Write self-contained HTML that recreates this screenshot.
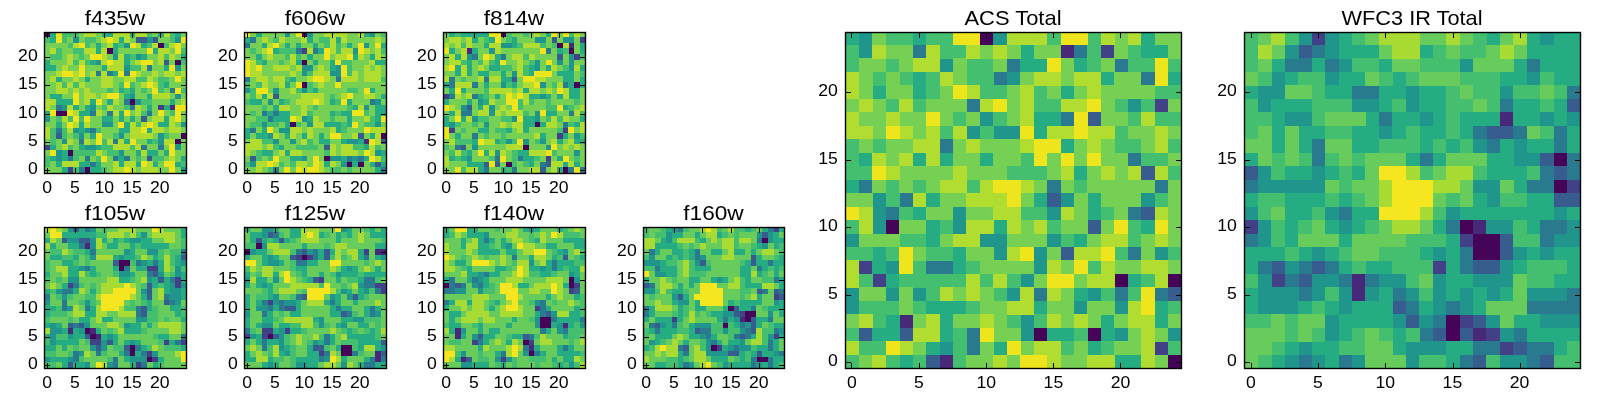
<!DOCTYPE html><html><head><meta charset="utf-8"><title>plot</title><style>html,body{margin:0;padding:0;background:#fff;overflow:hidden}svg{display:block;will-change:transform;opacity:0.9999}text{font-family:"Liberation Sans",sans-serif;fill:#000}</style></head><body>
<svg width="1600" height="400" viewBox="0 0 1600 400">
<rect width="1600" height="400" fill="#fff"/>
<clipPath id="c3"><rect x="44.5" y="32.5" width="142.0" height="141.0"/></clipPath>
<g shape-rendering="crispEdges" clip-path="url(#c3)">
<path fill="#450457" d="M44.50 31.20H50.48V37.16H44.50ZM158.10 42.52H164.08V48.48H158.10ZM106.98 48.18H112.96V54.14H106.98ZM175.14 59.50H181.12V65.46H175.14ZM129.70 99.12H135.68V105.08H129.70ZM55.86 110.44H67.52V116.40H55.86ZM180.82 133.08H186.80V139.04H180.82ZM175.14 138.74H181.12V144.70H175.14ZM67.22 150.06H73.20V156.02H67.22ZM84.26 167.04H90.24V173.00H84.26Z"/>
<path fill="#482878" d="M169.46 104.78H175.44V110.74H169.46Z"/>
<path fill="#424086" d="M158.10 104.78H164.08V110.74H158.10ZM44.50 144.40H50.48V150.36H44.50ZM67.22 167.04H73.20V173.00H67.22Z"/>
<path fill="#365d8d" d="M135.38 36.86H147.04V42.82H135.38ZM152.42 36.86H158.40V42.82H152.42ZM163.78 59.50H169.76V65.46H163.78ZM141.06 116.10H147.04V122.06H141.06ZM55.86 133.08H61.84V139.04H55.86ZM146.74 155.72H152.72V161.68H146.74Z"/>
<path fill="#297a8e" d="M146.74 65.16H152.72V71.12H146.74ZM95.62 70.82H101.60V76.78H95.62ZM106.98 70.82H112.96V76.78H106.98ZM124.02 70.82H130.00V76.78H124.02ZM169.46 87.80H175.44V93.76H169.46ZM124.02 99.12H130.00V105.08H124.02ZM55.86 104.78H61.84V110.74H55.86ZM129.70 104.78H135.68V110.74H129.70ZM89.94 110.44H95.92V116.40H89.94ZM106.98 110.44H112.96V116.40H106.98ZM146.74 110.44H152.72V116.40H146.74ZM55.86 127.42H61.84V133.38H55.86ZM89.94 127.42H95.92V133.38H89.94ZM78.58 138.74H84.56V144.70H78.58ZM112.66 138.74H118.64V144.70H112.66ZM141.06 144.40H147.04V150.36H141.06ZM158.10 144.40H164.08V150.36H158.10ZM67.22 155.72H73.20V161.68H67.22ZM84.26 155.72H90.24V161.68H84.26ZM112.66 155.72H118.64V161.68H112.66ZM124.02 155.72H130.00V161.68H124.02ZM89.94 161.38H95.92V167.34H89.94ZM78.58 167.04H84.56V173.00H78.58Z"/>
<path fill="#1f958b" d="M72.90 36.86H78.88V42.82H72.90ZM146.74 36.86H152.72V42.82H146.74ZM175.14 36.86H181.12V42.82H175.14ZM124.02 42.52H130.00V48.48H124.02ZM112.66 53.84H118.64V59.80H112.66ZM135.38 53.84H141.36V59.80H135.38ZM95.62 59.50H101.60V65.46H95.62ZM124.02 65.16H130.00V71.12H124.02ZM175.14 65.16H181.12V71.12H175.14ZM129.70 93.46H135.68V99.42H129.70ZM175.14 93.46H181.12V99.42H175.14ZM135.38 99.12H141.36V105.08H135.38ZM61.54 104.78H67.52V110.74H61.54ZM89.94 104.78H95.92V110.74H89.94ZM44.50 116.10H50.48V122.06H44.50ZM101.30 121.76H112.96V127.72H101.30ZM180.82 121.76H186.80V127.72H180.82ZM72.90 127.42H78.88V133.38H72.90ZM84.26 127.42H90.24V133.38H84.26ZM78.58 133.08H84.56V139.04H78.58ZM118.34 133.08H124.32V139.04H118.34ZM158.10 133.08H164.08V139.04H158.10ZM61.54 138.74H67.52V144.70H61.54ZM158.10 138.74H164.08V144.70H158.10ZM84.26 144.40H95.92V150.36H84.26ZM175.14 144.40H181.12V150.36H175.14ZM55.86 150.06H61.84V156.02H55.86ZM118.34 150.06H124.32V156.02H118.34ZM55.86 155.72H61.84V161.68H55.86ZM180.82 167.04H186.80V173.00H180.82Z"/>
<path fill="#25ac82" d="M50.18 31.20H56.16V37.16H50.18ZM101.30 31.20H112.96V37.16H101.30ZM129.70 31.20H135.68V37.16H129.70ZM158.10 31.20H164.08V37.16H158.10ZM175.14 31.20H181.12V37.16H175.14ZM50.18 36.86H56.16V42.82H50.18ZM118.34 36.86H124.32V42.82H118.34ZM95.62 42.52H101.60V48.48H95.62ZM112.66 42.52H118.64V48.48H112.66ZM141.06 42.52H147.04V48.48H141.06ZM95.62 48.18H101.60V54.14H95.62ZM112.66 48.18H118.64V54.14H112.66ZM152.42 48.18H158.40V54.14H152.42ZM124.02 53.84H130.00V59.80H124.02ZM141.06 53.84H147.04V59.80H141.06ZM180.82 53.84H186.80V59.80H180.82ZM44.50 59.50H50.48V65.46H44.50ZM89.94 59.50H95.92V65.46H89.94ZM124.02 59.50H130.00V65.46H124.02ZM44.50 65.16H56.16V71.12H44.50ZM101.30 65.16H107.28V71.12H101.30ZM163.78 65.16H169.76V71.12H163.78ZM112.66 70.82H118.64V76.78H112.66ZM55.86 76.48H61.84V82.44H55.86ZM84.26 76.48H90.24V82.44H84.26ZM163.78 82.14H169.76V88.10H163.78ZM118.34 87.80H124.32V93.76H118.34ZM129.70 87.80H135.68V93.76H129.70ZM50.18 93.46H61.84V99.42H50.18ZM124.02 93.46H130.00V99.42H124.02ZM146.74 93.46H152.72V99.42H146.74ZM55.86 99.12H73.20V105.08H55.86ZM89.94 99.12H95.92V105.08H89.94ZM106.98 99.12H112.96V105.08H106.98ZM169.46 99.12H175.44V105.08H169.46ZM72.90 104.78H78.88V110.74H72.90ZM84.26 104.78H90.24V110.74H84.26ZM146.74 104.78H152.72V110.74H146.74ZM163.78 104.78H169.76V110.74H163.78ZM44.50 110.44H50.48V116.40H44.50ZM78.58 110.44H90.24V116.40H78.58ZM118.34 110.44H124.32V116.40H118.34ZM101.30 116.10H112.96V122.06H101.30ZM118.34 116.10H124.32V122.06H118.34ZM129.70 116.10H135.68V122.06H129.70ZM163.78 116.10H169.76V122.06H163.78ZM55.86 121.76H61.84V127.72H55.86ZM78.58 121.76H84.56V127.72H78.58ZM124.02 121.76H130.00V127.72H124.02ZM158.10 121.76H169.76V127.72H158.10ZM78.58 127.42H84.56V133.38H78.58ZM118.34 127.42H130.00V133.38H118.34ZM146.74 127.42H152.72V133.38H146.74ZM89.94 133.08H95.92V139.04H89.94ZM124.02 138.74H130.00V144.70H124.02ZM146.74 138.74H152.72V144.70H146.74ZM50.18 144.40H56.16V150.36H50.18ZM78.58 144.40H84.56V150.36H78.58ZM95.62 144.40H101.60V150.36H95.62ZM61.54 150.06H67.52V156.02H61.54ZM135.38 150.06H141.36V156.02H135.38ZM146.74 150.06H158.40V156.02H146.74ZM163.78 150.06H169.76V156.02H163.78ZM50.18 155.72H56.16V161.68H50.18ZM61.54 155.72H67.52V161.68H61.54ZM118.34 155.72H124.32V161.68H118.34ZM180.82 155.72H186.80V161.68H180.82ZM55.86 161.38H61.84V167.34H55.86ZM78.58 161.38H90.24V167.34H78.58ZM95.62 161.38H101.60V167.34H95.62ZM118.34 161.38H124.32V167.34H118.34ZM135.38 161.38H141.36V167.34H135.38ZM152.42 161.38H158.40V167.34H152.42ZM175.14 161.38H181.12V167.34H175.14ZM61.54 167.04H67.52V173.00H61.54ZM89.94 167.04H101.60V173.00H89.94Z"/>
<path fill="#44bf70" d="M61.54 31.20H78.88V37.16H61.54ZM146.74 31.20H152.72V37.16H146.74ZM169.46 31.20H175.44V37.16H169.46ZM44.50 36.86H50.48V42.82H44.50ZM61.54 36.86H67.52V42.82H61.54ZM84.26 36.86H95.92V42.82H84.26ZM169.46 36.86H175.44V42.82H169.46ZM67.22 42.52H73.20V48.48H67.22ZM84.26 42.52H90.24V48.48H84.26ZM118.34 42.52H124.32V48.48H118.34ZM146.74 42.52H152.72V48.48H146.74ZM163.78 42.52H169.76V48.48H163.78ZM55.86 48.18H61.84V54.14H55.86ZM72.90 48.18H84.56V54.14H72.90ZM180.82 48.18H186.80V54.14H180.82ZM50.18 53.84H61.84V59.80H50.18ZM78.58 53.84H84.56V59.80H78.58ZM129.70 53.84H135.68V59.80H129.70ZM163.78 53.84H169.76V59.80H163.78ZM72.90 59.50H78.88V65.46H72.90ZM84.26 59.50H90.24V65.46H84.26ZM180.82 59.50H186.80V65.46H180.82ZM129.70 65.16H141.36V71.12H129.70ZM135.38 76.48H147.04V82.44H135.38ZM158.10 76.48H169.76V82.44H158.10ZM61.54 82.14H67.52V88.10H61.54ZM72.90 82.14H78.88V88.10H72.90ZM118.34 82.14H124.32V88.10H118.34ZM129.70 82.14H135.68V88.10H129.70ZM158.10 82.14H164.08V88.10H158.10ZM106.98 87.80H112.96V93.76H106.98ZM124.02 87.80H130.00V93.76H124.02ZM141.06 87.80H147.04V93.76H141.06ZM158.10 87.80H164.08V93.76H158.10ZM180.82 87.80H186.80V93.76H180.82ZM141.06 99.12H152.72V105.08H141.06ZM101.30 104.78H107.28V110.74H101.30ZM124.02 104.78H130.00V110.74H124.02ZM141.06 110.44H147.04V116.40H141.06ZM169.46 110.44H175.44V116.40H169.46ZM55.86 116.10H61.84V122.06H55.86ZM67.22 116.10H73.20V122.06H67.22ZM78.58 116.10H84.56V122.06H78.58ZM135.38 121.76H141.36V127.72H135.38ZM50.18 127.42H56.16V133.38H50.18ZM61.54 127.42H67.52V133.38H61.54ZM95.62 127.42H101.60V133.38H95.62ZM50.18 133.08H56.16V139.04H50.18ZM61.54 133.08H67.52V139.04H61.54ZM72.90 133.08H78.88V139.04H72.90ZM112.66 133.08H118.64V139.04H112.66ZM163.78 133.08H169.76V139.04H163.78ZM50.18 138.74H56.16V144.70H50.18ZM101.30 138.74H107.28V144.70H101.30ZM152.42 138.74H158.40V144.70H152.42ZM67.22 144.40H73.20V150.36H67.22ZM101.30 144.40H112.96V150.36H101.30ZM129.70 144.40H135.68V150.36H129.70ZM72.90 150.06H95.92V156.02H72.90ZM106.98 150.06H118.64V156.02H106.98ZM44.50 155.72H50.48V161.68H44.50ZM72.90 155.72H78.88V161.68H72.90ZM95.62 155.72H101.60V161.68H95.62ZM135.38 155.72H141.36V161.68H135.38ZM152.42 155.72H164.08V161.68H152.42ZM44.50 161.38H50.48V167.34H44.50ZM180.82 161.38H186.80V167.34H180.82ZM72.90 167.04H78.88V173.00H72.90ZM101.30 167.04H107.28V173.00H101.30Z"/>
<path fill="#75d054" d="M78.58 31.20H84.56V37.16H78.58ZM95.62 31.20H101.60V37.16H95.62ZM152.42 31.20H158.40V37.16H152.42ZM180.82 31.20H186.80V37.16H180.82ZM67.22 36.86H73.20V42.82H67.22ZM78.58 36.86H84.56V42.82H78.58ZM95.62 36.86H101.60V42.82H95.62ZM129.70 36.86H135.68V42.82H129.70ZM158.10 36.86H169.76V42.82H158.10ZM44.50 42.52H67.52V48.48H44.50ZM89.94 42.52H95.92V48.48H89.94ZM101.30 42.52H107.28V48.48H101.30ZM180.82 42.52H186.80V48.48H180.82ZM44.50 48.18H50.48V54.14H44.50ZM61.54 48.18H73.20V54.14H61.54ZM118.34 48.18H147.04V54.14H118.34ZM169.46 48.18H175.44V54.14H169.46ZM44.50 53.84H50.48V59.80H44.50ZM61.54 53.84H67.52V59.80H61.54ZM72.90 53.84H78.88V59.80H72.90ZM84.26 53.84H90.24V59.80H84.26ZM106.98 53.84H112.96V59.80H106.98ZM146.74 53.84H158.40V59.80H146.74ZM175.14 53.84H181.12V59.80H175.14ZM50.18 59.50H67.52V65.46H50.18ZM129.70 59.50H135.68V65.46H129.70ZM152.42 59.50H158.40V65.46H152.42ZM169.46 59.50H175.44V65.46H169.46ZM55.86 65.16H61.84V71.12H55.86ZM67.22 65.16H78.88V71.12H67.22ZM84.26 65.16H101.60V71.12H84.26ZM152.42 65.16H164.08V71.12H152.42ZM180.82 65.16H186.80V71.12H180.82ZM44.50 70.82H56.16V76.78H44.50ZM84.26 70.82H90.24V76.78H84.26ZM141.06 70.82H152.72V76.78H141.06ZM158.10 70.82H164.08V76.78H158.10ZM175.14 70.82H181.12V76.78H175.14ZM44.50 76.48H50.48V82.44H44.50ZM61.54 76.48H73.20V82.44H61.54ZM78.58 76.48H84.56V82.44H78.58ZM89.94 76.48H101.60V82.44H89.94ZM112.66 76.48H124.32V82.44H112.66ZM152.42 76.48H158.40V82.44H152.42ZM169.46 76.48H175.44V82.44H169.46ZM180.82 76.48H186.80V82.44H180.82ZM44.50 82.14H56.16V88.10H44.50ZM84.26 82.14H101.60V88.10H84.26ZM112.66 82.14H118.64V88.10H112.66ZM135.38 82.14H141.36V88.10H135.38ZM169.46 82.14H186.80V88.10H169.46ZM44.50 87.80H56.16V93.76H44.50ZM67.22 87.80H73.20V93.76H67.22ZM78.58 87.80H84.56V93.76H78.58ZM89.94 87.80H107.28V93.76H89.94ZM112.66 87.80H118.64V93.76H112.66ZM135.38 87.80H141.36V93.76H135.38ZM146.74 87.80H152.72V93.76H146.74ZM163.78 87.80H169.76V93.76H163.78ZM44.50 93.46H50.48V99.42H44.50ZM61.54 93.46H73.20V99.42H61.54ZM78.58 93.46H84.56V99.42H78.58ZM95.62 93.46H101.60V99.42H95.62ZM118.34 93.46H124.32V99.42H118.34ZM135.38 93.46H147.04V99.42H135.38ZM169.46 93.46H175.44V99.42H169.46ZM180.82 93.46H186.80V99.42H180.82ZM78.58 99.12H84.56V105.08H78.58ZM101.30 99.12H107.28V105.08H101.30ZM118.34 99.12H124.32V105.08H118.34ZM152.42 99.12H169.76V105.08H152.42ZM175.14 99.12H181.12V105.08H175.14ZM50.18 104.78H56.16V110.74H50.18ZM78.58 104.78H84.56V110.74H78.58ZM95.62 104.78H101.60V110.74H95.62ZM112.66 104.78H124.32V110.74H112.66ZM141.06 104.78H147.04V110.74H141.06ZM152.42 104.78H158.40V110.74H152.42ZM101.30 110.44H107.28V116.40H101.30ZM129.70 110.44H135.68V116.40H129.70ZM152.42 110.44H158.40V116.40H152.42ZM163.78 110.44H169.76V116.40H163.78ZM180.82 110.44H186.80V116.40H180.82ZM50.18 116.10H56.16V122.06H50.18ZM89.94 116.10H101.60V122.06H89.94ZM112.66 116.10H118.64V122.06H112.66ZM124.02 116.10H130.00V122.06H124.02ZM135.38 116.10H141.36V122.06H135.38ZM146.74 116.10H152.72V122.06H146.74ZM180.82 116.10H186.80V122.06H180.82ZM44.50 121.76H56.16V127.72H44.50ZM61.54 121.76H67.52V127.72H61.54ZM89.94 121.76H101.60V127.72H89.94ZM112.66 121.76H118.64V127.72H112.66ZM175.14 121.76H181.12V127.72H175.14ZM101.30 127.42H118.64V133.38H101.30ZM163.78 127.42H169.76V133.38H163.78ZM180.82 127.42H186.80V133.38H180.82ZM67.22 133.08H73.20V139.04H67.22ZM84.26 133.08H90.24V139.04H84.26ZM101.30 133.08H112.96V139.04H101.30ZM124.02 133.08H130.00V139.04H124.02ZM152.42 133.08H158.40V139.04H152.42ZM169.46 133.08H181.12V139.04H169.46ZM44.50 138.74H50.48V144.70H44.50ZM55.86 138.74H61.84V144.70H55.86ZM72.90 138.74H78.88V144.70H72.90ZM89.94 138.74H95.92V144.70H89.94ZM135.38 138.74H147.04V144.70H135.38ZM180.82 138.74H186.80V144.70H180.82ZM55.86 144.40H61.84V150.36H55.86ZM72.90 144.40H78.88V150.36H72.90ZM146.74 144.40H158.40V150.36H146.74ZM163.78 144.40H169.76V150.36H163.78ZM180.82 144.40H186.80V150.36H180.82ZM44.50 150.06H50.48V156.02H44.50ZM101.30 150.06H107.28V156.02H101.30ZM124.02 150.06H135.68V156.02H124.02ZM158.10 150.06H164.08V156.02H158.10ZM175.14 150.06H186.80V156.02H175.14ZM78.58 155.72H84.56V161.68H78.58ZM89.94 155.72H95.92V161.68H89.94ZM106.98 155.72H112.96V161.68H106.98ZM129.70 155.72H135.68V161.68H129.70ZM141.06 155.72H147.04V161.68H141.06ZM163.78 155.72H169.76V161.68H163.78ZM175.14 155.72H181.12V161.68H175.14ZM50.18 161.38H56.16V167.34H50.18ZM101.30 161.38H112.96V167.34H101.30ZM158.10 161.38H164.08V167.34H158.10ZM44.50 167.04H61.84V173.00H44.50ZM106.98 167.04H112.96V173.00H106.98ZM135.38 167.04H141.36V173.00H135.38ZM158.10 167.04H169.76V173.00H158.10ZM175.14 167.04H181.12V173.00H175.14Z"/>
<path fill="#b0dd2f" d="M84.26 31.20H95.92V37.16H84.26ZM112.66 31.20H130.00V37.16H112.66ZM135.38 31.20H147.04V37.16H135.38ZM163.78 31.20H169.76V37.16H163.78ZM101.30 36.86H107.28V42.82H101.30ZM112.66 36.86H118.64V42.82H112.66ZM124.02 36.86H130.00V42.82H124.02ZM72.90 42.52H78.88V48.48H72.90ZM106.98 42.52H112.96V48.48H106.98ZM135.38 42.52H141.36V48.48H135.38ZM152.42 42.52H158.40V48.48H152.42ZM169.46 42.52H175.44V48.48H169.46ZM50.18 48.18H56.16V54.14H50.18ZM84.26 48.18H95.92V54.14H84.26ZM101.30 48.18H107.28V54.14H101.30ZM158.10 48.18H169.76V54.14H158.10ZM67.22 53.84H73.20V59.80H67.22ZM101.30 53.84H107.28V59.80H101.30ZM118.34 53.84H124.32V59.80H118.34ZM158.10 53.84H164.08V59.80H158.10ZM169.46 53.84H175.44V59.80H169.46ZM67.22 59.50H73.20V65.46H67.22ZM78.58 59.50H84.56V65.46H78.58ZM101.30 59.50H107.28V65.46H101.30ZM112.66 59.50H124.32V65.46H112.66ZM135.38 59.50H141.36V65.46H135.38ZM158.10 59.50H164.08V65.46H158.10ZM61.54 65.16H67.52V71.12H61.54ZM106.98 65.16H124.32V71.12H106.98ZM141.06 65.16H147.04V71.12H141.06ZM55.86 70.82H61.84V76.78H55.86ZM72.90 70.82H78.88V76.78H72.90ZM89.94 70.82H95.92V76.78H89.94ZM101.30 70.82H107.28V76.78H101.30ZM135.38 70.82H141.36V76.78H135.38ZM152.42 70.82H158.40V76.78H152.42ZM163.78 70.82H175.44V76.78H163.78ZM180.82 70.82H186.80V76.78H180.82ZM50.18 76.48H56.16V82.44H50.18ZM72.90 76.48H78.88V82.44H72.90ZM101.30 76.48H112.96V82.44H101.30ZM124.02 76.48H135.68V82.44H124.02ZM146.74 76.48H152.72V82.44H146.74ZM55.86 82.14H61.84V88.10H55.86ZM67.22 82.14H73.20V88.10H67.22ZM78.58 82.14H84.56V88.10H78.58ZM101.30 82.14H112.96V88.10H101.30ZM141.06 82.14H147.04V88.10H141.06ZM152.42 82.14H158.40V88.10H152.42ZM55.86 87.80H67.52V93.76H55.86ZM72.90 87.80H78.88V93.76H72.90ZM84.26 87.80H90.24V93.76H84.26ZM84.26 93.46H95.92V99.42H84.26ZM101.30 93.46H107.28V99.42H101.30ZM152.42 93.46H169.76V99.42H152.42ZM44.50 99.12H56.16V105.08H44.50ZM84.26 99.12H90.24V105.08H84.26ZM112.66 99.12H118.64V105.08H112.66ZM180.82 99.12H186.80V105.08H180.82ZM44.50 104.78H50.48V110.74H44.50ZM67.22 104.78H73.20V110.74H67.22ZM106.98 104.78H112.96V110.74H106.98ZM135.38 104.78H141.36V110.74H135.38ZM72.90 110.44H78.88V116.40H72.90ZM95.62 110.44H101.60V116.40H95.62ZM112.66 110.44H118.64V116.40H112.66ZM135.38 110.44H141.36V116.40H135.38ZM61.54 116.10H67.52V122.06H61.54ZM152.42 116.10H164.08V122.06H152.42ZM169.46 116.10H175.44V122.06H169.46ZM72.90 121.76H78.88V127.72H72.90ZM84.26 121.76H90.24V127.72H84.26ZM129.70 121.76H135.68V127.72H129.70ZM141.06 121.76H147.04V127.72H141.06ZM152.42 121.76H158.40V127.72H152.42ZM169.46 121.76H175.44V127.72H169.46ZM44.50 127.42H50.48V133.38H44.50ZM67.22 127.42H73.20V133.38H67.22ZM129.70 127.42H141.36V133.38H129.70ZM152.42 127.42H164.08V133.38H152.42ZM169.46 127.42H181.12V133.38H169.46ZM44.50 133.08H50.48V139.04H44.50ZM129.70 133.08H152.72V139.04H129.70ZM67.22 138.74H73.20V144.70H67.22ZM84.26 138.74H90.24V144.70H84.26ZM106.98 138.74H112.96V144.70H106.98ZM118.34 138.74H124.32V144.70H118.34ZM163.78 138.74H175.44V144.70H163.78ZM61.54 144.40H67.52V150.36H61.54ZM112.66 144.40H130.00V150.36H112.66ZM135.38 144.40H141.36V150.36H135.38ZM95.62 150.06H101.60V156.02H95.62ZM141.06 150.06H147.04V156.02H141.06ZM169.46 155.72H175.44V161.68H169.46ZM61.54 161.38H78.88V167.34H61.54ZM112.66 161.38H118.64V167.34H112.66ZM124.02 161.38H135.68V167.34H124.02ZM146.74 161.38H152.72V167.34H146.74ZM112.66 167.04H124.32V173.00H112.66ZM129.70 167.04H135.68V173.00H129.70ZM141.06 167.04H158.40V173.00H141.06Z"/>
<path fill="#efe51c" d="M55.86 31.20H61.84V37.16H55.86ZM55.86 36.86H61.84V42.82H55.86ZM106.98 36.86H112.96V42.82H106.98ZM180.82 36.86H186.80V42.82H180.82ZM78.58 42.52H84.56V48.48H78.58ZM129.70 42.52H135.68V48.48H129.70ZM175.14 42.52H181.12V48.48H175.14ZM146.74 48.18H152.72V54.14H146.74ZM175.14 48.18H181.12V54.14H175.14ZM89.94 53.84H101.60V59.80H89.94ZM106.98 59.50H112.96V65.46H106.98ZM141.06 59.50H152.72V65.46H141.06ZM78.58 65.16H84.56V71.12H78.58ZM169.46 65.16H175.44V71.12H169.46ZM61.54 70.82H73.20V76.78H61.54ZM78.58 70.82H84.56V76.78H78.58ZM118.34 70.82H124.32V76.78H118.34ZM129.70 70.82H135.68V76.78H129.70ZM175.14 76.48H181.12V82.44H175.14ZM124.02 82.14H130.00V88.10H124.02ZM146.74 82.14H152.72V88.10H146.74ZM152.42 87.80H158.40V93.76H152.42ZM175.14 87.80H181.12V93.76H175.14ZM72.90 93.46H78.88V99.42H72.90ZM106.98 93.46H118.64V99.42H106.98ZM72.90 99.12H78.88V105.08H72.90ZM95.62 99.12H101.60V105.08H95.62ZM175.14 104.78H186.80V110.74H175.14ZM50.18 110.44H56.16V116.40H50.18ZM67.22 110.44H73.20V116.40H67.22ZM124.02 110.44H130.00V116.40H124.02ZM158.10 110.44H164.08V116.40H158.10ZM175.14 110.44H181.12V116.40H175.14ZM72.90 116.10H78.88V122.06H72.90ZM84.26 116.10H90.24V122.06H84.26ZM175.14 116.10H181.12V122.06H175.14ZM67.22 121.76H73.20V127.72H67.22ZM118.34 121.76H124.32V127.72H118.34ZM146.74 121.76H152.72V127.72H146.74ZM141.06 127.42H147.04V133.38H141.06ZM95.62 133.08H101.60V139.04H95.62ZM95.62 138.74H101.60V144.70H95.62ZM129.70 138.74H135.68V144.70H129.70ZM169.46 144.40H175.44V150.36H169.46ZM50.18 150.06H56.16V156.02H50.18ZM169.46 150.06H175.44V156.02H169.46ZM101.30 155.72H107.28V161.68H101.30ZM141.06 161.38H147.04V167.34H141.06ZM163.78 161.38H175.44V167.34H163.78ZM124.02 167.04H130.00V173.00H124.02ZM169.46 167.04H175.44V173.00H169.46Z"/>
</g>
<path d="M47.50 173.50v-5.6M47.50 32.50v5.6M44.50 170.50h5.6M186.50 170.50h-5.6M75.50 173.50v-5.6M75.50 32.50v5.6M44.50 142.50h5.6M186.50 142.50h-5.6M104.50 173.50v-5.6M104.50 32.50v5.6M44.50 114.50h5.6M186.50 114.50h-5.6M132.50 173.50v-5.6M132.50 32.50v5.6M44.50 85.50h5.6M186.50 85.50h-5.6M160.50 173.50v-5.6M160.50 32.50v5.6M44.50 57.50h5.6M186.50 57.50h-5.6" stroke="#000" stroke-width="1" fill="none" shape-rendering="crispEdges"/>
<rect x="44.5" y="32.5" width="142.0" height="141.0" fill="none" stroke="#000" stroke-width="1.39"/>
<text x="47.20" y="192.90" font-size="17.00" text-anchor="middle" textLength="9.8" lengthAdjust="spacingAndGlyphs">0</text>
<text x="37.70" y="173.90" font-size="17.00" text-anchor="end" textLength="9.8" lengthAdjust="spacingAndGlyphs">0</text>
<text x="74.90" y="192.90" font-size="17.00" text-anchor="middle" textLength="9.8" lengthAdjust="spacingAndGlyphs">5</text>
<text x="37.70" y="145.90" font-size="17.00" text-anchor="end" textLength="9.8" lengthAdjust="spacingAndGlyphs">5</text>
<text x="104.30" y="192.90" font-size="17.00" text-anchor="middle" textLength="19.6" lengthAdjust="spacingAndGlyphs">10</text>
<text x="37.70" y="117.90" font-size="17.00" text-anchor="end" textLength="19.6" lengthAdjust="spacingAndGlyphs">10</text>
<text x="132.10" y="192.90" font-size="17.00" text-anchor="middle" textLength="19.6" lengthAdjust="spacingAndGlyphs">15</text>
<text x="37.70" y="88.90" font-size="17.00" text-anchor="end" textLength="19.6" lengthAdjust="spacingAndGlyphs">15</text>
<text x="159.80" y="192.90" font-size="17.00" text-anchor="middle" textLength="19.6" lengthAdjust="spacingAndGlyphs">20</text>
<text x="37.70" y="60.90" font-size="17.00" text-anchor="end" textLength="19.6" lengthAdjust="spacingAndGlyphs">20</text>
<text x="115.00" y="24.60" font-size="20.40" text-anchor="middle" textLength="60.5" lengthAdjust="spacingAndGlyphs">f435w</text>
<clipPath id="c30"><rect x="244.5" y="32.5" width="142.0" height="141.0"/></clipPath>
<g shape-rendering="crispEdges" clip-path="url(#c30)">
<path fill="#450457" d="M301.30 31.20H307.28V37.16H301.30ZM301.30 59.50H307.28V65.46H301.30ZM301.30 82.14H307.28V88.10H301.30ZM289.94 121.76H295.92V127.72H289.94ZM380.82 133.08H386.80V139.04H380.82ZM324.02 155.72H330.00V161.68H324.02ZM346.74 161.38H352.72V167.34H346.74ZM358.10 161.38H364.08V167.34H358.10Z"/>
<path fill="#482878" d="M363.78 138.74H369.76V144.70H363.78Z"/>
<path fill="#424086" d="M301.30 48.18H307.28V54.14H301.30Z"/>
<path fill="#365d8d" d="M272.90 93.46H278.88V99.42H272.90ZM358.10 133.08H364.08V139.04H358.10ZM380.82 138.74H386.80V144.70H380.82ZM324.02 144.40H330.00V150.36H324.02ZM250.18 155.72H256.16V161.68H250.18ZM375.14 161.38H381.12V167.34H375.14Z"/>
<path fill="#297a8e" d="M250.18 36.86H256.16V42.82H250.18ZM244.50 42.52H250.48V48.48H244.50ZM295.62 48.18H301.60V54.14H295.62ZM312.66 48.18H318.64V54.14H312.66ZM244.50 76.48H250.48V82.44H244.50ZM335.38 76.48H341.36V82.44H335.38ZM369.46 99.12H375.44V105.08H369.46ZM261.54 110.44H267.52V116.40H261.54ZM272.90 110.44H278.88V116.40H272.90ZM267.22 116.10H273.20V122.06H267.22ZM250.18 127.42H256.16V133.38H250.18ZM346.74 155.72H352.72V161.68H346.74ZM358.10 155.72H364.08V161.68H358.10ZM272.90 167.04H278.88V173.00H272.90ZM380.82 167.04H386.80V173.00H380.82Z"/>
<path fill="#1f958b" d="M284.26 31.20H290.24V37.16H284.26ZM306.98 31.20H312.96V37.16H306.98ZM369.46 31.20H375.44V37.16H369.46ZM363.78 42.52H369.76V48.48H363.78ZM352.42 48.18H358.40V54.14H352.42ZM301.30 65.16H312.96V71.12H301.30ZM335.38 65.16H341.36V71.12H335.38ZM301.30 70.82H307.28V76.78H301.30ZM329.70 70.82H341.36V76.78H329.70ZM244.50 87.80H250.48V93.76H244.50ZM272.90 87.80H278.88V93.76H272.90ZM301.30 87.80H307.28V93.76H301.30ZM267.22 99.12H273.20V105.08H267.22ZM375.14 99.12H381.12V105.08H375.14ZM363.78 104.78H369.76V110.74H363.78ZM301.30 116.10H307.28V122.06H301.30ZM261.54 121.76H267.52V127.72H261.54ZM306.98 121.76H312.96V127.72H306.98ZM375.14 121.76H381.12V127.72H375.14ZM278.58 127.42H290.24V133.38H278.58ZM267.22 133.08H273.20V139.04H267.22ZM272.90 138.74H278.88V144.70H272.90ZM289.94 138.74H295.92V144.70H289.94ZM346.74 138.74H358.40V144.70H346.74ZM375.14 150.06H381.12V156.02H375.14ZM301.30 155.72H307.28V161.68H301.30ZM329.70 155.72H341.36V161.68H329.70ZM352.42 155.72H358.40V161.68H352.42ZM250.18 161.38H256.16V167.34H250.18ZM341.06 161.38H347.04V167.34H341.06Z"/>
<path fill="#25ac82" d="M255.86 31.20H261.84V37.16H255.86ZM363.78 31.20H369.76V37.16H363.78ZM244.50 36.86H250.48V42.82H244.50ZM306.98 36.86H312.96V42.82H306.98ZM335.38 36.86H341.36V42.82H335.38ZM261.54 42.52H267.52V48.48H261.54ZM284.26 42.52H290.24V48.48H284.26ZM295.62 42.52H301.60V48.48H295.62ZM312.66 42.52H318.64V48.48H312.66ZM346.74 42.52H352.72V48.48H346.74ZM380.82 42.52H386.80V48.48H380.82ZM272.90 48.18H278.88V54.14H272.90ZM318.34 48.18H324.32V54.14H318.34ZM255.86 53.84H261.84V59.80H255.86ZM306.98 53.84H312.96V59.80H306.98ZM352.42 53.84H358.40V59.80H352.42ZM369.46 53.84H375.44V59.80H369.46ZM261.54 59.50H267.52V65.46H261.54ZM295.62 59.50H301.60V65.46H295.62ZM312.66 59.50H318.64V65.46H312.66ZM329.70 59.50H335.68V65.46H329.70ZM375.14 59.50H386.80V65.46H375.14ZM329.70 65.16H335.68V71.12H329.70ZM289.94 76.48H295.92V82.44H289.94ZM284.26 82.14H290.24V88.10H284.26ZM312.66 87.80H318.64V93.76H312.66ZM369.46 87.80H375.44V93.76H369.46ZM261.54 93.46H267.52V99.42H261.54ZM380.82 93.46H386.80V99.42H380.82ZM250.18 99.12H261.84V105.08H250.18ZM278.58 99.12H284.56V105.08H278.58ZM329.70 99.12H335.68V105.08H329.70ZM346.74 99.12H352.72V105.08H346.74ZM272.90 104.78H278.88V110.74H272.90ZM352.42 104.78H358.40V110.74H352.42ZM375.14 104.78H386.80V110.74H375.14ZM267.22 110.44H273.20V116.40H267.22ZM278.58 110.44H290.24V116.40H278.58ZM329.70 110.44H335.68V116.40H329.70ZM341.06 110.44H352.72V116.40H341.06ZM375.14 110.44H386.80V116.40H375.14ZM272.90 116.10H290.24V122.06H272.90ZM306.98 116.10H312.96V122.06H306.98ZM346.74 116.10H352.72V122.06H346.74ZM375.14 116.10H381.12V122.06H375.14ZM284.26 121.76H290.24V127.72H284.26ZM324.02 121.76H341.36V127.72H324.02ZM346.74 121.76H352.72V127.72H346.74ZM244.50 127.42H250.48V133.38H244.50ZM261.54 127.42H267.52V133.38H261.54ZM335.38 127.42H341.36V133.38H335.38ZM244.50 133.08H250.48V139.04H244.50ZM255.86 133.08H267.52V139.04H255.86ZM284.26 133.08H290.24V139.04H284.26ZM301.30 133.08H307.28V139.04H301.30ZM318.34 133.08H324.32V139.04H318.34ZM369.46 133.08H375.44V139.04H369.46ZM318.34 138.74H330.00V144.70H318.34ZM341.06 138.74H347.04V144.70H341.06ZM358.10 138.74H364.08V144.70H358.10ZM278.58 144.40H284.56V150.36H278.58ZM363.78 144.40H369.76V150.36H363.78ZM261.54 150.06H273.20V156.02H261.54ZM284.26 150.06H290.24V156.02H284.26ZM380.82 150.06H386.80V156.02H380.82ZM289.94 155.72H301.60V161.68H289.94ZM341.06 155.72H347.04V161.68H341.06ZM363.78 155.72H369.76V161.68H363.78ZM324.02 161.38H330.00V167.34H324.02ZM352.42 161.38H358.40V167.34H352.42ZM369.46 161.38H375.44V167.34H369.46ZM380.82 161.38H386.80V167.34H380.82ZM375.14 167.04H381.12V173.00H375.14Z"/>
<path fill="#44bf70" d="M380.82 31.20H386.80V37.16H380.82ZM272.90 36.86H278.88V42.82H272.90ZM318.34 36.86H330.00V42.82H318.34ZM324.02 42.52H330.00V48.48H324.02ZM335.38 42.52H341.36V48.48H335.38ZM250.18 48.18H256.16V54.14H250.18ZM278.58 48.18H295.92V54.14H278.58ZM335.38 48.18H341.36V54.14H335.38ZM380.82 48.18H386.80V54.14H380.82ZM284.26 53.84H290.24V59.80H284.26ZM295.62 53.84H301.60V59.80H295.62ZM255.86 59.50H261.84V65.46H255.86ZM278.58 59.50H284.56V65.46H278.58ZM341.06 59.50H352.72V65.46H341.06ZM346.74 65.16H352.72V71.12H346.74ZM306.98 70.82H312.96V76.78H306.98ZM346.74 70.82H352.72V76.78H346.74ZM284.26 76.48H290.24V82.44H284.26ZM380.82 76.48H386.80V82.44H380.82ZM244.50 82.14H250.48V88.10H244.50ZM255.86 82.14H261.84V88.10H255.86ZM306.98 82.14H312.96V88.10H306.98ZM250.18 87.80H256.16V93.76H250.18ZM295.62 87.80H301.60V93.76H295.62ZM306.98 87.80H312.96V93.76H306.98ZM346.74 87.80H358.40V93.76H346.74ZM250.18 93.46H256.16V99.42H250.18ZM329.70 93.46H335.68V99.42H329.70ZM244.50 99.12H250.48V105.08H244.50ZM284.26 99.12H290.24V105.08H284.26ZM335.38 99.12H341.36V105.08H335.38ZM261.54 104.78H267.52V110.74H261.54ZM312.66 104.78H318.64V110.74H312.66ZM346.74 104.78H352.72V110.74H346.74ZM250.18 110.44H256.16V116.40H250.18ZM306.98 110.44H312.96V116.40H306.98ZM335.38 110.44H341.36V116.40H335.38ZM363.78 110.44H369.76V116.40H363.78ZM255.86 116.10H267.52V122.06H255.86ZM329.70 116.10H335.68V122.06H329.70ZM369.46 116.10H375.44V122.06H369.46ZM250.18 121.76H261.84V127.72H250.18ZM267.22 121.76H278.88V127.72H267.22ZM295.62 121.76H301.60V127.72H295.62ZM341.06 121.76H347.04V127.72H341.06ZM363.78 121.76H375.44V127.72H363.78ZM341.06 127.42H347.04V133.38H341.06ZM261.54 138.74H273.20V144.70H261.54ZM306.98 138.74H312.96V144.70H306.98ZM272.90 144.40H278.88V150.36H272.90ZM295.62 144.40H318.64V150.36H295.62ZM352.42 144.40H364.08V150.36H352.42ZM375.14 144.40H381.12V150.36H375.14ZM255.86 150.06H261.84V156.02H255.86ZM324.02 150.06H330.00V156.02H324.02ZM255.86 155.72H261.84V161.68H255.86ZM267.22 155.72H273.20V161.68H267.22ZM380.82 155.72H386.80V161.68H380.82ZM244.50 161.38H250.48V167.34H244.50ZM278.58 161.38H284.56V167.34H278.58ZM289.94 161.38H295.92V167.34H289.94ZM267.22 167.04H273.20V173.00H267.22ZM329.70 167.04H341.36V173.00H329.70ZM346.74 167.04H352.72V173.00H346.74Z"/>
<path fill="#75d054" d="M250.18 31.20H256.16V37.16H250.18ZM261.54 31.20H284.56V37.16H261.54ZM289.94 31.20H295.92V37.16H289.94ZM312.66 31.20H324.32V37.16H312.66ZM346.74 31.20H358.40V37.16H346.74ZM375.14 31.20H381.12V37.16H375.14ZM255.86 36.86H261.84V42.82H255.86ZM267.22 36.86H273.20V42.82H267.22ZM284.26 36.86H301.60V42.82H284.26ZM312.66 36.86H318.64V42.82H312.66ZM346.74 36.86H375.44V42.82H346.74ZM380.82 36.86H386.80V42.82H380.82ZM250.18 42.52H261.84V48.48H250.18ZM278.58 42.52H284.56V48.48H278.58ZM289.94 42.52H295.92V48.48H289.94ZM301.30 42.52H312.96V48.48H301.30ZM318.34 42.52H324.32V48.48H318.34ZM341.06 42.52H347.04V48.48H341.06ZM352.42 42.52H358.40V48.48H352.42ZM369.46 42.52H375.44V48.48H369.46ZM244.50 48.18H250.48V54.14H244.50ZM255.86 48.18H261.84V54.14H255.86ZM369.46 48.18H375.44V54.14H369.46ZM244.50 53.84H256.16V59.80H244.50ZM261.54 53.84H267.52V59.80H261.54ZM272.90 53.84H284.56V59.80H272.90ZM301.30 53.84H307.28V59.80H301.30ZM312.66 53.84H324.32V59.80H312.66ZM329.70 53.84H335.68V59.80H329.70ZM363.78 53.84H369.76V59.80H363.78ZM380.82 53.84H386.80V59.80H380.82ZM267.22 59.50H278.88V65.46H267.22ZM284.26 59.50H290.24V65.46H284.26ZM306.98 59.50H312.96V65.46H306.98ZM318.34 59.50H330.00V65.46H318.34ZM352.42 59.50H369.76V65.46H352.42ZM261.54 65.16H273.20V71.12H261.54ZM289.94 65.16H295.92V71.12H289.94ZM312.66 65.16H318.64V71.12H312.66ZM324.02 65.16H330.00V71.12H324.02ZM352.42 65.16H364.08V71.12H352.42ZM369.46 65.16H375.44V71.12H369.46ZM380.82 65.16H386.80V71.12H380.82ZM261.54 70.82H290.24V76.78H261.54ZM295.62 70.82H301.60V76.78H295.62ZM358.10 70.82H364.08V76.78H358.10ZM380.82 70.82H386.80V76.78H380.82ZM250.18 76.48H256.16V82.44H250.18ZM267.22 76.48H273.20V82.44H267.22ZM295.62 76.48H307.28V82.44H295.62ZM329.70 76.48H335.68V82.44H329.70ZM358.10 76.48H364.08V82.44H358.10ZM250.18 82.14H256.16V88.10H250.18ZM267.22 82.14H278.88V88.10H267.22ZM289.94 82.14H295.92V88.10H289.94ZM312.66 82.14H318.64V88.10H312.66ZM324.02 82.14H335.68V88.10H324.02ZM341.06 82.14H386.80V88.10H341.06ZM267.22 87.80H273.20V93.76H267.22ZM278.58 87.80H290.24V93.76H278.58ZM318.34 87.80H347.04V93.76H318.34ZM358.10 87.80H364.08V93.76H358.10ZM375.14 87.80H386.80V93.76H375.14ZM244.50 93.46H250.48V99.42H244.50ZM278.58 93.46H301.60V99.42H278.58ZM324.02 93.46H330.00V99.42H324.02ZM335.38 93.46H341.36V99.42H335.38ZM352.42 93.46H364.08V99.42H352.42ZM375.14 93.46H381.12V99.42H375.14ZM261.54 99.12H267.52V105.08H261.54ZM272.90 99.12H278.88V105.08H272.90ZM289.94 99.12H295.92V105.08H289.94ZM324.02 99.12H330.00V105.08H324.02ZM352.42 99.12H369.76V105.08H352.42ZM380.82 99.12H386.80V105.08H380.82ZM244.50 104.78H261.84V110.74H244.50ZM267.22 104.78H273.20V110.74H267.22ZM289.94 104.78H301.60V110.74H289.94ZM306.98 104.78H312.96V110.74H306.98ZM318.34 104.78H347.04V110.74H318.34ZM369.46 104.78H375.44V110.74H369.46ZM244.50 110.44H250.48V116.40H244.50ZM255.86 110.44H261.84V116.40H255.86ZM289.94 110.44H301.60V116.40H289.94ZM312.66 110.44H330.00V116.40H312.66ZM369.46 110.44H375.44V116.40H369.46ZM244.50 116.10H256.16V122.06H244.50ZM318.34 116.10H330.00V122.06H318.34ZM335.38 116.10H347.04V122.06H335.38ZM352.42 116.10H364.08V122.06H352.42ZM244.50 121.76H250.48V127.72H244.50ZM278.58 121.76H284.56V127.72H278.58ZM301.30 121.76H307.28V127.72H301.30ZM358.10 121.76H364.08V127.72H358.10ZM380.82 121.76H386.80V127.72H380.82ZM255.86 127.42H261.84V133.38H255.86ZM272.90 127.42H278.88V133.38H272.90ZM301.30 127.42H307.28V133.38H301.30ZM312.66 127.42H330.00V133.38H312.66ZM346.74 127.42H364.08V133.38H346.74ZM250.18 133.08H256.16V139.04H250.18ZM278.58 133.08H284.56V139.04H278.58ZM295.62 133.08H301.60V139.04H295.62ZM312.66 133.08H318.64V139.04H312.66ZM324.02 133.08H330.00V139.04H324.02ZM341.06 133.08H352.72V139.04H341.06ZM363.78 133.08H369.76V139.04H363.78ZM244.50 138.74H250.48V144.70H244.50ZM278.58 138.74H290.24V144.70H278.58ZM295.62 138.74H301.60V144.70H295.62ZM312.66 138.74H318.64V144.70H312.66ZM329.70 138.74H341.36V144.70H329.70ZM261.54 144.40H267.52V150.36H261.54ZM284.26 144.40H295.92V150.36H284.26ZM318.34 144.40H324.32V150.36H318.34ZM335.38 144.40H341.36V150.36H335.38ZM380.82 144.40H386.80V150.36H380.82ZM250.18 150.06H256.16V156.02H250.18ZM272.90 150.06H278.88V156.02H272.90ZM301.30 150.06H324.32V156.02H301.30ZM335.38 150.06H341.36V156.02H335.38ZM358.10 150.06H364.08V156.02H358.10ZM244.50 155.72H250.48V161.68H244.50ZM261.54 155.72H267.52V161.68H261.54ZM278.58 155.72H290.24V161.68H278.58ZM306.98 155.72H312.96V161.68H306.98ZM318.34 155.72H324.32V161.68H318.34ZM284.26 161.38H290.24V167.34H284.26ZM306.98 161.38H312.96V167.34H306.98ZM335.38 161.38H341.36V167.34H335.38ZM363.78 161.38H369.76V167.34H363.78ZM244.50 167.04H256.16V173.00H244.50ZM261.54 167.04H267.52V173.00H261.54ZM278.58 167.04H284.56V173.00H278.58ZM289.94 167.04H295.92V173.00H289.94ZM324.02 167.04H330.00V173.00H324.02ZM341.06 167.04H347.04V173.00H341.06ZM352.42 167.04H375.44V173.00H352.42Z"/>
<path fill="#b0dd2f" d="M324.02 31.20H347.04V37.16H324.02ZM358.10 31.20H364.08V37.16H358.10ZM261.54 36.86H267.52V42.82H261.54ZM278.58 36.86H284.56V42.82H278.58ZM301.30 36.86H307.28V42.82H301.30ZM329.70 36.86H335.68V42.82H329.70ZM341.06 36.86H347.04V42.82H341.06ZM375.14 36.86H381.12V42.82H375.14ZM267.22 42.52H273.20V48.48H267.22ZM329.70 42.52H335.68V48.48H329.70ZM261.54 48.18H267.52V54.14H261.54ZM306.98 48.18H312.96V54.14H306.98ZM329.70 48.18H335.68V54.14H329.70ZM341.06 48.18H352.72V54.14H341.06ZM363.78 48.18H369.76V54.14H363.78ZM375.14 48.18H381.12V54.14H375.14ZM267.22 53.84H273.20V59.80H267.22ZM289.94 53.84H295.92V59.80H289.94ZM335.38 53.84H347.04V59.80H335.38ZM358.10 53.84H364.08V59.80H358.10ZM375.14 53.84H381.12V59.80H375.14ZM250.18 59.50H256.16V65.46H250.18ZM289.94 59.50H295.92V65.46H289.94ZM369.46 59.50H375.44V65.46H369.46ZM250.18 65.16H256.16V71.12H250.18ZM272.90 65.16H290.24V71.12H272.90ZM295.62 65.16H301.60V71.12H295.62ZM318.34 65.16H324.32V71.12H318.34ZM363.78 65.16H369.76V71.12H363.78ZM375.14 65.16H381.12V71.12H375.14ZM250.18 70.82H261.84V76.78H250.18ZM289.94 70.82H295.92V76.78H289.94ZM312.66 70.82H330.00V76.78H312.66ZM352.42 70.82H358.40V76.78H352.42ZM363.78 70.82H381.12V76.78H363.78ZM255.86 76.48H267.52V82.44H255.86ZM272.90 76.48H284.56V82.44H272.90ZM306.98 76.48H312.96V82.44H306.98ZM324.02 76.48H330.00V82.44H324.02ZM341.06 76.48H358.40V82.44H341.06ZM363.78 76.48H381.12V82.44H363.78ZM261.54 82.14H267.52V88.10H261.54ZM278.58 82.14H284.56V88.10H278.58ZM318.34 82.14H324.32V88.10H318.34ZM289.94 87.80H295.92V93.76H289.94ZM255.86 93.46H261.84V99.42H255.86ZM267.22 93.46H273.20V99.42H267.22ZM301.30 93.46H324.32V99.42H301.30ZM341.06 93.46H347.04V99.42H341.06ZM363.78 93.46H375.44V99.42H363.78ZM295.62 99.12H312.96V105.08H295.62ZM318.34 99.12H324.32V105.08H318.34ZM278.58 104.78H290.24V110.74H278.58ZM301.30 104.78H307.28V110.74H301.30ZM358.10 104.78H364.08V110.74H358.10ZM301.30 110.44H307.28V116.40H301.30ZM295.62 116.10H301.60V122.06H295.62ZM312.66 116.10H318.64V122.06H312.66ZM363.78 116.10H369.76V122.06H363.78ZM312.66 121.76H324.32V127.72H312.66ZM289.94 127.42H301.60V133.38H289.94ZM306.98 127.42H312.96V133.38H306.98ZM329.70 127.42H335.68V133.38H329.70ZM369.46 127.42H386.80V133.38H369.46ZM272.90 133.08H278.88V139.04H272.90ZM289.94 133.08H295.92V139.04H289.94ZM306.98 133.08H312.96V139.04H306.98ZM352.42 133.08H358.40V139.04H352.42ZM375.14 133.08H381.12V139.04H375.14ZM250.18 138.74H261.84V144.70H250.18ZM301.30 138.74H307.28V144.70H301.30ZM375.14 138.74H381.12V144.70H375.14ZM244.50 144.40H261.84V150.36H244.50ZM267.22 144.40H273.20V150.36H267.22ZM329.70 144.40H335.68V150.36H329.70ZM341.06 144.40H352.72V150.36H341.06ZM369.46 144.40H375.44V150.36H369.46ZM244.50 150.06H250.48V156.02H244.50ZM278.58 150.06H284.56V156.02H278.58ZM289.94 150.06H301.60V156.02H289.94ZM329.70 150.06H335.68V156.02H329.70ZM341.06 150.06H358.40V156.02H341.06ZM369.46 150.06H375.44V156.02H369.46ZM375.14 155.72H381.12V161.68H375.14ZM255.86 161.38H267.52V167.34H255.86ZM272.90 161.38H278.88V167.34H272.90ZM295.62 161.38H307.28V167.34H295.62ZM318.34 161.38H324.32V167.34H318.34ZM329.70 161.38H335.68V167.34H329.70ZM255.86 167.04H261.84V173.00H255.86ZM301.30 167.04H307.28V173.00H301.30ZM318.34 167.04H324.32V173.00H318.34Z"/>
<path fill="#efe51c" d="M244.50 31.20H250.48V37.16H244.50ZM295.62 31.20H301.60V37.16H295.62ZM272.90 42.52H278.88V48.48H272.90ZM358.10 42.52H364.08V48.48H358.10ZM375.14 42.52H381.12V48.48H375.14ZM267.22 48.18H273.20V54.14H267.22ZM324.02 48.18H330.00V54.14H324.02ZM358.10 48.18H364.08V54.14H358.10ZM324.02 53.84H330.00V59.80H324.02ZM346.74 53.84H352.72V59.80H346.74ZM244.50 59.50H250.48V65.46H244.50ZM335.38 59.50H341.36V65.46H335.38ZM244.50 65.16H250.48V71.12H244.50ZM255.86 65.16H261.84V71.12H255.86ZM341.06 65.16H347.04V71.12H341.06ZM244.50 70.82H250.48V76.78H244.50ZM341.06 70.82H347.04V76.78H341.06ZM312.66 76.48H324.32V82.44H312.66ZM295.62 82.14H301.60V88.10H295.62ZM335.38 82.14H341.36V88.10H335.38ZM255.86 87.80H267.52V93.76H255.86ZM363.78 87.80H369.76V93.76H363.78ZM346.74 93.46H352.72V99.42H346.74ZM312.66 99.12H318.64V105.08H312.66ZM341.06 99.12H347.04V105.08H341.06ZM352.42 110.44H364.08V116.40H352.42ZM289.94 116.10H295.92V122.06H289.94ZM380.82 116.10H386.80V122.06H380.82ZM352.42 121.76H358.40V127.72H352.42ZM267.22 127.42H273.20V133.38H267.22ZM363.78 127.42H369.76V133.38H363.78ZM329.70 133.08H341.36V139.04H329.70ZM369.46 138.74H375.44V144.70H369.46ZM363.78 150.06H369.76V156.02H363.78ZM272.90 155.72H278.88V161.68H272.90ZM312.66 155.72H318.64V161.68H312.66ZM369.46 155.72H375.44V161.68H369.46ZM267.22 161.38H273.20V167.34H267.22ZM312.66 161.38H318.64V167.34H312.66ZM284.26 167.04H290.24V173.00H284.26ZM295.62 167.04H301.60V173.00H295.62ZM306.98 167.04H318.64V173.00H306.98Z"/>
</g>
<path d="M247.50 173.50v-5.6M247.50 32.50v5.6M244.50 170.50h5.6M386.50 170.50h-5.6M275.50 173.50v-5.6M275.50 32.50v5.6M244.50 142.50h5.6M386.50 142.50h-5.6M304.50 173.50v-5.6M304.50 32.50v5.6M244.50 114.50h5.6M386.50 114.50h-5.6M332.50 173.50v-5.6M332.50 32.50v5.6M244.50 85.50h5.6M386.50 85.50h-5.6M360.50 173.50v-5.6M360.50 32.50v5.6M244.50 57.50h5.6M386.50 57.50h-5.6" stroke="#000" stroke-width="1" fill="none" shape-rendering="crispEdges"/>
<rect x="244.5" y="32.5" width="142.0" height="141.0" fill="none" stroke="#000" stroke-width="1.39"/>
<text x="247.20" y="192.90" font-size="17.00" text-anchor="middle" textLength="9.8" lengthAdjust="spacingAndGlyphs">0</text>
<text x="237.70" y="173.90" font-size="17.00" text-anchor="end" textLength="9.8" lengthAdjust="spacingAndGlyphs">0</text>
<text x="274.90" y="192.90" font-size="17.00" text-anchor="middle" textLength="9.8" lengthAdjust="spacingAndGlyphs">5</text>
<text x="237.70" y="145.90" font-size="17.00" text-anchor="end" textLength="9.8" lengthAdjust="spacingAndGlyphs">5</text>
<text x="304.30" y="192.90" font-size="17.00" text-anchor="middle" textLength="19.6" lengthAdjust="spacingAndGlyphs">10</text>
<text x="237.70" y="117.90" font-size="17.00" text-anchor="end" textLength="19.6" lengthAdjust="spacingAndGlyphs">10</text>
<text x="332.10" y="192.90" font-size="17.00" text-anchor="middle" textLength="19.6" lengthAdjust="spacingAndGlyphs">15</text>
<text x="237.70" y="88.90" font-size="17.00" text-anchor="end" textLength="19.6" lengthAdjust="spacingAndGlyphs">15</text>
<text x="359.80" y="192.90" font-size="17.00" text-anchor="middle" textLength="19.6" lengthAdjust="spacingAndGlyphs">20</text>
<text x="237.70" y="60.90" font-size="17.00" text-anchor="end" textLength="19.6" lengthAdjust="spacingAndGlyphs">20</text>
<text x="315.00" y="24.60" font-size="20.40" text-anchor="middle" textLength="60.5" lengthAdjust="spacingAndGlyphs">f606w</text>
<clipPath id="c57"><rect x="443.5" y="32.5" width="142.0" height="141.0"/></clipPath>
<g shape-rendering="crispEdges" clip-path="url(#c57)">
<path fill="#450457" d="M500.30 31.20H506.28V37.16H500.30ZM557.10 42.52H563.08V48.48H557.10ZM568.46 48.18H574.44V54.14H568.46ZM574.14 82.14H580.12V88.10H574.14ZM534.38 121.76H540.36V127.72H534.38ZM523.02 144.40H529.00V150.36H523.02ZM505.98 161.38H511.96V167.34H505.98ZM562.78 167.04H568.76V173.00H562.78Z"/>
<path fill="#482878" d="M568.46 42.52H574.44V48.48H568.46ZM466.22 48.18H472.20V54.14H466.22Z"/>
<path fill="#424086" d="M579.82 36.86H585.80V42.82H579.82ZM574.14 53.84H580.12V59.80H574.14ZM443.50 93.46H449.48V99.42H443.50ZM449.18 127.42H455.16V133.38H449.18ZM562.78 127.42H568.76V133.38H562.78ZM557.10 133.08H563.08V139.04H557.10ZM545.74 155.72H551.72V161.68H545.74Z"/>
<path fill="#365d8d" d="M551.42 36.86H557.40V42.82H551.42ZM557.10 53.84H563.08V59.80H557.10ZM511.66 76.48H517.64V82.44H511.66ZM466.22 104.78H472.20V110.74H466.22ZM460.54 144.40H466.52V150.36H460.54ZM483.26 161.38H489.24V167.34H483.26ZM494.62 161.38H500.60V167.34H494.62ZM545.74 161.38H551.72V167.34H545.74ZM540.06 167.04H546.04V173.00H540.06Z"/>
<path fill="#297a8e" d="M545.74 48.18H551.72V54.14H545.74ZM471.90 53.84H477.88V59.80H471.90ZM500.30 53.84H506.28V59.80H500.30ZM449.18 76.48H455.16V82.44H449.18ZM483.26 76.48H489.24V82.44H483.26ZM449.18 82.14H455.16V88.10H449.18ZM471.90 82.14H477.88V88.10H471.90ZM562.78 82.14H568.76V88.10H562.78ZM449.18 93.46H455.16V99.42H449.18ZM471.90 93.46H477.88V99.42H471.90ZM460.54 110.44H472.20V116.40H460.54ZM568.46 110.44H574.44V116.40H568.46ZM562.78 121.76H568.76V127.72H562.78ZM471.90 133.08H477.88V139.04H471.90ZM454.86 144.40H460.84V150.36H454.86ZM494.62 155.72H500.60V161.68H494.62ZM517.34 155.72H523.32V161.68H517.34ZM540.06 161.38H546.04V167.34H540.06ZM483.26 167.04H489.24V173.00H483.26ZM511.66 167.04H517.64V173.00H511.66ZM568.46 167.04H574.44V173.00H568.46ZM579.82 167.04H585.80V173.00H579.82Z"/>
<path fill="#1f958b" d="M534.38 36.86H546.04V42.82H534.38ZM562.78 36.86H574.44V42.82H562.78ZM500.30 42.52H511.96V48.48H500.30ZM488.94 48.18H494.92V54.14H488.94ZM466.22 53.84H472.20V59.80H466.22ZM568.46 53.84H574.44V59.80H568.46ZM534.38 59.50H540.36V65.46H534.38ZM557.10 59.50H563.08V65.46H557.10ZM568.46 59.50H574.44V65.46H568.46ZM534.38 65.16H540.36V71.12H534.38ZM568.46 65.16H574.44V71.12H568.46ZM511.66 70.82H517.64V76.78H511.66ZM500.30 82.14H506.28V88.10H500.30ZM540.06 82.14H546.04V88.10H540.06ZM540.06 93.46H546.04V99.42H540.06ZM477.58 99.12H483.56V105.08H477.58ZM460.54 104.78H466.52V110.74H460.54ZM488.94 104.78H494.92V110.74H488.94ZM488.94 110.44H494.92V116.40H488.94ZM534.38 110.44H540.36V116.40H534.38ZM471.90 116.10H477.88V122.06H471.90ZM511.66 116.10H517.64V122.06H511.66ZM534.38 116.10H540.36V122.06H534.38ZM449.18 121.76H455.16V127.72H449.18ZM483.26 121.76H489.24V127.72H483.26ZM574.14 133.08H580.12V139.04H574.14ZM505.98 138.74H511.96V144.70H505.98ZM523.02 138.74H529.00V144.70H523.02ZM540.06 138.74H546.04V144.70H540.06ZM471.90 144.40H477.88V150.36H471.90ZM545.74 144.40H551.72V150.36H545.74ZM494.62 150.06H500.60V156.02H494.62ZM574.14 150.06H580.12V156.02H574.14ZM466.22 155.72H472.20V161.68H466.22Z"/>
<path fill="#25ac82" d="M449.18 31.20H455.16V37.16H449.18ZM460.54 31.20H489.24V37.16H460.54ZM545.74 31.20H551.72V37.16H545.74ZM471.90 36.86H477.88V42.82H471.90ZM488.94 36.86H494.92V42.82H488.94ZM511.66 36.86H517.64V42.82H511.66ZM483.26 42.52H489.24V48.48H483.26ZM511.66 42.52H517.64V48.48H511.66ZM579.82 42.52H585.80V48.48H579.82ZM449.18 48.18H455.16V54.14H449.18ZM471.90 48.18H477.88V54.14H471.90ZM557.10 48.18H563.08V54.14H557.10ZM579.82 48.18H585.80V54.14H579.82ZM454.86 53.84H460.84V59.80H454.86ZM494.62 53.84H500.60V59.80H494.62ZM466.22 59.50H472.20V65.46H466.22ZM494.62 59.50H500.60V65.46H494.62ZM454.86 65.16H460.84V71.12H454.86ZM466.22 65.16H472.20V71.12H466.22ZM488.94 65.16H500.60V71.12H488.94ZM528.70 65.16H534.68V71.12H528.70ZM545.74 65.16H551.72V71.12H545.74ZM579.82 65.16H585.80V71.12H579.82ZM454.86 70.82H460.84V76.78H454.86ZM466.22 70.82H472.20V76.78H466.22ZM477.58 70.82H489.24V76.78H477.58ZM500.30 70.82H506.28V76.78H500.30ZM528.70 70.82H534.68V76.78H528.70ZM557.10 70.82H574.44V76.78H557.10ZM500.30 76.48H511.96V82.44H500.30ZM562.78 76.48H574.44V82.44H562.78ZM579.82 76.48H585.80V82.44H579.82ZM443.50 82.14H449.48V88.10H443.50ZM483.26 82.14H489.24V88.10H483.26ZM511.66 82.14H517.64V88.10H511.66ZM568.46 82.14H574.44V88.10H568.46ZM579.82 82.14H585.80V88.10H579.82ZM449.18 87.80H455.16V93.76H449.18ZM460.54 87.80H466.52V93.76H460.54ZM523.02 87.80H529.00V93.76H523.02ZM568.46 87.80H580.12V93.76H568.46ZM477.58 93.46H483.56V99.42H477.58ZM494.62 93.46H500.60V99.42H494.62ZM528.70 93.46H540.36V99.42H528.70ZM545.74 93.46H551.72V99.42H545.74ZM557.10 93.46H563.08V99.42H557.10ZM568.46 93.46H580.12V99.42H568.46ZM443.50 99.12H449.48V105.08H443.50ZM466.22 99.12H472.20V105.08H466.22ZM483.26 99.12H489.24V105.08H483.26ZM477.58 104.78H483.56V110.74H477.58ZM562.78 104.78H568.76V110.74H562.78ZM449.18 110.44H455.16V116.40H449.18ZM545.74 110.44H557.40V116.40H545.74ZM443.50 116.10H449.48V122.06H443.50ZM460.54 116.10H466.52V122.06H460.54ZM523.02 116.10H534.68V122.06H523.02ZM579.82 116.10H585.80V122.06H579.82ZM443.50 121.76H449.48V127.72H443.50ZM523.02 121.76H534.68V127.72H523.02ZM540.06 121.76H546.04V127.72H540.06ZM574.14 121.76H580.12V127.72H574.14ZM477.58 127.42H489.24V133.38H477.58ZM505.98 127.42H511.96V133.38H505.98ZM523.02 127.42H529.00V133.38H523.02ZM454.86 133.08H460.84V139.04H454.86ZM540.06 133.08H546.04V139.04H540.06ZM562.78 133.08H568.76V139.04H562.78ZM471.90 138.74H477.88V144.70H471.90ZM494.62 138.74H500.60V144.70H494.62ZM557.10 138.74H563.08V144.70H557.10ZM574.14 138.74H585.80V144.70H574.14ZM466.22 150.06H472.20V156.02H466.22ZM483.26 150.06H489.24V156.02H483.26ZM517.34 150.06H529.00V156.02H517.34ZM449.18 155.72H455.16V161.68H449.18ZM460.54 155.72H466.52V161.68H460.54ZM523.02 155.72H534.68V161.68H523.02ZM557.10 155.72H563.08V161.68H557.10ZM466.22 161.38H483.56V167.34H466.22ZM528.70 161.38H534.68V167.34H528.70ZM562.78 161.38H568.76V167.34H562.78ZM574.14 161.38H580.12V167.34H574.14ZM477.58 167.04H483.56V173.00H477.58ZM500.30 167.04H506.28V173.00H500.30ZM557.10 167.04H563.08V173.00H557.10Z"/>
<path fill="#44bf70" d="M454.86 31.20H460.84V37.16H454.86ZM505.98 31.20H511.96V37.16H505.98ZM523.02 31.20H529.00V37.16H523.02ZM568.46 31.20H574.44V37.16H568.46ZM483.26 36.86H489.24V42.82H483.26ZM505.98 36.86H511.96V42.82H505.98ZM460.54 42.52H466.52V48.48H460.54ZM517.34 42.52H523.32V48.48H517.34ZM540.06 42.52H546.04V48.48H540.06ZM551.42 42.52H557.40V48.48H551.42ZM562.78 48.18H568.76V54.14H562.78ZM523.02 53.84H529.00V59.80H523.02ZM579.82 53.84H585.80V59.80H579.82ZM460.54 59.50H466.52V65.46H460.54ZM477.58 59.50H483.56V65.46H477.58ZM488.94 59.50H494.92V65.46H488.94ZM528.70 59.50H534.68V65.46H528.70ZM500.30 65.16H511.96V71.12H500.30ZM523.02 65.16H529.00V71.12H523.02ZM562.78 65.16H568.76V71.12H562.78ZM523.02 70.82H529.00V76.78H523.02ZM579.82 70.82H585.80V76.78H579.82ZM460.54 76.48H466.52V82.44H460.54ZM505.98 82.14H511.96V88.10H505.98ZM551.42 82.14H557.40V88.10H551.42ZM483.26 87.80H489.24V93.76H483.26ZM483.26 93.46H489.24V99.42H483.26ZM517.34 99.12H523.32V105.08H517.34ZM528.70 99.12H534.68V105.08H528.70ZM545.74 99.12H551.72V105.08H545.74ZM574.14 99.12H580.12V105.08H574.14ZM517.34 104.78H523.32V110.74H517.34ZM545.74 104.78H557.40V110.74H545.74ZM568.46 104.78H574.44V110.74H568.46ZM523.02 110.44H529.00V116.40H523.02ZM579.82 110.44H585.80V116.40H579.82ZM477.58 116.10H489.24V122.06H477.58ZM500.30 116.10H511.96V122.06H500.30ZM545.74 116.10H551.72V122.06H545.74ZM557.10 116.10H563.08V122.06H557.10ZM454.86 121.76H460.84V127.72H454.86ZM471.90 121.76H477.88V127.72H471.90ZM568.46 121.76H574.44V127.72H568.46ZM460.54 127.42H466.52V133.38H460.54ZM494.62 127.42H506.28V133.38H494.62ZM557.10 127.42H563.08V133.38H557.10ZM483.26 133.08H489.24V139.04H483.26ZM500.30 133.08H506.28V139.04H500.30ZM579.82 133.08H585.80V139.04H579.82ZM454.86 138.74H472.20V144.70H454.86ZM500.30 138.74H506.28V144.70H500.30ZM511.66 138.74H517.64V144.70H511.66ZM534.38 138.74H540.36V144.70H534.38ZM443.50 144.40H449.48V150.36H443.50ZM449.18 150.06H455.16V156.02H449.18ZM460.54 150.06H466.52V156.02H460.54ZM511.66 150.06H517.64V156.02H511.66ZM551.42 150.06H557.40V156.02H551.42ZM454.86 155.72H460.84V161.68H454.86ZM488.94 155.72H494.92V161.68H488.94ZM511.66 155.72H517.64V161.68H511.66ZM534.38 155.72H540.36V161.68H534.38ZM574.14 155.72H580.12V161.68H574.14ZM511.66 161.38H517.64V167.34H511.66ZM523.02 161.38H529.00V167.34H523.02ZM460.54 167.04H466.52V173.00H460.54ZM505.98 167.04H511.96V173.00H505.98Z"/>
<path fill="#75d054" d="M443.50 31.20H449.48V37.16H443.50ZM511.66 31.20H523.32V37.16H511.66ZM528.70 31.20H534.68V37.16H528.70ZM540.06 31.20H546.04V37.16H540.06ZM557.10 31.20H563.08V37.16H557.10ZM579.82 31.20H585.80V37.16H579.82ZM443.50 36.86H449.48V42.82H443.50ZM460.54 36.86H466.52V42.82H460.54ZM477.58 36.86H483.56V42.82H477.58ZM500.30 36.86H506.28V42.82H500.30ZM517.34 36.86H534.68V42.82H517.34ZM545.74 36.86H551.72V42.82H545.74ZM557.10 36.86H563.08V42.82H557.10ZM574.14 36.86H580.12V42.82H574.14ZM449.18 42.52H455.16V48.48H449.18ZM471.90 42.52H483.56V48.48H471.90ZM545.74 42.52H551.72V48.48H545.74ZM574.14 42.52H580.12V48.48H574.14ZM454.86 48.18H460.84V54.14H454.86ZM477.58 48.18H489.24V54.14H477.58ZM500.30 48.18H540.36V54.14H500.30ZM551.42 48.18H557.40V54.14H551.42ZM574.14 48.18H580.12V54.14H574.14ZM443.50 53.84H449.48V59.80H443.50ZM477.58 53.84H483.56V59.80H477.58ZM505.98 53.84H511.96V59.80H505.98ZM534.38 53.84H557.40V59.80H534.38ZM562.78 53.84H568.76V59.80H562.78ZM443.50 59.50H449.48V65.46H443.50ZM471.90 59.50H477.88V65.46H471.90ZM505.98 59.50H517.64V65.46H505.98ZM523.02 59.50H529.00V65.46H523.02ZM540.06 59.50H546.04V65.46H540.06ZM551.42 59.50H557.40V65.46H551.42ZM562.78 59.50H568.76V65.46H562.78ZM574.14 59.50H585.80V65.46H574.14ZM471.90 65.16H477.88V71.12H471.90ZM483.26 65.16H489.24V71.12H483.26ZM511.66 65.16H517.64V71.12H511.66ZM540.06 65.16H546.04V71.12H540.06ZM557.10 65.16H563.08V71.12H557.10ZM443.50 70.82H455.16V76.78H443.50ZM471.90 70.82H477.88V76.78H471.90ZM488.94 70.82H500.60V76.78H488.94ZM505.98 70.82H511.96V76.78H505.98ZM551.42 70.82H557.40V76.78H551.42ZM574.14 70.82H580.12V76.78H574.14ZM454.86 76.48H460.84V82.44H454.86ZM466.22 76.48H477.88V82.44H466.22ZM517.34 76.48H523.32V82.44H517.34ZM545.74 76.48H563.08V82.44H545.74ZM574.14 76.48H580.12V82.44H574.14ZM477.58 82.14H483.56V88.10H477.58ZM488.94 82.14H500.60V88.10H488.94ZM517.34 82.14H523.32V88.10H517.34ZM545.74 82.14H551.72V88.10H545.74ZM443.50 87.80H449.48V93.76H443.50ZM466.22 87.80H483.56V93.76H466.22ZM511.66 87.80H517.64V93.76H511.66ZM540.06 87.80H546.04V93.76H540.06ZM551.42 87.80H557.40V93.76H551.42ZM579.82 87.80H585.80V93.76H579.82ZM460.54 93.46H466.52V99.42H460.54ZM488.94 93.46H494.92V99.42H488.94ZM500.30 93.46H506.28V99.42H500.30ZM551.42 93.46H557.40V99.42H551.42ZM579.82 93.46H585.80V99.42H579.82ZM449.18 99.12H466.52V105.08H449.18ZM471.90 99.12H477.88V105.08H471.90ZM494.62 99.12H506.28V105.08H494.62ZM534.38 99.12H546.04V105.08H534.38ZM551.42 99.12H574.44V105.08H551.42ZM579.82 99.12H585.80V105.08H579.82ZM454.86 104.78H460.84V110.74H454.86ZM471.90 104.78H477.88V110.74H471.90ZM494.62 104.78H500.60V110.74H494.62ZM505.98 104.78H511.96V110.74H505.98ZM523.02 104.78H546.04V110.74H523.02ZM574.14 104.78H580.12V110.74H574.14ZM443.50 110.44H449.48V116.40H443.50ZM471.90 110.44H477.88V116.40H471.90ZM500.30 110.44H506.28V116.40H500.30ZM528.70 110.44H534.68V116.40H528.70ZM557.10 110.44H568.76V116.40H557.10ZM449.18 116.10H455.16V122.06H449.18ZM488.94 116.10H500.60V122.06H488.94ZM540.06 116.10H546.04V122.06H540.06ZM568.46 116.10H580.12V122.06H568.46ZM460.54 121.76H472.20V127.72H460.54ZM477.58 121.76H483.56V127.72H477.58ZM488.94 121.76H500.60V127.72H488.94ZM505.98 121.76H511.96V127.72H505.98ZM557.10 121.76H563.08V127.72H557.10ZM454.86 127.42H460.84V133.38H454.86ZM466.22 127.42H477.88V133.38H466.22ZM488.94 127.42H494.92V133.38H488.94ZM511.66 127.42H517.64V133.38H511.66ZM528.70 127.42H557.40V133.38H528.70ZM574.14 127.42H580.12V133.38H574.14ZM449.18 133.08H455.16V139.04H449.18ZM460.54 133.08H472.20V139.04H460.54ZM477.58 133.08H483.56V139.04H477.58ZM488.94 133.08H500.60V139.04H488.94ZM505.98 133.08H534.68V139.04H505.98ZM545.74 133.08H557.40V139.04H545.74ZM568.46 133.08H574.44V139.04H568.46ZM443.50 138.74H449.48V144.70H443.50ZM528.70 138.74H534.68V144.70H528.70ZM545.74 138.74H551.72V144.70H545.74ZM562.78 138.74H568.76V144.70H562.78ZM449.18 144.40H455.16V150.36H449.18ZM466.22 144.40H472.20V150.36H466.22ZM477.58 144.40H506.28V150.36H477.58ZM528.70 144.40H546.04V150.36H528.70ZM557.10 144.40H563.08V150.36H557.10ZM568.46 144.40H574.44V150.36H568.46ZM579.82 144.40H585.80V150.36H579.82ZM443.50 150.06H449.48V156.02H443.50ZM471.90 150.06H477.88V156.02H471.90ZM505.98 150.06H511.96V156.02H505.98ZM557.10 150.06H574.44V156.02H557.10ZM579.82 150.06H585.80V156.02H579.82ZM471.90 155.72H489.24V161.68H471.90ZM505.98 155.72H511.96V161.68H505.98ZM540.06 155.72H546.04V161.68H540.06ZM551.42 155.72H557.40V161.68H551.42ZM568.46 155.72H574.44V161.68H568.46ZM579.82 155.72H585.80V161.68H579.82ZM449.18 161.38H466.52V167.34H449.18ZM500.30 161.38H506.28V167.34H500.30ZM517.34 161.38H523.32V167.34H517.34ZM534.38 161.38H540.36V167.34H534.38ZM579.82 161.38H585.80V167.34H579.82ZM443.50 167.04H455.16V173.00H443.50ZM488.94 167.04H500.60V173.00H488.94ZM517.34 167.04H529.00V173.00H517.34ZM545.74 167.04H551.72V173.00H545.74Z"/>
<path fill="#b0dd2f" d="M534.38 31.20H540.36V37.16H534.38ZM574.14 31.20H580.12V37.16H574.14ZM449.18 36.86H460.84V42.82H449.18ZM466.22 36.86H472.20V42.82H466.22ZM443.50 42.52H449.48V48.48H443.50ZM454.86 42.52H460.84V48.48H454.86ZM466.22 42.52H472.20V48.48H466.22ZM488.94 42.52H500.60V48.48H488.94ZM523.02 42.52H540.36V48.48H523.02ZM562.78 42.52H568.76V48.48H562.78ZM460.54 48.18H466.52V54.14H460.54ZM494.62 48.18H500.60V54.14H494.62ZM449.18 53.84H455.16V59.80H449.18ZM460.54 53.84H466.52V59.80H460.54ZM488.94 53.84H494.92V59.80H488.94ZM511.66 53.84H523.32V59.80H511.66ZM528.70 53.84H534.68V59.80H528.70ZM449.18 59.50H460.84V65.46H449.18ZM483.26 59.50H489.24V65.46H483.26ZM517.34 59.50H523.32V65.46H517.34ZM443.50 65.16H449.48V71.12H443.50ZM460.54 65.16H466.52V71.12H460.54ZM477.58 65.16H483.56V71.12H477.58ZM517.34 65.16H523.32V71.12H517.34ZM551.42 65.16H557.40V71.12H551.42ZM574.14 65.16H580.12V71.12H574.14ZM460.54 70.82H466.52V76.78H460.54ZM517.34 70.82H523.32V76.78H517.34ZM443.50 76.48H449.48V82.44H443.50ZM477.58 76.48H483.56V82.44H477.58ZM488.94 76.48H500.60V82.44H488.94ZM534.38 76.48H546.04V82.44H534.38ZM454.86 82.14H472.20V88.10H454.86ZM523.02 82.14H534.68V88.10H523.02ZM557.10 82.14H563.08V88.10H557.10ZM488.94 87.80H511.96V93.76H488.94ZM517.34 87.80H523.32V93.76H517.34ZM528.70 87.80H540.36V93.76H528.70ZM545.74 87.80H551.72V93.76H545.74ZM562.78 87.80H568.76V93.76H562.78ZM454.86 93.46H460.84V99.42H454.86ZM466.22 93.46H472.20V99.42H466.22ZM511.66 93.46H517.64V99.42H511.66ZM523.02 93.46H529.00V99.42H523.02ZM562.78 93.46H568.76V99.42H562.78ZM488.94 99.12H494.92V105.08H488.94ZM523.02 99.12H529.00V105.08H523.02ZM449.18 104.78H455.16V110.74H449.18ZM483.26 104.78H489.24V110.74H483.26ZM500.30 104.78H506.28V110.74H500.30ZM579.82 104.78H585.80V110.74H579.82ZM454.86 110.44H460.84V116.40H454.86ZM477.58 110.44H489.24V116.40H477.58ZM494.62 110.44H500.60V116.40H494.62ZM505.98 110.44H523.32V116.40H505.98ZM574.14 110.44H580.12V116.40H574.14ZM466.22 116.10H472.20V122.06H466.22ZM551.42 116.10H557.40V122.06H551.42ZM562.78 116.10H568.76V122.06H562.78ZM500.30 121.76H506.28V127.72H500.30ZM511.66 121.76H523.32V127.72H511.66ZM545.74 121.76H557.40V127.72H545.74ZM579.82 121.76H585.80V127.72H579.82ZM517.34 127.42H523.32V133.38H517.34ZM579.82 127.42H585.80V133.38H579.82ZM534.38 133.08H540.36V139.04H534.38ZM449.18 138.74H455.16V144.70H449.18ZM483.26 138.74H494.92V144.70H483.26ZM551.42 138.74H557.40V144.70H551.42ZM568.46 138.74H574.44V144.70H568.46ZM505.98 144.40H523.32V150.36H505.98ZM562.78 144.40H568.76V150.36H562.78ZM574.14 144.40H580.12V150.36H574.14ZM454.86 150.06H460.84V156.02H454.86ZM488.94 150.06H494.92V156.02H488.94ZM500.30 150.06H506.28V156.02H500.30ZM528.70 150.06H546.04V156.02H528.70ZM443.50 155.72H449.48V161.68H443.50ZM443.50 161.38H449.48V167.34H443.50ZM551.42 161.38H563.08V167.34H551.42ZM568.46 161.38H574.44V167.34H568.46ZM466.22 167.04H477.88V173.00H466.22ZM528.70 167.04H540.36V173.00H528.70ZM551.42 167.04H557.40V173.00H551.42Z"/>
<path fill="#efe51c" d="M488.94 31.20H500.60V37.16H488.94ZM551.42 31.20H557.40V37.16H551.42ZM562.78 31.20H568.76V37.16H562.78ZM494.62 36.86H500.60V42.82H494.62ZM443.50 48.18H449.48V54.14H443.50ZM540.06 48.18H546.04V54.14H540.06ZM483.26 53.84H489.24V59.80H483.26ZM500.30 59.50H506.28V65.46H500.30ZM545.74 59.50H551.72V65.46H545.74ZM449.18 65.16H455.16V71.12H449.18ZM534.38 70.82H551.72V76.78H534.38ZM523.02 76.48H534.68V82.44H523.02ZM534.38 82.14H540.36V88.10H534.38ZM454.86 87.80H460.84V93.76H454.86ZM557.10 87.80H563.08V93.76H557.10ZM505.98 93.46H511.96V99.42H505.98ZM517.34 93.46H523.32V99.42H517.34ZM505.98 99.12H517.64V105.08H505.98ZM443.50 104.78H449.48V110.74H443.50ZM511.66 104.78H517.64V110.74H511.66ZM557.10 104.78H563.08V110.74H557.10ZM540.06 110.44H546.04V116.40H540.06ZM454.86 116.10H460.84V122.06H454.86ZM517.34 116.10H523.32V122.06H517.34ZM443.50 127.42H449.48V133.38H443.50ZM568.46 127.42H574.44V133.38H568.46ZM443.50 133.08H449.48V139.04H443.50ZM477.58 138.74H483.56V144.70H477.58ZM517.34 138.74H523.32V144.70H517.34ZM551.42 144.40H557.40V150.36H551.42ZM477.58 150.06H483.56V156.02H477.58ZM545.74 150.06H551.72V156.02H545.74ZM500.30 155.72H506.28V161.68H500.30ZM562.78 155.72H568.76V161.68H562.78ZM488.94 161.38H494.92V167.34H488.94ZM454.86 167.04H460.84V173.00H454.86ZM574.14 167.04H580.12V173.00H574.14Z"/>
</g>
<path d="M446.50 173.50v-5.6M446.50 32.50v5.6M443.50 170.50h5.6M585.50 170.50h-5.6M474.50 173.50v-5.6M474.50 32.50v5.6M443.50 142.50h5.6M585.50 142.50h-5.6M503.50 173.50v-5.6M503.50 32.50v5.6M443.50 114.50h5.6M585.50 114.50h-5.6M531.50 173.50v-5.6M531.50 32.50v5.6M443.50 85.50h5.6M585.50 85.50h-5.6M559.50 173.50v-5.6M559.50 32.50v5.6M443.50 57.50h5.6M585.50 57.50h-5.6" stroke="#000" stroke-width="1" fill="none" shape-rendering="crispEdges"/>
<rect x="443.5" y="32.5" width="142.0" height="141.0" fill="none" stroke="#000" stroke-width="1.39"/>
<text x="446.20" y="192.90" font-size="17.00" text-anchor="middle" textLength="9.8" lengthAdjust="spacingAndGlyphs">0</text>
<text x="436.70" y="173.90" font-size="17.00" text-anchor="end" textLength="9.8" lengthAdjust="spacingAndGlyphs">0</text>
<text x="473.90" y="192.90" font-size="17.00" text-anchor="middle" textLength="9.8" lengthAdjust="spacingAndGlyphs">5</text>
<text x="436.70" y="145.90" font-size="17.00" text-anchor="end" textLength="9.8" lengthAdjust="spacingAndGlyphs">5</text>
<text x="503.30" y="192.90" font-size="17.00" text-anchor="middle" textLength="19.6" lengthAdjust="spacingAndGlyphs">10</text>
<text x="436.70" y="117.90" font-size="17.00" text-anchor="end" textLength="19.6" lengthAdjust="spacingAndGlyphs">10</text>
<text x="531.10" y="192.90" font-size="17.00" text-anchor="middle" textLength="19.6" lengthAdjust="spacingAndGlyphs">15</text>
<text x="436.70" y="88.90" font-size="17.00" text-anchor="end" textLength="19.6" lengthAdjust="spacingAndGlyphs">15</text>
<text x="558.80" y="192.90" font-size="17.00" text-anchor="middle" textLength="19.6" lengthAdjust="spacingAndGlyphs">20</text>
<text x="436.70" y="60.90" font-size="17.00" text-anchor="end" textLength="19.6" lengthAdjust="spacingAndGlyphs">20</text>
<text x="514.00" y="24.60" font-size="20.40" text-anchor="middle" textLength="60.5" lengthAdjust="spacingAndGlyphs">f814w</text>
<clipPath id="c84"><rect x="44.5" y="227.5" width="142.0" height="141.0"/></clipPath>
<g shape-rendering="crispEdges" clip-path="url(#c84)">
<path fill="#450457" d="M118.34 260.16H130.00V266.12H118.34ZM118.34 265.82H124.32V271.78H118.34ZM84.26 328.08H90.24V334.04H84.26ZM89.94 333.74H95.92V339.70H89.94ZM129.70 345.06H135.68V351.02H129.70ZM129.70 350.72H135.68V356.68H129.70ZM146.74 356.38H152.72V362.34H146.74Z"/>
<path fill="#482878" d="M84.26 243.18H90.24V249.14H84.26ZM67.22 328.08H73.20V334.04H67.22ZM89.94 328.08H95.92V334.04H89.94ZM95.62 333.74H101.60V339.70H95.62Z"/>
<path fill="#424086" d="M146.74 265.82H158.40V271.78H146.74ZM175.14 277.14H181.12V283.10H175.14ZM67.22 282.80H73.20V288.76H67.22ZM175.14 282.80H181.12V288.76H175.14ZM89.94 339.40H101.60V345.36H89.94ZM163.78 339.40H169.76V345.36H163.78ZM180.82 339.40H186.80V345.36H180.82ZM146.74 350.72H152.72V356.68H146.74ZM152.42 356.38H158.40V362.34H152.42ZM135.38 362.04H141.36V368.00H135.38Z"/>
<path fill="#365d8d" d="M72.90 226.20H78.88V232.16H72.90ZM61.54 237.52H67.52V243.48H61.54ZM78.58 237.52H90.24V243.48H78.58ZM180.82 254.50H186.80V260.46H180.82ZM112.66 260.16H118.64V266.12H112.66ZM152.42 271.48H158.40V277.44H152.42ZM158.10 277.14H164.08V283.10H158.10ZM146.74 282.80H152.72V288.76H146.74ZM146.74 288.46H152.72V294.42H146.74ZM146.74 294.12H152.72V300.08H146.74ZM163.78 299.78H169.76V305.74H163.78ZM141.06 305.44H147.04V311.40H141.06ZM141.06 311.10H147.04V317.06H141.06ZM67.22 322.42H73.20V328.38H67.22ZM78.58 322.42H84.56V328.38H78.58ZM84.26 333.74H90.24V339.70H84.26ZM106.98 339.40H112.96V345.36H106.98ZM95.62 345.06H101.60V351.02H95.62ZM124.02 345.06H130.00V351.02H124.02ZM67.22 362.04H73.20V368.00H67.22Z"/>
<path fill="#297a8e" d="M84.26 226.20H90.24V232.16H84.26ZM78.58 243.18H84.56V249.14H78.58ZM89.94 248.84H95.92V254.80H89.94ZM180.82 248.84H186.80V254.80H180.82ZM135.38 260.16H141.36V266.12H135.38ZM152.42 260.16H158.40V266.12H152.42ZM84.26 265.82H90.24V271.78H84.26ZM124.02 265.82H130.00V271.78H124.02ZM146.74 271.48H152.72V277.44H146.74ZM169.46 277.14H175.44V283.10H169.46ZM72.90 282.80H78.88V288.76H72.90ZM61.54 288.46H73.20V294.42H61.54ZM44.50 294.12H50.48V300.08H44.50ZM163.78 294.12H169.76V300.08H163.78ZM61.54 299.78H67.52V305.74H61.54ZM169.46 299.78H175.44V305.74H169.46ZM61.54 305.44H67.52V311.40H61.54ZM84.26 305.44H90.24V311.40H84.26ZM135.38 305.44H141.36V311.40H135.38ZM135.38 311.10H141.36V317.06H135.38ZM72.90 322.42H78.88V328.38H72.90ZM180.82 333.74H186.80V339.70H180.82ZM175.14 339.40H181.12V345.36H175.14ZM135.38 345.06H141.36V351.02H135.38ZM72.90 350.72H78.88V356.68H72.90ZM95.62 350.72H101.60V356.68H95.62ZM124.02 350.72H130.00V356.68H124.02ZM141.06 350.72H147.04V356.68H141.06ZM72.90 356.38H78.88V362.34H72.90ZM112.66 356.38H118.64V362.34H112.66ZM112.66 362.04H118.64V368.00H112.66ZM141.06 362.04H147.04V368.00H141.06Z"/>
<path fill="#1f958b" d="M67.22 226.20H73.20V232.16H67.22ZM89.94 226.20H95.92V232.16H89.94ZM141.06 231.86H147.04V237.82H141.06ZM67.22 237.52H78.88V243.48H67.22ZM89.94 237.52H95.92V243.48H89.94ZM129.70 237.52H141.36V243.48H129.70ZM89.94 243.18H95.92V249.14H89.94ZM124.02 248.84H130.00V254.80H124.02ZM146.74 248.84H158.40V254.80H146.74ZM89.94 254.50H95.92V260.46H89.94ZM118.34 254.50H124.32V260.46H118.34ZM141.06 260.16H147.04V266.12H141.06ZM180.82 260.16H186.80V266.12H180.82ZM78.58 265.82H84.56V271.78H78.58ZM175.14 265.82H181.12V271.78H175.14ZM118.34 271.48H130.00V277.44H118.34ZM158.10 271.48H164.08V277.44H158.10ZM175.14 271.48H181.12V277.44H175.14ZM67.22 277.14H78.88V283.10H67.22ZM146.74 277.14H152.72V283.10H146.74ZM169.46 282.80H175.44V288.76H169.46ZM180.82 282.80H186.80V288.76H180.82ZM55.86 288.46H61.84V294.42H55.86ZM141.06 288.46H147.04V294.42H141.06ZM169.46 288.46H181.12V294.42H169.46ZM61.54 294.12H67.52V300.08H61.54ZM169.46 294.12H181.12V300.08H169.46ZM44.50 299.78H50.48V305.74H44.50ZM84.26 299.78H90.24V305.74H84.26ZM175.14 299.78H181.12V305.74H175.14ZM67.22 305.44H73.20V311.40H67.22ZM135.38 316.76H147.04V322.72H135.38ZM50.18 322.42H56.16V328.38H50.18ZM84.26 322.42H90.24V328.38H84.26ZM124.02 322.42H130.00V328.38H124.02ZM50.18 328.08H61.84V334.04H50.18ZM78.58 328.08H84.56V334.04H78.58ZM50.18 333.74H56.16V339.70H50.18ZM67.22 333.74H73.20V339.70H67.22ZM106.98 333.74H112.96V339.70H106.98ZM50.18 339.40H56.16V345.36H50.18ZM101.30 339.40H107.28V345.36H101.30ZM129.70 339.40H135.68V345.36H129.70ZM89.94 345.06H95.92V351.02H89.94ZM101.30 345.06H107.28V351.02H101.30ZM78.58 350.72H84.56V356.68H78.58ZM152.42 350.72H158.40V356.68H152.42ZM44.50 356.38H50.48V362.34H44.50ZM67.22 356.38H73.20V362.34H67.22ZM129.70 356.38H147.04V362.34H129.70ZM84.26 362.04H90.24V368.00H84.26ZM106.98 362.04H112.96V368.00H106.98Z"/>
<path fill="#25ac82" d="M78.58 226.20H84.56V232.16H78.58ZM180.82 226.20H186.80V232.16H180.82ZM61.54 231.86H95.92V237.82H61.54ZM180.82 231.86H186.80V237.82H180.82ZM44.50 237.52H50.48V243.48H44.50ZM101.30 237.52H107.28V243.48H101.30ZM112.66 237.52H118.64V243.48H112.66ZM124.02 237.52H130.00V243.48H124.02ZM141.06 237.52H152.72V243.48H141.06ZM50.18 243.18H56.16V249.14H50.18ZM67.22 243.18H78.88V249.14H67.22ZM106.98 243.18H118.64V249.14H106.98ZM129.70 243.18H135.68V249.14H129.70ZM141.06 243.18H169.76V249.14H141.06ZM84.26 248.84H90.24V254.80H84.26ZM129.70 248.84H135.68V254.80H129.70ZM50.18 254.50H61.84V260.46H50.18ZM72.90 254.50H78.88V260.46H72.90ZM112.66 254.50H118.64V260.46H112.66ZM124.02 254.50H135.68V260.46H124.02ZM152.42 254.50H158.40V260.46H152.42ZM175.14 254.50H181.12V260.46H175.14ZM61.54 260.16H73.20V266.12H61.54ZM146.74 260.16H152.72V266.12H146.74ZM158.10 260.16H164.08V266.12H158.10ZM175.14 260.16H181.12V266.12H175.14ZM67.22 265.82H78.88V271.78H67.22ZM89.94 265.82H95.92V271.78H89.94ZM112.66 265.82H118.64V271.78H112.66ZM135.38 265.82H147.04V271.78H135.38ZM158.10 265.82H164.08V271.78H158.10ZM44.50 271.48H50.48V277.44H44.50ZM67.22 271.48H78.88V277.44H67.22ZM89.94 271.48H95.92V277.44H89.94ZM129.70 271.48H135.68V277.44H129.70ZM180.82 271.48H186.80V277.44H180.82ZM118.34 277.14H130.00V283.10H118.34ZM152.42 277.14H158.40V283.10H152.42ZM163.78 277.14H169.76V283.10H163.78ZM180.82 277.14H186.80V283.10H180.82ZM61.54 282.80H67.52V288.76H61.54ZM152.42 282.80H158.40V288.76H152.42ZM163.78 282.80H169.76V288.76H163.78ZM44.50 288.46H50.48V294.42H44.50ZM72.90 288.46H78.88V294.42H72.90ZM89.94 288.46H95.92V294.42H89.94ZM163.78 288.46H169.76V294.42H163.78ZM180.82 288.46H186.80V294.42H180.82ZM141.06 294.12H147.04V300.08H141.06ZM180.82 294.12H186.80V300.08H180.82ZM146.74 299.78H152.72V305.74H146.74ZM44.50 305.44H56.16V311.40H44.50ZM89.94 305.44H95.92V311.40H89.94ZM146.74 305.44H152.72V311.40H146.74ZM169.46 305.44H181.12V311.40H169.46ZM44.50 311.10H50.48V317.06H44.50ZM84.26 311.10H95.92V317.06H84.26ZM175.14 311.10H181.12V317.06H175.14ZM78.58 316.76H90.24V322.72H78.58ZM101.30 316.76H112.96V322.72H101.30ZM180.82 316.76H186.80V322.72H180.82ZM44.50 322.42H50.48V328.38H44.50ZM55.86 322.42H61.84V328.38H55.86ZM129.70 322.42H141.36V328.38H129.70ZM146.74 322.42H152.72V328.38H146.74ZM61.54 328.08H67.52V334.04H61.54ZM72.90 328.08H78.88V334.04H72.90ZM95.62 328.08H101.60V334.04H95.62ZM124.02 328.08H141.36V334.04H124.02ZM44.50 333.74H50.48V339.70H44.50ZM72.90 333.74H84.56V339.70H72.90ZM101.30 333.74H107.28V339.70H101.30ZM112.66 333.74H118.64V339.70H112.66ZM158.10 333.74H169.76V339.70H158.10ZM55.86 339.40H78.88V345.36H55.86ZM112.66 339.40H118.64V345.36H112.66ZM124.02 339.40H130.00V345.36H124.02ZM135.38 339.40H141.36V345.36H135.38ZM169.46 339.40H175.44V345.36H169.46ZM44.50 345.06H56.16V351.02H44.50ZM61.54 345.06H67.52V351.02H61.54ZM141.06 345.06H147.04V351.02H141.06ZM180.82 345.06H186.80V351.02H180.82ZM118.34 350.72H124.32V356.68H118.34ZM135.38 350.72H141.36V356.68H135.38ZM50.18 356.38H67.52V362.34H50.18ZM124.02 356.38H130.00V362.34H124.02ZM158.10 356.38H164.08V362.34H158.10ZM61.54 362.04H67.52V368.00H61.54ZM72.90 362.04H84.56V368.00H72.90ZM129.70 362.04H135.68V368.00H129.70ZM152.42 362.04H158.40V368.00H152.42Z"/>
<path fill="#44bf70" d="M101.30 226.20H107.28V232.16H101.30ZM95.62 231.86H107.28V237.82H95.62ZM135.38 231.86H141.36V237.82H135.38ZM118.34 237.52H124.32V243.48H118.34ZM180.82 237.52H186.80V243.48H180.82ZM135.38 243.18H141.36V249.14H135.38ZM180.82 243.18H186.80V249.14H180.82ZM50.18 248.84H61.84V254.80H50.18ZM72.90 248.84H84.56V254.80H72.90ZM158.10 248.84H164.08V254.80H158.10ZM169.46 248.84H181.12V254.80H169.46ZM61.54 254.50H73.20V260.46H61.54ZM84.26 254.50H90.24V260.46H84.26ZM135.38 254.50H141.36V260.46H135.38ZM158.10 254.50H164.08V260.46H158.10ZM169.46 254.50H175.44V260.46H169.46ZM44.50 260.16H50.48V266.12H44.50ZM72.90 260.16H78.88V266.12H72.90ZM84.26 260.16H90.24V266.12H84.26ZM129.70 260.16H135.68V266.12H129.70ZM169.46 260.16H175.44V266.12H169.46ZM44.50 265.82H50.48V271.78H44.50ZM180.82 265.82H186.80V271.78H180.82ZM84.26 271.48H90.24V277.44H84.26ZM95.62 271.48H101.60V277.44H95.62ZM112.66 271.48H118.64V277.44H112.66ZM169.46 271.48H175.44V277.44H169.46ZM44.50 277.14H50.48V283.10H44.50ZM55.86 277.14H61.84V283.10H55.86ZM129.70 277.14H135.68V283.10H129.70ZM78.58 282.80H84.56V288.76H78.58ZM89.94 282.80H95.92V288.76H89.94ZM141.06 282.80H147.04V288.76H141.06ZM158.10 282.80H164.08V288.76H158.10ZM50.18 288.46H56.16V294.42H50.18ZM55.86 294.12H61.84V300.08H55.86ZM67.22 294.12H73.20V300.08H67.22ZM84.26 294.12H95.92V300.08H84.26ZM78.58 299.78H84.56V305.74H78.58ZM89.94 299.78H95.92V305.74H89.94ZM129.70 299.78H135.68V305.74H129.70ZM141.06 299.78H147.04V305.74H141.06ZM55.86 305.44H61.84V311.40H55.86ZM124.02 305.44H135.68V311.40H124.02ZM152.42 305.44H158.40V311.40H152.42ZM180.82 305.44H186.80V311.40H180.82ZM50.18 311.10H67.52V317.06H50.18ZM146.74 311.10H158.40V317.06H146.74ZM180.82 311.10H186.80V317.06H180.82ZM44.50 316.76H50.48V322.72H44.50ZM67.22 316.76H73.20V322.72H67.22ZM146.74 316.76H158.40V322.72H146.74ZM163.78 316.76H169.76V322.72H163.78ZM106.98 328.08H112.96V334.04H106.98ZM141.06 328.08H147.04V334.04H141.06ZM55.86 333.74H67.52V339.70H55.86ZM152.42 333.74H158.40V339.70H152.42ZM44.50 339.40H50.48V345.36H44.50ZM84.26 339.40H90.24V345.36H84.26ZM158.10 339.40H164.08V345.36H158.10ZM72.90 345.06H78.88V351.02H72.90ZM112.66 345.06H124.32V351.02H112.66ZM146.74 345.06H152.72V351.02H146.74ZM163.78 345.06H181.12V351.02H163.78ZM44.50 350.72H56.16V356.68H44.50ZM67.22 350.72H73.20V356.68H67.22ZM101.30 350.72H107.28V356.68H101.30ZM78.58 356.38H84.56V362.34H78.58ZM106.98 356.38H112.96V362.34H106.98ZM44.50 362.04H56.16V368.00H44.50ZM158.10 362.04H164.08V368.00H158.10Z"/>
<path fill="#67cc5c" d="M61.54 226.20H67.52V232.16H61.54ZM95.62 226.20H101.60V232.16H95.62ZM106.98 226.20H118.64V232.16H106.98ZM135.38 226.20H152.72V232.16H135.38ZM163.78 226.20H181.12V232.16H163.78ZM44.50 231.86H50.48V237.82H44.50ZM124.02 231.86H130.00V237.82H124.02ZM146.74 231.86H152.72V237.82H146.74ZM175.14 231.86H181.12V237.82H175.14ZM55.86 237.52H61.84V243.48H55.86ZM106.98 237.52H112.96V243.48H106.98ZM152.42 237.52H164.08V243.48H152.42ZM175.14 237.52H181.12V243.48H175.14ZM55.86 243.18H67.52V249.14H55.86ZM101.30 243.18H107.28V249.14H101.30ZM118.34 243.18H130.00V249.14H118.34ZM169.46 243.18H181.12V249.14H169.46ZM44.50 248.84H50.48V254.80H44.50ZM67.22 248.84H73.20V254.80H67.22ZM95.62 248.84H124.32V254.80H95.62ZM135.38 248.84H147.04V254.80H135.38ZM163.78 248.84H169.76V254.80H163.78ZM44.50 254.50H50.48V260.46H44.50ZM78.58 254.50H84.56V260.46H78.58ZM146.74 254.50H152.72V260.46H146.74ZM50.18 260.16H61.84V266.12H50.18ZM78.58 260.16H84.56V266.12H78.58ZM89.94 260.16H112.96V266.12H89.94ZM50.18 265.82H56.16V271.78H50.18ZM95.62 265.82H112.96V271.78H95.62ZM129.70 265.82H135.68V271.78H129.70ZM169.46 265.82H175.44V271.78H169.46ZM50.18 271.48H61.84V277.44H50.18ZM101.30 271.48H112.96V277.44H101.30ZM135.38 271.48H147.04V277.44H135.38ZM163.78 271.48H169.76V277.44H163.78ZM50.18 277.14H56.16V283.10H50.18ZM61.54 277.14H67.52V283.10H61.54ZM78.58 277.14H107.28V283.10H78.58ZM135.38 277.14H141.36V283.10H135.38ZM44.50 282.80H50.48V288.76H44.50ZM55.86 282.80H61.84V288.76H55.86ZM84.26 282.80H90.24V288.76H84.26ZM95.62 282.80H101.60V288.76H95.62ZM135.38 282.80H141.36V288.76H135.38ZM84.26 288.46H90.24V294.42H84.26ZM95.62 288.46H101.60V294.42H95.62ZM135.38 288.46H141.36V294.42H135.38ZM152.42 288.46H158.40V294.42H152.42ZM50.18 294.12H56.16V300.08H50.18ZM72.90 294.12H84.56V300.08H72.90ZM135.38 294.12H141.36V300.08H135.38ZM152.42 294.12H158.40V300.08H152.42ZM50.18 299.78H61.84V305.74H50.18ZM67.22 299.78H78.88V305.74H67.22ZM95.62 299.78H101.60V305.74H95.62ZM124.02 299.78H130.00V305.74H124.02ZM135.38 299.78H141.36V305.74H135.38ZM152.42 299.78H164.08V305.74H152.42ZM180.82 299.78H186.80V305.74H180.82ZM78.58 305.44H84.56V311.40H78.58ZM158.10 305.44H169.76V311.40H158.10ZM67.22 311.10H73.20V317.06H67.22ZM106.98 311.10H118.64V317.06H106.98ZM158.10 311.10H175.44V317.06H158.10ZM50.18 316.76H67.52V322.72H50.18ZM72.90 316.76H78.88V322.72H72.90ZM89.94 316.76H95.92V322.72H89.94ZM112.66 316.76H135.68V322.72H112.66ZM158.10 316.76H164.08V322.72H158.10ZM169.46 316.76H181.12V322.72H169.46ZM61.54 322.42H67.52V328.38H61.54ZM89.94 322.42H107.28V328.38H89.94ZM118.34 322.42H124.32V328.38H118.34ZM141.06 322.42H147.04V328.38H141.06ZM152.42 322.42H158.40V328.38H152.42ZM180.82 322.42H186.80V328.38H180.82ZM101.30 328.08H107.28V334.04H101.30ZM112.66 328.08H118.64V334.04H112.66ZM146.74 328.08H169.76V334.04H146.74ZM180.82 328.08H186.80V334.04H180.82ZM118.34 333.74H152.72V339.70H118.34ZM169.46 333.74H181.12V339.70H169.46ZM78.58 339.40H84.56V345.36H78.58ZM118.34 339.40H124.32V345.36H118.34ZM141.06 339.40H158.40V345.36H141.06ZM55.86 345.06H61.84V351.02H55.86ZM67.22 345.06H73.20V351.02H67.22ZM78.58 345.06H90.24V351.02H78.58ZM106.98 345.06H112.96V351.02H106.98ZM158.10 345.06H164.08V351.02H158.10ZM55.86 350.72H67.52V356.68H55.86ZM89.94 350.72H95.92V356.68H89.94ZM106.98 350.72H118.64V356.68H106.98ZM158.10 350.72H175.44V356.68H158.10ZM84.26 356.38H107.28V362.34H84.26ZM118.34 356.38H124.32V362.34H118.34ZM163.78 356.38H181.12V362.34H163.78ZM55.86 362.04H61.84V368.00H55.86ZM89.94 362.04H95.92V368.00H89.94ZM118.34 362.04H130.00V368.00H118.34ZM146.74 362.04H152.72V368.00H146.74ZM163.78 362.04H186.80V368.00H163.78Z"/>
<path fill="#a8db34" d="M44.50 226.20H50.48V232.16H44.50ZM55.86 226.20H61.84V232.16H55.86ZM118.34 226.20H135.68V232.16H118.34ZM158.10 226.20H164.08V232.16H158.10ZM106.98 231.86H124.32V237.82H106.98ZM129.70 231.86H135.68V237.82H129.70ZM152.42 231.86H175.44V237.82H152.42ZM50.18 237.52H56.16V243.48H50.18ZM95.62 237.52H101.60V243.48H95.62ZM163.78 237.52H175.44V243.48H163.78ZM44.50 243.18H50.48V249.14H44.50ZM95.62 243.18H101.60V249.14H95.62ZM61.54 248.84H67.52V254.80H61.54ZM95.62 254.50H112.96V260.46H95.62ZM141.06 254.50H147.04V260.46H141.06ZM163.78 254.50H169.76V260.46H163.78ZM163.78 260.16H169.76V266.12H163.78ZM55.86 265.82H67.52V271.78H55.86ZM163.78 265.82H169.76V271.78H163.78ZM61.54 271.48H67.52V277.44H61.54ZM78.58 271.48H84.56V277.44H78.58ZM106.98 277.14H118.64V283.10H106.98ZM141.06 277.14H147.04V283.10H141.06ZM50.18 282.80H56.16V288.76H50.18ZM101.30 282.80H124.32V288.76H101.30ZM129.70 282.80H135.68V288.76H129.70ZM78.58 288.46H84.56V294.42H78.58ZM101.30 288.46H112.96V294.42H101.30ZM158.10 288.46H164.08V294.42H158.10ZM95.62 294.12H101.60V300.08H95.62ZM129.70 294.12H135.68V300.08H129.70ZM158.10 294.12H164.08V300.08H158.10ZM72.90 305.44H78.88V311.40H72.90ZM95.62 305.44H101.60V311.40H95.62ZM118.34 305.44H124.32V311.40H118.34ZM72.90 311.10H84.56V317.06H72.90ZM95.62 311.10H107.28V317.06H95.62ZM118.34 311.10H135.68V317.06H118.34ZM95.62 316.76H101.60V322.72H95.62ZM106.98 322.42H118.64V328.38H106.98ZM158.10 322.42H181.12V328.38H158.10ZM44.50 328.08H50.48V334.04H44.50ZM118.34 328.08H124.32V334.04H118.34ZM169.46 328.08H181.12V334.04H169.46ZM152.42 345.06H158.40V351.02H152.42ZM84.26 350.72H90.24V356.68H84.26ZM175.14 350.72H181.12V356.68H175.14ZM101.30 362.04H107.28V368.00H101.30Z"/>
<path fill="#f6e620" d="M50.18 226.20H56.16V232.16H50.18ZM152.42 226.20H158.40V232.16H152.42ZM50.18 231.86H61.84V237.82H50.18ZM124.02 282.80H130.00V288.76H124.02ZM112.66 288.46H135.68V294.42H112.66ZM101.30 294.12H130.00V300.08H101.30ZM101.30 299.78H124.32V305.74H101.30ZM101.30 305.44H118.64V311.40H101.30ZM180.82 350.72H186.80V356.68H180.82ZM180.82 356.38H186.80V362.34H180.82ZM95.62 362.04H101.60V368.00H95.62Z"/>
</g>
<path d="M47.50 368.50v-5.6M47.50 227.50v5.6M44.50 365.50h5.6M186.50 365.50h-5.6M75.50 368.50v-5.6M75.50 227.50v5.6M44.50 337.50h5.6M186.50 337.50h-5.6M104.50 368.50v-5.6M104.50 227.50v5.6M44.50 309.50h5.6M186.50 309.50h-5.6M132.50 368.50v-5.6M132.50 227.50v5.6M44.50 280.50h5.6M186.50 280.50h-5.6M160.50 368.50v-5.6M160.50 227.50v5.6M44.50 252.50h5.6M186.50 252.50h-5.6" stroke="#000" stroke-width="1" fill="none" shape-rendering="crispEdges"/>
<rect x="44.5" y="227.5" width="142.0" height="141.0" fill="none" stroke="#000" stroke-width="1.39"/>
<text x="47.20" y="387.90" font-size="17.00" text-anchor="middle" textLength="9.8" lengthAdjust="spacingAndGlyphs">0</text>
<text x="37.70" y="368.90" font-size="17.00" text-anchor="end" textLength="9.8" lengthAdjust="spacingAndGlyphs">0</text>
<text x="74.90" y="387.90" font-size="17.00" text-anchor="middle" textLength="9.8" lengthAdjust="spacingAndGlyphs">5</text>
<text x="37.70" y="340.90" font-size="17.00" text-anchor="end" textLength="9.8" lengthAdjust="spacingAndGlyphs">5</text>
<text x="104.30" y="387.90" font-size="17.00" text-anchor="middle" textLength="19.6" lengthAdjust="spacingAndGlyphs">10</text>
<text x="37.70" y="312.90" font-size="17.00" text-anchor="end" textLength="19.6" lengthAdjust="spacingAndGlyphs">10</text>
<text x="132.10" y="387.90" font-size="17.00" text-anchor="middle" textLength="19.6" lengthAdjust="spacingAndGlyphs">15</text>
<text x="37.70" y="283.90" font-size="17.00" text-anchor="end" textLength="19.6" lengthAdjust="spacingAndGlyphs">15</text>
<text x="159.80" y="387.90" font-size="17.00" text-anchor="middle" textLength="19.6" lengthAdjust="spacingAndGlyphs">20</text>
<text x="37.70" y="255.90" font-size="17.00" text-anchor="end" textLength="19.6" lengthAdjust="spacingAndGlyphs">20</text>
<text x="115.00" y="219.60" font-size="20.40" text-anchor="middle" textLength="60.5" lengthAdjust="spacingAndGlyphs">f105w</text>
<clipPath id="c111"><rect x="244.5" y="227.5" width="142.0" height="141.0"/></clipPath>
<g shape-rendering="crispEdges" clip-path="url(#c111)">
<path fill="#450457" d="M255.86 243.18H261.84V249.14H255.86ZM244.50 248.84H250.48V254.80H244.50ZM301.30 254.50H307.28V260.46H301.30ZM267.22 333.74H273.20V339.70H267.22ZM341.06 345.06H352.72V351.02H341.06ZM341.06 350.72H352.72V356.68H341.06Z"/>
<path fill="#482878" d="M375.14 248.84H386.80V254.80H375.14ZM375.14 350.72H381.12V356.68H375.14ZM375.14 356.38H381.12V362.34H375.14Z"/>
<path fill="#424086" d="M363.78 248.84H369.76V254.80H363.78ZM295.62 254.50H301.60V260.46H295.62ZM306.98 254.50H312.96V260.46H306.98ZM318.34 277.14H324.32V283.10H318.34ZM375.14 282.80H386.80V288.76H375.14ZM380.82 288.46H386.80V294.42H380.82ZM267.22 299.78H273.20V305.74H267.22ZM261.54 328.08H273.20V334.04H261.54ZM284.26 328.08H290.24V334.04H284.26ZM244.50 333.74H250.48V339.70H244.50ZM261.54 333.74H267.52V339.70H261.54ZM318.34 350.72H324.32V356.68H318.34Z"/>
<path fill="#365d8d" d="M267.22 231.86H273.20V237.82H267.22ZM255.86 237.52H261.84V243.48H255.86ZM278.58 237.52H284.56V243.48H278.58ZM301.30 248.84H307.28V254.80H301.30ZM324.02 248.84H330.00V254.80H324.02ZM289.94 254.50H295.92V260.46H289.94ZM324.02 254.50H330.00V260.46H324.02ZM312.66 277.14H318.64V283.10H312.66ZM301.30 294.12H307.28V300.08H301.30ZM352.42 294.12H358.40V300.08H352.42ZM284.26 305.44H295.92V311.40H284.26ZM341.06 311.10H347.04V317.06H341.06ZM272.90 333.74H278.88V339.70H272.90ZM380.82 339.40H386.80V345.36H380.82ZM312.66 345.06H324.32V351.02H312.66ZM380.82 350.72H386.80V356.68H380.82Z"/>
<path fill="#297a8e" d="M272.90 231.86H278.88V237.82H272.90ZM295.62 248.84H301.60V254.80H295.62ZM312.66 248.84H318.64V254.80H312.66ZM312.66 254.50H318.64V260.46H312.66ZM363.78 254.50H369.76V260.46H363.78ZM295.62 260.16H307.28V266.12H295.62ZM363.78 277.14H375.44V283.10H363.78ZM363.78 282.80H375.44V288.76H363.78ZM375.14 288.46H381.12V294.42H375.14ZM295.62 294.12H301.60V300.08H295.62ZM261.54 299.78H267.52V305.74H261.54ZM278.58 299.78H284.56V305.74H278.58ZM329.70 299.78H335.68V305.74H329.70ZM267.22 305.44H273.20V311.40H267.22ZM278.58 305.44H284.56V311.40H278.58ZM335.38 305.44H341.36V311.40H335.38ZM369.46 305.44H375.44V311.40H369.46ZM261.54 311.10H267.52V317.06H261.54ZM346.74 311.10H352.72V317.06H346.74ZM369.46 311.10H375.44V317.06H369.46ZM244.50 328.08H250.48V334.04H244.50ZM324.02 333.74H330.00V339.70H324.02ZM261.54 339.40H267.52V345.36H261.54ZM324.02 339.40H330.00V345.36H324.02ZM261.54 345.06H267.52V351.02H261.54ZM324.02 350.72H330.00V356.68H324.02ZM352.42 350.72H358.40V356.68H352.42ZM318.34 356.38H324.32V362.34H318.34ZM369.46 356.38H375.44V362.34H369.46ZM380.82 356.38H386.80V362.34H380.82ZM363.78 362.04H375.44V368.00H363.78Z"/>
<path fill="#1f958b" d="M261.54 226.20H273.20V232.16H261.54ZM341.06 226.20H347.04V232.16H341.06ZM261.54 231.86H267.52V237.82H261.54ZM261.54 243.18H267.52V249.14H261.54ZM250.18 248.84H256.16V254.80H250.18ZM306.98 248.84H312.96V254.80H306.98ZM267.22 254.50H273.20V260.46H267.22ZM380.82 254.50H386.80V260.46H380.82ZM267.22 260.16H278.88V266.12H267.22ZM346.74 265.82H352.72V271.78H346.74ZM335.38 271.48H341.36V277.44H335.38ZM244.50 277.14H250.48V283.10H244.50ZM272.90 277.14H278.88V283.10H272.90ZM261.54 282.80H267.52V288.76H261.54ZM358.10 282.80H364.08V288.76H358.10ZM341.06 288.46H347.04V294.42H341.06ZM363.78 288.46H369.76V294.42H363.78ZM272.90 294.12H278.88V300.08H272.90ZM329.70 294.12H335.68V300.08H329.70ZM346.74 294.12H352.72V300.08H346.74ZM272.90 299.78H278.88V305.74H272.90ZM284.26 299.78H295.92V305.74H284.26ZM255.86 305.44H267.52V311.40H255.86ZM244.50 311.10H250.48V317.06H244.50ZM375.14 311.10H381.12V317.06H375.14ZM318.34 316.76H324.32V322.72H318.34ZM352.42 316.76H364.08V322.72H352.42ZM261.54 322.42H273.20V328.38H261.54ZM318.34 322.42H324.32V328.38H318.34ZM341.06 322.42H347.04V328.38H341.06ZM278.58 328.08H284.56V334.04H278.58ZM250.18 333.74H256.16V339.70H250.18ZM278.58 333.74H284.56V339.70H278.58ZM278.58 339.40H284.56V345.36H278.58ZM312.66 339.40H318.64V345.36H312.66ZM278.58 345.06H284.56V351.02H278.58ZM380.82 345.06H386.80V351.02H380.82ZM284.26 350.72H290.24V356.68H284.26ZM324.02 356.38H330.00V362.34H324.02ZM267.22 362.04H273.20V368.00H267.22ZM295.62 362.04H307.28V368.00H295.62ZM341.06 362.04H347.04V368.00H341.06Z"/>
<path fill="#25ac82" d="M244.50 226.20H250.48V232.16H244.50ZM272.90 226.20H278.88V232.16H272.90ZM289.94 226.20H301.60V232.16H289.94ZM346.74 226.20H352.72V232.16H346.74ZM369.46 226.20H375.44V232.16H369.46ZM380.82 226.20H386.80V232.16H380.82ZM250.18 231.86H261.84V237.82H250.18ZM289.94 231.86H301.60V237.82H289.94ZM318.34 231.86H324.32V237.82H318.34ZM335.38 231.86H341.36V237.82H335.38ZM346.74 231.86H352.72V237.82H346.74ZM369.46 231.86H386.80V237.82H369.46ZM250.18 237.52H256.16V243.48H250.18ZM261.54 237.52H267.52V243.48H261.54ZM272.90 237.52H278.88V243.48H272.90ZM284.26 237.52H290.24V243.48H284.26ZM335.38 237.52H341.36V243.48H335.38ZM301.30 243.18H307.28V249.14H301.30ZM375.14 243.18H386.80V249.14H375.14ZM255.86 248.84H267.52V254.80H255.86ZM318.34 248.84H324.32V254.80H318.34ZM329.70 248.84H335.68V254.80H329.70ZM358.10 248.84H364.08V254.80H358.10ZM244.50 254.50H250.48V260.46H244.50ZM261.54 254.50H267.52V260.46H261.54ZM272.90 254.50H278.88V260.46H272.90ZM318.34 254.50H324.32V260.46H318.34ZM358.10 254.50H364.08V260.46H358.10ZM375.14 254.50H381.12V260.46H375.14ZM261.54 260.16H267.52V266.12H261.54ZM278.58 260.16H284.56V266.12H278.58ZM306.98 260.16H318.64V266.12H306.98ZM295.62 265.82H307.28V271.78H295.62ZM341.06 265.82H347.04V271.78H341.06ZM352.42 265.82H358.40V271.78H352.42ZM375.14 265.82H381.12V271.78H375.14ZM244.50 271.48H250.48V277.44H244.50ZM272.90 271.48H278.88V277.44H272.90ZM301.30 271.48H307.28V277.44H301.30ZM318.34 271.48H324.32V277.44H318.34ZM341.06 271.48H358.40V277.44H341.06ZM363.78 271.48H386.80V277.44H363.78ZM255.86 277.14H267.52V283.10H255.86ZM306.98 277.14H312.96V283.10H306.98ZM335.38 277.14H341.36V283.10H335.38ZM358.10 277.14H364.08V283.10H358.10ZM244.50 282.80H250.48V288.76H244.50ZM255.86 282.80H261.84V288.76H255.86ZM267.22 282.80H273.20V288.76H267.22ZM267.22 288.46H273.20V294.42H267.22ZM346.74 288.46H352.72V294.42H346.74ZM358.10 288.46H364.08V294.42H358.10ZM244.50 294.12H250.48V300.08H244.50ZM267.22 294.12H273.20V300.08H267.22ZM335.38 294.12H341.36V300.08H335.38ZM358.10 294.12H364.08V300.08H358.10ZM244.50 299.78H250.48V305.74H244.50ZM255.86 299.78H261.84V305.74H255.86ZM295.62 299.78H301.60V305.74H295.62ZM324.02 299.78H330.00V305.74H324.02ZM335.38 299.78H341.36V305.74H335.38ZM352.42 299.78H358.40V305.74H352.42ZM244.50 305.44H250.48V311.40H244.50ZM272.90 305.44H278.88V311.40H272.90ZM295.62 305.44H301.60V311.40H295.62ZM329.70 305.44H335.68V311.40H329.70ZM341.06 305.44H352.72V311.40H341.06ZM363.78 305.44H369.76V311.40H363.78ZM375.14 305.44H381.12V311.40H375.14ZM267.22 311.10H273.20V317.06H267.22ZM289.94 311.10H301.60V317.06H289.94ZM329.70 311.10H341.36V317.06H329.70ZM363.78 311.10H369.76V317.06H363.78ZM244.50 316.76H250.48V322.72H244.50ZM261.54 316.76H273.20V322.72H261.54ZM312.66 316.76H318.64V322.72H312.66ZM341.06 316.76H352.72V322.72H341.06ZM244.50 322.42H250.48V328.38H244.50ZM255.86 322.42H261.84V328.38H255.86ZM278.58 322.42H290.24V328.38H278.58ZM335.38 322.42H341.36V328.38H335.38ZM358.10 322.42H369.76V328.38H358.10ZM272.90 328.08H278.88V334.04H272.90ZM289.94 328.08H301.60V334.04H289.94ZM346.74 328.08H352.72V334.04H346.74ZM369.46 328.08H375.44V334.04H369.46ZM255.86 333.74H261.84V339.70H255.86ZM329.70 333.74H335.68V339.70H329.70ZM346.74 333.74H375.44V339.70H346.74ZM244.50 339.40H250.48V345.36H244.50ZM255.86 339.40H261.84V345.36H255.86ZM267.22 339.40H278.88V345.36H267.22ZM318.34 339.40H324.32V345.36H318.34ZM329.70 339.40H335.68V345.36H329.70ZM358.10 339.40H381.12V345.36H358.10ZM284.26 345.06H290.24V351.02H284.26ZM306.98 345.06H312.96V351.02H306.98ZM335.38 345.06H341.36V351.02H335.38ZM358.10 345.06H364.08V351.02H358.10ZM375.14 345.06H381.12V351.02H375.14ZM244.50 350.72H250.48V356.68H244.50ZM278.58 350.72H284.56V356.68H278.58ZM306.98 350.72H318.64V356.68H306.98ZM244.50 356.38H256.16V362.34H244.50ZM267.22 356.38H273.20V362.34H267.22ZM295.62 356.38H318.64V362.34H295.62ZM341.06 356.38H347.04V362.34H341.06ZM363.78 356.38H369.76V362.34H363.78ZM261.54 362.04H267.52V368.00H261.54ZM272.90 362.04H278.88V368.00H272.90ZM306.98 362.04H318.64V368.00H306.98ZM358.10 362.04H364.08V368.00H358.10ZM375.14 362.04H386.80V368.00H375.14Z"/>
<path fill="#44bf70" d="M363.78 226.20H369.76V232.16H363.78ZM278.58 231.86H284.56V237.82H278.58ZM324.02 231.86H330.00V237.82H324.02ZM341.06 231.86H347.04V237.82H341.06ZM267.22 237.52H273.20V243.48H267.22ZM289.94 237.52H295.92V243.48H289.94ZM380.82 237.52H386.80V243.48H380.82ZM244.50 243.18H256.16V249.14H244.50ZM324.02 243.18H330.00V249.14H324.02ZM289.94 248.84H295.92V254.80H289.94ZM329.70 254.50H335.68V260.46H329.70ZM341.06 254.50H347.04V260.46H341.06ZM289.94 260.16H295.92V266.12H289.94ZM363.78 260.16H369.76V266.12H363.78ZM244.50 265.82H250.48V271.78H244.50ZM289.94 265.82H295.92V271.78H289.94ZM255.86 271.48H261.84V277.44H255.86ZM295.62 271.48H301.60V277.44H295.62ZM329.70 271.48H335.68V277.44H329.70ZM358.10 271.48H364.08V277.44H358.10ZM301.30 277.14H307.28V283.10H301.30ZM346.74 277.14H358.40V283.10H346.74ZM375.14 277.14H381.12V283.10H375.14ZM318.34 282.80H324.32V288.76H318.34ZM341.06 282.80H347.04V288.76H341.06ZM261.54 288.46H267.52V294.42H261.54ZM301.30 288.46H307.28V294.42H301.30ZM335.38 288.46H341.36V294.42H335.38ZM369.46 288.46H375.44V294.42H369.46ZM255.86 294.12H267.52V300.08H255.86ZM289.94 294.12H295.92V300.08H289.94ZM363.78 294.12H369.76V300.08H363.78ZM278.58 311.10H284.56V317.06H278.58ZM352.42 311.10H358.40V317.06H352.42ZM272.90 316.76H278.88V322.72H272.90ZM363.78 316.76H381.12V322.72H363.78ZM289.94 322.42H301.60V328.38H289.94ZM312.66 322.42H318.64V328.38H312.66ZM324.02 322.42H330.00V328.38H324.02ZM375.14 322.42H381.12V328.38H375.14ZM250.18 328.08H256.16V334.04H250.18ZM301.30 328.08H307.28V334.04H301.30ZM341.06 328.08H347.04V334.04H341.06ZM352.42 328.08H358.40V334.04H352.42ZM363.78 328.08H369.76V334.04H363.78ZM375.14 328.08H381.12V334.04H375.14ZM284.26 333.74H290.24V339.70H284.26ZM318.34 333.74H324.32V339.70H318.34ZM375.14 333.74H381.12V339.70H375.14ZM284.26 339.40H290.24V345.36H284.26ZM306.98 339.40H312.96V345.36H306.98ZM341.06 339.40H358.40V345.36H341.06ZM267.22 345.06H273.20V351.02H267.22ZM289.94 345.06H295.92V351.02H289.94ZM324.02 345.06H330.00V351.02H324.02ZM352.42 345.06H358.40V351.02H352.42ZM267.22 350.72H273.20V356.68H267.22ZM289.94 350.72H295.92V356.68H289.94ZM358.10 350.72H364.08V356.68H358.10ZM272.90 356.38H284.56V362.34H272.90ZM289.94 356.38H295.92V362.34H289.94ZM289.94 362.04H295.92V368.00H289.94Z"/>
<path fill="#67cc5c" d="M250.18 226.20H261.84V232.16H250.18ZM278.58 226.20H290.24V232.16H278.58ZM318.34 226.20H335.68V232.16H318.34ZM352.42 226.20H364.08V232.16H352.42ZM375.14 226.20H381.12V232.16H375.14ZM244.50 231.86H250.48V237.82H244.50ZM284.26 231.86H290.24V237.82H284.26ZM329.70 231.86H335.68V237.82H329.70ZM352.42 231.86H358.40V237.82H352.42ZM363.78 231.86H369.76V237.82H363.78ZM244.50 237.52H250.48V243.48H244.50ZM295.62 237.52H301.60V243.48H295.62ZM318.34 237.52H335.68V243.48H318.34ZM341.06 237.52H358.40V243.48H341.06ZM363.78 237.52H381.12V243.48H363.78ZM278.58 243.18H301.60V249.14H278.58ZM306.98 243.18H324.32V249.14H306.98ZM329.70 243.18H335.68V249.14H329.70ZM346.74 243.18H375.44V249.14H346.74ZM267.22 248.84H273.20V254.80H267.22ZM341.06 248.84H347.04V254.80H341.06ZM369.46 248.84H375.44V254.80H369.46ZM250.18 254.50H261.84V260.46H250.18ZM278.58 254.50H290.24V260.46H278.58ZM346.74 254.50H352.72V260.46H346.74ZM369.46 254.50H375.44V260.46H369.46ZM255.86 260.16H261.84V266.12H255.86ZM284.26 260.16H290.24V266.12H284.26ZM318.34 260.16H330.00V266.12H318.34ZM341.06 260.16H364.08V266.12H341.06ZM369.46 260.16H375.44V266.12H369.46ZM380.82 260.16H386.80V266.12H380.82ZM255.86 265.82H261.84V271.78H255.86ZM272.90 265.82H290.24V271.78H272.90ZM306.98 265.82H330.00V271.78H306.98ZM335.38 265.82H341.36V271.78H335.38ZM358.10 265.82H364.08V271.78H358.10ZM369.46 265.82H375.44V271.78H369.46ZM380.82 265.82H386.80V271.78H380.82ZM250.18 271.48H256.16V277.44H250.18ZM289.94 271.48H295.92V277.44H289.94ZM306.98 271.48H318.64V277.44H306.98ZM324.02 271.48H330.00V277.44H324.02ZM267.22 277.14H273.20V283.10H267.22ZM278.58 277.14H284.56V283.10H278.58ZM295.62 277.14H301.60V283.10H295.62ZM324.02 277.14H335.68V283.10H324.02ZM341.06 277.14H347.04V283.10H341.06ZM380.82 277.14H386.80V283.10H380.82ZM250.18 282.80H256.16V288.76H250.18ZM272.90 282.80H290.24V288.76H272.90ZM329.70 282.80H341.36V288.76H329.70ZM346.74 282.80H352.72V288.76H346.74ZM244.50 288.46H261.84V294.42H244.50ZM272.90 288.46H278.88V294.42H272.90ZM295.62 288.46H301.60V294.42H295.62ZM352.42 288.46H358.40V294.42H352.42ZM250.18 294.12H256.16V300.08H250.18ZM278.58 294.12H290.24V300.08H278.58ZM324.02 294.12H330.00V300.08H324.02ZM341.06 294.12H347.04V300.08H341.06ZM369.46 294.12H386.80V300.08H369.46ZM250.18 299.78H256.16V305.74H250.18ZM301.30 299.78H307.28V305.74H301.30ZM341.06 299.78H352.72V305.74H341.06ZM358.10 299.78H375.44V305.74H358.10ZM380.82 299.78H386.80V305.74H380.82ZM250.18 305.44H256.16V311.40H250.18ZM301.30 305.44H330.00V311.40H301.30ZM352.42 305.44H364.08V311.40H352.42ZM380.82 305.44H386.80V311.40H380.82ZM250.18 311.10H261.84V317.06H250.18ZM272.90 311.10H278.88V317.06H272.90ZM284.26 311.10H290.24V317.06H284.26ZM301.30 311.10H330.00V317.06H301.30ZM358.10 311.10H364.08V317.06H358.10ZM380.82 311.10H386.80V317.06H380.82ZM250.18 316.76H261.84V322.72H250.18ZM278.58 316.76H284.56V322.72H278.58ZM324.02 316.76H341.36V322.72H324.02ZM380.82 316.76H386.80V322.72H380.82ZM250.18 322.42H256.16V328.38H250.18ZM272.90 322.42H278.88V328.38H272.90ZM329.70 322.42H335.68V328.38H329.70ZM346.74 322.42H358.40V328.38H346.74ZM369.46 322.42H375.44V328.38H369.46ZM380.82 322.42H386.80V328.38H380.82ZM255.86 328.08H261.84V334.04H255.86ZM306.98 328.08H330.00V334.04H306.98ZM335.38 328.08H341.36V334.04H335.38ZM358.10 328.08H364.08V334.04H358.10ZM289.94 333.74H295.92V339.70H289.94ZM301.30 333.74H312.96V339.70H301.30ZM335.38 333.74H341.36V339.70H335.38ZM380.82 333.74H386.80V339.70H380.82ZM250.18 339.40H256.16V345.36H250.18ZM289.94 339.40H295.92V345.36H289.94ZM301.30 339.40H307.28V345.36H301.30ZM335.38 339.40H341.36V345.36H335.38ZM244.50 345.06H250.48V351.02H244.50ZM255.86 345.06H261.84V351.02H255.86ZM295.62 345.06H307.28V351.02H295.62ZM329.70 345.06H335.68V351.02H329.70ZM250.18 350.72H256.16V356.68H250.18ZM261.54 350.72H267.52V356.68H261.54ZM295.62 350.72H307.28V356.68H295.62ZM335.38 350.72H341.36V356.68H335.38ZM363.78 350.72H375.44V356.68H363.78ZM284.26 356.38H290.24V362.34H284.26ZM346.74 356.38H364.08V362.34H346.74ZM244.50 362.04H261.84V368.00H244.50ZM278.58 362.04H290.24V368.00H278.58ZM318.34 362.04H324.32V368.00H318.34ZM335.38 362.04H341.36V368.00H335.38ZM352.42 362.04H358.40V368.00H352.42Z"/>
<path fill="#a8db34" d="M301.30 226.20H318.64V232.16H301.30ZM301.30 231.86H307.28V237.82H301.30ZM312.66 231.86H318.64V237.82H312.66ZM358.10 231.86H364.08V237.82H358.10ZM301.30 237.52H318.64V243.48H301.30ZM358.10 237.52H364.08V243.48H358.10ZM267.22 243.18H278.88V249.14H267.22ZM335.38 243.18H347.04V249.14H335.38ZM272.90 248.84H290.24V254.80H272.90ZM335.38 248.84H341.36V254.80H335.38ZM346.74 248.84H358.40V254.80H346.74ZM335.38 254.50H341.36V260.46H335.38ZM352.42 254.50H358.40V260.46H352.42ZM375.14 260.16H381.12V266.12H375.14ZM250.18 265.82H256.16V271.78H250.18ZM261.54 265.82H273.20V271.78H261.54ZM329.70 265.82H335.68V271.78H329.70ZM363.78 265.82H369.76V271.78H363.78ZM261.54 271.48H273.20V277.44H261.54ZM278.58 271.48H284.56V277.44H278.58ZM250.18 277.14H256.16V283.10H250.18ZM289.94 277.14H295.92V283.10H289.94ZM289.94 282.80H318.64V288.76H289.94ZM352.42 282.80H358.40V288.76H352.42ZM278.58 288.46H295.92V294.42H278.58ZM329.70 288.46H335.68V294.42H329.70ZM306.98 299.78H324.32V305.74H306.98ZM375.14 299.78H381.12V305.74H375.14ZM284.26 316.76H312.96V322.72H284.26ZM301.30 322.42H312.96V328.38H301.30ZM329.70 328.08H335.68V334.04H329.70ZM380.82 328.08H386.80V334.04H380.82ZM295.62 333.74H301.60V339.70H295.62ZM312.66 333.74H318.64V339.70H312.66ZM341.06 333.74H347.04V339.70H341.06ZM295.62 339.40H301.60V345.36H295.62ZM250.18 345.06H256.16V351.02H250.18ZM272.90 345.06H278.88V351.02H272.90ZM363.78 345.06H375.44V351.02H363.78ZM255.86 350.72H261.84V356.68H255.86ZM272.90 350.72H278.88V356.68H272.90ZM329.70 350.72H335.68V356.68H329.70ZM255.86 356.38H267.52V362.34H255.86ZM335.38 356.38H341.36V362.34H335.38ZM324.02 362.04H335.68V368.00H324.02ZM346.74 362.04H352.72V368.00H346.74Z"/>
<path fill="#f6e620" d="M335.38 226.20H341.36V232.16H335.38ZM306.98 231.86H312.96V237.82H306.98ZM244.50 260.16H256.16V266.12H244.50ZM329.70 260.16H341.36V266.12H329.70ZM284.26 271.48H290.24V277.44H284.26ZM284.26 277.14H290.24V283.10H284.26ZM324.02 282.80H330.00V288.76H324.02ZM306.98 288.46H330.00V294.42H306.98ZM306.98 294.12H324.32V300.08H306.98ZM329.70 356.38H335.68V362.34H329.70Z"/>
</g>
<path d="M247.50 368.50v-5.6M247.50 227.50v5.6M244.50 365.50h5.6M386.50 365.50h-5.6M275.50 368.50v-5.6M275.50 227.50v5.6M244.50 337.50h5.6M386.50 337.50h-5.6M304.50 368.50v-5.6M304.50 227.50v5.6M244.50 309.50h5.6M386.50 309.50h-5.6M332.50 368.50v-5.6M332.50 227.50v5.6M244.50 280.50h5.6M386.50 280.50h-5.6M360.50 368.50v-5.6M360.50 227.50v5.6M244.50 252.50h5.6M386.50 252.50h-5.6" stroke="#000" stroke-width="1" fill="none" shape-rendering="crispEdges"/>
<rect x="244.5" y="227.5" width="142.0" height="141.0" fill="none" stroke="#000" stroke-width="1.39"/>
<text x="247.20" y="387.90" font-size="17.00" text-anchor="middle" textLength="9.8" lengthAdjust="spacingAndGlyphs">0</text>
<text x="237.70" y="368.90" font-size="17.00" text-anchor="end" textLength="9.8" lengthAdjust="spacingAndGlyphs">0</text>
<text x="274.90" y="387.90" font-size="17.00" text-anchor="middle" textLength="9.8" lengthAdjust="spacingAndGlyphs">5</text>
<text x="237.70" y="340.90" font-size="17.00" text-anchor="end" textLength="9.8" lengthAdjust="spacingAndGlyphs">5</text>
<text x="304.30" y="387.90" font-size="17.00" text-anchor="middle" textLength="19.6" lengthAdjust="spacingAndGlyphs">10</text>
<text x="237.70" y="312.90" font-size="17.00" text-anchor="end" textLength="19.6" lengthAdjust="spacingAndGlyphs">10</text>
<text x="332.10" y="387.90" font-size="17.00" text-anchor="middle" textLength="19.6" lengthAdjust="spacingAndGlyphs">15</text>
<text x="237.70" y="283.90" font-size="17.00" text-anchor="end" textLength="19.6" lengthAdjust="spacingAndGlyphs">15</text>
<text x="359.80" y="387.90" font-size="17.00" text-anchor="middle" textLength="19.6" lengthAdjust="spacingAndGlyphs">20</text>
<text x="237.70" y="255.90" font-size="17.00" text-anchor="end" textLength="19.6" lengthAdjust="spacingAndGlyphs">20</text>
<text x="315.00" y="219.60" font-size="20.40" text-anchor="middle" textLength="60.5" lengthAdjust="spacingAndGlyphs">f125w</text>
<clipPath id="c138"><rect x="443.5" y="227.5" width="142.0" height="141.0"/></clipPath>
<g shape-rendering="crispEdges" clip-path="url(#c138)">
<path fill="#450457" d="M568.46 277.14H574.44V283.10H568.46ZM443.50 282.80H449.48V288.76H443.50ZM568.46 282.80H574.44V288.76H568.46ZM540.06 316.76H551.72V322.72H540.06ZM540.06 322.42H551.72V328.38H540.06ZM523.02 339.40H529.00V345.36H523.02ZM528.70 350.72H534.68V356.68H528.70Z"/>
<path fill="#482878" d="M562.78 322.42H568.76V328.38H562.78ZM454.86 328.08H460.84V334.04H454.86ZM454.86 333.74H460.84V339.70H454.86ZM528.70 345.06H534.68V351.02H528.70ZM460.54 356.38H466.52V362.34H460.54Z"/>
<path fill="#424086" d="M574.14 282.80H580.12V288.76H574.14ZM568.46 288.46H574.44V294.42H568.46ZM534.38 305.44H540.36V311.40H534.38ZM471.90 339.40H477.88V345.36H471.90ZM528.70 339.40H534.68V345.36H528.70ZM500.30 356.38H506.28V362.34H500.30Z"/>
<path fill="#365d8d" d="M562.78 254.50H568.76V260.46H562.78ZM454.86 282.80H460.84V288.76H454.86ZM574.14 288.46H580.12V294.42H574.14ZM545.74 311.10H551.72V317.06H545.74ZM477.58 333.74H483.56V339.70H477.58ZM523.02 333.74H529.00V339.70H523.02ZM466.22 356.38H472.20V362.34H466.22Z"/>
<path fill="#297a8e" d="M483.26 237.52H489.24V243.48H483.26ZM511.66 254.50H517.64V260.46H511.66ZM551.42 260.16H557.40V266.12H551.42ZM551.42 265.82H557.40V271.78H551.42ZM483.26 271.48H489.24V277.44H483.26ZM449.18 277.14H455.16V283.10H449.18ZM471.90 277.14H477.88V283.10H471.90ZM449.18 282.80H455.16V288.76H449.18ZM460.54 282.80H466.52V288.76H460.54ZM477.58 282.80H483.56V288.76H477.58ZM443.50 288.46H455.16V294.42H443.50ZM443.50 299.78H449.48V305.74H443.50ZM540.06 299.78H546.04V305.74H540.06ZM540.06 305.44H546.04V311.40H540.06ZM540.06 311.10H546.04V317.06H540.06ZM551.42 316.76H557.40V322.72H551.42ZM579.82 316.76H585.80V322.72H579.82ZM540.06 328.08H546.04V334.04H540.06ZM562.78 328.08H568.76V334.04H562.78ZM528.70 333.74H534.68V339.70H528.70ZM477.58 339.40H483.56V345.36H477.58ZM523.02 345.06H529.00V351.02H523.02ZM562.78 345.06H568.76V351.02H562.78ZM500.30 350.72H506.28V356.68H500.30ZM534.38 350.72H540.36V356.68H534.38Z"/>
<path fill="#1f958b" d="M528.70 226.20H534.68V232.16H528.70ZM483.26 231.86H489.24V237.82H483.26ZM505.98 243.18H511.96V249.14H505.98ZM562.78 248.84H568.76V254.80H562.78ZM528.70 260.16H534.68V266.12H528.70ZM540.06 265.82H546.04V271.78H540.06ZM477.58 271.48H483.56V277.44H477.58ZM568.46 271.48H574.44V277.44H568.46ZM477.58 277.14H483.56V283.10H477.58ZM574.14 277.14H580.12V283.10H574.14ZM471.90 282.80H477.88V288.76H471.90ZM454.86 288.46H466.52V294.42H454.86ZM477.58 288.46H483.56V294.42H477.58ZM534.38 299.78H540.36V305.74H534.38ZM551.42 311.10H557.40V317.06H551.42ZM534.38 316.76H540.36V322.72H534.38ZM534.38 322.42H540.36V328.38H534.38ZM557.10 322.42H563.08V328.38H557.10ZM579.82 322.42H585.80V328.38H579.82ZM460.54 328.08H466.52V334.04H460.54ZM557.10 328.08H563.08V334.04H557.10ZM471.90 333.74H477.88V339.70H471.90ZM460.54 350.72H466.52V356.68H460.54ZM523.02 350.72H529.00V356.68H523.02ZM494.62 356.38H500.60V362.34H494.62ZM505.98 356.38H511.96V362.34H505.98ZM460.54 362.04H472.20V368.00H460.54ZM568.46 362.04H574.44V368.00H568.46Z"/>
<path fill="#25ac82" d="M443.50 226.20H449.48V232.16H443.50ZM466.22 226.20H477.88V232.16H466.22ZM523.02 226.20H529.00V232.16H523.02ZM534.38 226.20H540.36V232.16H534.38ZM557.10 226.20H563.08V232.16H557.10ZM443.50 231.86H449.48V237.82H443.50ZM466.22 231.86H483.56V237.82H466.22ZM460.54 237.52H466.52V243.48H460.54ZM477.58 237.52H483.56V243.48H477.58ZM488.94 237.52H494.92V243.48H488.94ZM500.30 237.52H506.28V243.48H500.30ZM534.38 237.52H540.36V243.48H534.38ZM562.78 237.52H585.80V243.48H562.78ZM460.54 243.18H466.52V249.14H460.54ZM477.58 243.18H489.24V249.14H477.58ZM500.30 243.18H506.28V249.14H500.30ZM545.74 243.18H557.40V249.14H545.74ZM574.14 243.18H585.80V249.14H574.14ZM477.58 248.84H500.60V254.80H477.58ZM505.98 248.84H517.64V254.80H505.98ZM557.10 248.84H563.08V254.80H557.10ZM528.70 254.50H534.68V260.46H528.70ZM551.42 254.50H557.40V260.46H551.42ZM579.82 254.50H585.80V260.46H579.82ZM454.86 260.16H466.52V266.12H454.86ZM545.74 260.16H551.72V266.12H545.74ZM557.10 260.16H574.44V266.12H557.10ZM466.22 265.82H472.20V271.78H466.22ZM494.62 265.82H506.28V271.78H494.62ZM528.70 265.82H540.36V271.78H528.70ZM545.74 265.82H551.72V271.78H545.74ZM557.10 265.82H563.08V271.78H557.10ZM568.46 265.82H580.12V271.78H568.46ZM466.22 271.48H477.88V277.44H466.22ZM488.94 271.48H500.60V277.44H488.94ZM540.06 271.48H551.72V277.44H540.06ZM574.14 271.48H580.12V277.44H574.14ZM443.50 277.14H449.48V283.10H443.50ZM466.22 277.14H472.20V283.10H466.22ZM483.26 277.14H489.24V283.10H483.26ZM483.26 282.80H489.24V288.76H483.26ZM517.34 282.80H529.00V288.76H517.34ZM562.78 282.80H568.76V288.76H562.78ZM545.74 294.12H551.72V300.08H545.74ZM574.14 294.12H580.12V300.08H574.14ZM449.18 299.78H455.16V305.74H449.18ZM466.22 299.78H472.20V305.74H466.22ZM494.62 299.78H500.60V305.74H494.62ZM443.50 305.44H449.48V311.40H443.50ZM488.94 305.44H494.92V311.40H488.94ZM545.74 305.44H551.72V311.40H545.74ZM574.14 305.44H580.12V311.40H574.14ZM449.18 311.10H460.84V317.06H449.18ZM534.38 311.10H540.36V317.06H534.38ZM568.46 311.10H580.12V317.06H568.46ZM449.18 316.76H455.16V322.72H449.18ZM511.66 316.76H517.64V322.72H511.66ZM557.10 316.76H580.12V322.72H557.10ZM449.18 322.42H460.84V328.38H449.18ZM477.58 322.42H483.56V328.38H477.58ZM505.98 322.42H511.96V328.38H505.98ZM551.42 322.42H557.40V328.38H551.42ZM568.46 322.42H574.44V328.38H568.46ZM449.18 328.08H455.16V334.04H449.18ZM477.58 328.08H483.56V334.04H477.58ZM488.94 328.08H500.60V334.04H488.94ZM545.74 328.08H551.72V334.04H545.74ZM460.54 333.74H466.52V339.70H460.54ZM483.26 333.74H494.92V339.70H483.26ZM511.66 333.74H523.32V339.70H511.66ZM562.78 333.74H568.76V339.70H562.78ZM483.26 339.40H489.24V345.36H483.26ZM505.98 339.40H511.96V345.36H505.98ZM477.58 345.06H483.56V351.02H477.58ZM534.38 345.06H540.36V351.02H534.38ZM557.10 345.06H563.08V351.02H557.10ZM568.46 345.06H574.44V351.02H568.46ZM494.62 350.72H500.60V356.68H494.62ZM540.06 350.72H546.04V356.68H540.06ZM557.10 350.72H580.12V356.68H557.10ZM454.86 356.38H460.84V362.34H454.86ZM551.42 356.38H557.40V362.34H551.42ZM562.78 356.38H574.44V362.34H562.78ZM471.90 362.04H489.24V368.00H471.90ZM500.30 362.04H506.28V368.00H500.30ZM557.10 362.04H563.08V368.00H557.10Z"/>
<path fill="#44bf70" d="M494.62 226.20H500.60V232.16H494.62ZM562.78 226.20H568.76V232.16H562.78ZM449.18 231.86H455.16V237.82H449.18ZM528.70 231.86H534.68V237.82H528.70ZM562.78 231.86H580.12V237.82H562.78ZM528.70 237.52H534.68V243.48H528.70ZM488.94 243.18H494.92V249.14H488.94ZM551.42 248.84H557.40V254.80H551.42ZM579.82 248.84H585.80V254.80H579.82ZM460.54 254.50H466.52V260.46H460.54ZM483.26 254.50H489.24V260.46H483.26ZM557.10 254.50H563.08V260.46H557.10ZM574.14 254.50H580.12V260.46H574.14ZM511.66 260.16H517.64V266.12H511.66ZM574.14 260.16H585.80V266.12H574.14ZM460.54 265.82H466.52V271.78H460.54ZM505.98 265.82H511.96V271.78H505.98ZM562.78 265.82H568.76V271.78H562.78ZM528.70 271.48H540.36V277.44H528.70ZM551.42 271.48H557.40V277.44H551.42ZM488.94 282.80H494.92V288.76H488.94ZM483.26 288.46H494.92V294.42H483.26ZM579.82 294.12H585.80V300.08H579.82ZM488.94 299.78H494.92V305.74H488.94ZM528.70 299.78H534.68V305.74H528.70ZM551.42 299.78H557.40V305.74H551.42ZM579.82 299.78H585.80V305.74H579.82ZM579.82 305.44H585.80V311.40H579.82ZM579.82 311.10H585.80V317.06H579.82ZM528.70 316.76H534.68V322.72H528.70ZM443.50 322.42H449.48V328.38H443.50ZM471.90 322.42H477.88V328.38H471.90ZM574.14 322.42H580.12V328.38H574.14ZM568.46 328.08H585.80V334.04H568.46ZM505.98 333.74H511.96V339.70H505.98ZM534.38 333.74H540.36V339.70H534.38ZM568.46 333.74H580.12V339.70H568.46ZM449.18 339.40H460.84V345.36H449.18ZM568.46 339.40H574.44V345.36H568.46ZM454.86 350.72H460.84V356.68H454.86ZM477.58 350.72H483.56V356.68H477.58ZM579.82 350.72H585.80V356.68H579.82ZM477.58 356.38H489.24V362.34H477.58ZM511.66 356.38H517.64V362.34H511.66ZM528.70 356.38H546.04V362.34H528.70ZM494.62 362.04H500.60V368.00H494.62ZM511.66 362.04H517.64V368.00H511.66ZM534.38 362.04H540.36V368.00H534.38ZM551.42 362.04H557.40V368.00H551.42ZM562.78 362.04H568.76V368.00H562.78ZM574.14 362.04H580.12V368.00H574.14Z"/>
<path fill="#67cc5c" d="M449.18 226.20H455.16V232.16H449.18ZM477.58 226.20H494.92V232.16H477.58ZM500.30 226.20H511.96V232.16H500.30ZM517.34 226.20H523.32V232.16H517.34ZM540.06 226.20H557.40V232.16H540.06ZM568.46 226.20H574.44V232.16H568.46ZM579.82 226.20H585.80V232.16H579.82ZM460.54 231.86H466.52V237.82H460.54ZM488.94 231.86H506.28V237.82H488.94ZM517.34 231.86H529.00V237.82H517.34ZM534.38 231.86H540.36V237.82H534.38ZM545.74 231.86H551.72V237.82H545.74ZM579.82 231.86H585.80V237.82H579.82ZM443.50 237.52H460.84V243.48H443.50ZM466.22 237.52H472.20V243.48H466.22ZM494.62 237.52H500.60V243.48H494.62ZM505.98 237.52H511.96V243.48H505.98ZM523.02 237.52H529.00V243.48H523.02ZM545.74 237.52H563.08V243.48H545.74ZM449.18 243.18H460.84V249.14H449.18ZM494.62 243.18H500.60V249.14H494.62ZM511.66 243.18H517.64V249.14H511.66ZM534.38 243.18H546.04V249.14H534.38ZM557.10 243.18H574.44V249.14H557.10ZM449.18 248.84H466.52V254.80H449.18ZM471.90 248.84H477.88V254.80H471.90ZM500.30 248.84H506.28V254.80H500.30ZM517.34 248.84H523.32V254.80H517.34ZM545.74 248.84H551.72V254.80H545.74ZM568.46 248.84H574.44V254.80H568.46ZM454.86 254.50H460.84V260.46H454.86ZM466.22 254.50H472.20V260.46H466.22ZM477.58 254.50H483.56V260.46H477.58ZM488.94 254.50H500.60V260.46H488.94ZM505.98 254.50H511.96V260.46H505.98ZM517.34 254.50H529.00V260.46H517.34ZM545.74 254.50H551.72V260.46H545.74ZM568.46 254.50H574.44V260.46H568.46ZM449.18 260.16H455.16V266.12H449.18ZM466.22 260.16H472.20V266.12H466.22ZM494.62 260.16H500.60V266.12H494.62ZM505.98 260.16H511.96V266.12H505.98ZM534.38 260.16H540.36V266.12H534.38ZM454.86 265.82H460.84V271.78H454.86ZM471.90 265.82H494.92V271.78H471.90ZM511.66 265.82H517.64V271.78H511.66ZM443.50 271.48H460.84V277.44H443.50ZM500.30 271.48H511.96V277.44H500.30ZM557.10 271.48H568.76V277.44H557.10ZM579.82 271.48H585.80V277.44H579.82ZM454.86 277.14H466.52V283.10H454.86ZM488.94 277.14H506.28V283.10H488.94ZM523.02 277.14H546.04V283.10H523.02ZM562.78 277.14H568.76V283.10H562.78ZM579.82 277.14H585.80V283.10H579.82ZM466.22 282.80H472.20V288.76H466.22ZM494.62 282.80H500.60V288.76H494.62ZM528.70 282.80H534.68V288.76H528.70ZM579.82 282.80H585.80V288.76H579.82ZM466.22 288.46H477.88V294.42H466.22ZM494.62 288.46H500.60V294.42H494.62ZM517.34 288.46H529.00V294.42H517.34ZM540.06 288.46H551.72V294.42H540.06ZM562.78 288.46H568.76V294.42H562.78ZM579.82 288.46H585.80V294.42H579.82ZM443.50 294.12H472.20V300.08H443.50ZM488.94 294.12H506.28V300.08H488.94ZM523.02 294.12H546.04V300.08H523.02ZM551.42 294.12H557.40V300.08H551.42ZM562.78 294.12H574.44V300.08H562.78ZM483.26 299.78H489.24V305.74H483.26ZM500.30 299.78H506.28V305.74H500.30ZM517.34 299.78H529.00V305.74H517.34ZM545.74 299.78H551.72V305.74H545.74ZM557.10 299.78H568.76V305.74H557.10ZM574.14 299.78H580.12V305.74H574.14ZM449.18 305.44H460.84V311.40H449.18ZM466.22 305.44H472.20V311.40H466.22ZM483.26 305.44H489.24V311.40H483.26ZM494.62 305.44H500.60V311.40H494.62ZM523.02 305.44H534.68V311.40H523.02ZM551.42 305.44H574.44V311.40H551.42ZM443.50 311.10H449.48V317.06H443.50ZM460.54 311.10H466.52V317.06H460.54ZM488.94 311.10H500.60V317.06H488.94ZM523.02 311.10H534.68V317.06H523.02ZM443.50 316.76H449.48V322.72H443.50ZM454.86 316.76H460.84V322.72H454.86ZM477.58 316.76H483.56V322.72H477.58ZM494.62 316.76H511.96V322.72H494.62ZM517.34 316.76H529.00V322.72H517.34ZM460.54 322.42H472.20V328.38H460.54ZM483.26 322.42H506.28V328.38H483.26ZM511.66 322.42H534.68V328.38H511.66ZM466.22 328.08H477.88V334.04H466.22ZM483.26 328.08H489.24V334.04H483.26ZM500.30 328.08H540.36V334.04H500.30ZM551.42 328.08H557.40V334.04H551.42ZM443.50 333.74H455.16V339.70H443.50ZM466.22 333.74H472.20V339.70H466.22ZM494.62 333.74H506.28V339.70H494.62ZM545.74 333.74H563.08V339.70H545.74ZM579.82 333.74H585.80V339.70H579.82ZM443.50 339.40H449.48V345.36H443.50ZM460.54 339.40H472.20V345.36H460.54ZM488.94 339.40H494.92V345.36H488.94ZM500.30 339.40H506.28V345.36H500.30ZM517.34 339.40H523.32V345.36H517.34ZM534.38 339.40H540.36V345.36H534.38ZM551.42 339.40H568.76V345.36H551.42ZM574.14 339.40H580.12V345.36H574.14ZM454.86 345.06H477.88V351.02H454.86ZM488.94 345.06H506.28V351.02H488.94ZM540.06 345.06H557.40V351.02H540.06ZM574.14 345.06H585.80V351.02H574.14ZM466.22 350.72H477.88V356.68H466.22ZM483.26 350.72H494.92V356.68H483.26ZM517.34 350.72H523.32V356.68H517.34ZM545.74 350.72H557.40V356.68H545.74ZM471.90 356.38H477.88V362.34H471.90ZM488.94 356.38H494.92V362.34H488.94ZM517.34 356.38H529.00V362.34H517.34ZM545.74 356.38H551.72V362.34H545.74ZM557.10 356.38H563.08V362.34H557.10ZM579.82 356.38H585.80V362.34H579.82ZM443.50 362.04H460.84V368.00H443.50ZM488.94 362.04H494.92V368.00H488.94ZM505.98 362.04H511.96V368.00H505.98ZM517.34 362.04H534.68V368.00H517.34ZM540.06 362.04H551.72V368.00H540.06Z"/>
<path fill="#a8db34" d="M511.66 226.20H517.64V232.16H511.66ZM574.14 226.20H580.12V232.16H574.14ZM454.86 231.86H460.84V237.82H454.86ZM505.98 231.86H517.64V237.82H505.98ZM540.06 231.86H546.04V237.82H540.06ZM557.10 231.86H563.08V237.82H557.10ZM471.90 237.52H477.88V243.48H471.90ZM511.66 237.52H523.32V243.48H511.66ZM540.06 237.52H546.04V243.48H540.06ZM443.50 243.18H449.48V249.14H443.50ZM466.22 243.18H477.88V249.14H466.22ZM523.02 243.18H534.68V249.14H523.02ZM443.50 248.84H449.48V254.80H443.50ZM466.22 248.84H472.20V254.80H466.22ZM523.02 248.84H534.68V254.80H523.02ZM574.14 248.84H580.12V254.80H574.14ZM449.18 254.50H455.16V260.46H449.18ZM471.90 254.50H477.88V260.46H471.90ZM500.30 254.50H506.28V260.46H500.30ZM534.38 254.50H546.04V260.46H534.38ZM443.50 260.16H449.48V266.12H443.50ZM488.94 260.16H494.92V266.12H488.94ZM500.30 260.16H506.28V266.12H500.30ZM517.34 260.16H529.00V266.12H517.34ZM540.06 260.16H546.04V266.12H540.06ZM443.50 265.82H455.16V271.78H443.50ZM523.02 265.82H529.00V271.78H523.02ZM579.82 265.82H585.80V271.78H579.82ZM460.54 271.48H466.52V277.44H460.54ZM511.66 271.48H517.64V277.44H511.66ZM523.02 271.48H529.00V277.44H523.02ZM505.98 277.14H523.32V283.10H505.98ZM545.74 277.14H563.08V283.10H545.74ZM511.66 282.80H517.64V288.76H511.66ZM534.38 282.80H551.72V288.76H534.38ZM557.10 282.80H563.08V288.76H557.10ZM528.70 288.46H540.36V294.42H528.70ZM557.10 288.46H563.08V294.42H557.10ZM471.90 294.12H489.24V300.08H471.90ZM517.34 294.12H523.32V300.08H517.34ZM557.10 294.12H563.08V300.08H557.10ZM454.86 299.78H466.52V305.74H454.86ZM471.90 299.78H483.56V305.74H471.90ZM505.98 299.78H511.96V305.74H505.98ZM568.46 299.78H574.44V305.74H568.46ZM460.54 305.44H466.52V311.40H460.54ZM471.90 305.44H483.56V311.40H471.90ZM500.30 305.44H506.28V311.40H500.30ZM517.34 305.44H523.32V311.40H517.34ZM466.22 311.10H489.24V317.06H466.22ZM500.30 311.10H523.32V317.06H500.30ZM557.10 311.10H568.76V317.06H557.10ZM460.54 316.76H477.88V322.72H460.54ZM483.26 316.76H494.92V322.72H483.26ZM443.50 328.08H449.48V334.04H443.50ZM540.06 333.74H546.04V339.70H540.06ZM494.62 339.40H500.60V345.36H494.62ZM511.66 339.40H517.64V345.36H511.66ZM540.06 339.40H551.72V345.36H540.06ZM579.82 339.40H585.80V345.36H579.82ZM443.50 345.06H455.16V351.02H443.50ZM483.26 345.06H489.24V351.02H483.26ZM505.98 345.06H511.96V351.02H505.98ZM517.34 345.06H523.32V351.02H517.34ZM505.98 350.72H511.96V356.68H505.98ZM449.18 356.38H455.16V362.34H449.18ZM574.14 356.38H580.12V362.34H574.14ZM579.82 362.04H585.80V368.00H579.82Z"/>
<path fill="#f6e620" d="M454.86 226.20H466.52V232.16H454.86ZM551.42 231.86H557.40V237.82H551.42ZM517.34 243.18H523.32V249.14H517.34ZM534.38 248.84H546.04V254.80H534.38ZM443.50 254.50H449.48V260.46H443.50ZM471.90 260.16H489.24V266.12H471.90ZM517.34 265.82H523.32V271.78H517.34ZM517.34 271.48H523.32V277.44H517.34ZM500.30 282.80H511.96V288.76H500.30ZM551.42 282.80H557.40V288.76H551.42ZM500.30 288.46H517.64V294.42H500.30ZM551.42 288.46H557.40V294.42H551.42ZM505.98 294.12H517.64V300.08H505.98ZM511.66 299.78H517.64V305.74H511.66ZM505.98 305.44H517.64V311.40H505.98ZM511.66 345.06H517.64V351.02H511.66ZM443.50 350.72H455.16V356.68H443.50ZM511.66 350.72H517.64V356.68H511.66ZM443.50 356.38H449.48V362.34H443.50Z"/>
</g>
<path d="M446.50 368.50v-5.6M446.50 227.50v5.6M443.50 365.50h5.6M585.50 365.50h-5.6M474.50 368.50v-5.6M474.50 227.50v5.6M443.50 337.50h5.6M585.50 337.50h-5.6M503.50 368.50v-5.6M503.50 227.50v5.6M443.50 309.50h5.6M585.50 309.50h-5.6M531.50 368.50v-5.6M531.50 227.50v5.6M443.50 280.50h5.6M585.50 280.50h-5.6M559.50 368.50v-5.6M559.50 227.50v5.6M443.50 252.50h5.6M585.50 252.50h-5.6" stroke="#000" stroke-width="1" fill="none" shape-rendering="crispEdges"/>
<rect x="443.5" y="227.5" width="142.0" height="141.0" fill="none" stroke="#000" stroke-width="1.39"/>
<text x="446.20" y="387.90" font-size="17.00" text-anchor="middle" textLength="9.8" lengthAdjust="spacingAndGlyphs">0</text>
<text x="436.70" y="368.90" font-size="17.00" text-anchor="end" textLength="9.8" lengthAdjust="spacingAndGlyphs">0</text>
<text x="473.90" y="387.90" font-size="17.00" text-anchor="middle" textLength="9.8" lengthAdjust="spacingAndGlyphs">5</text>
<text x="436.70" y="340.90" font-size="17.00" text-anchor="end" textLength="9.8" lengthAdjust="spacingAndGlyphs">5</text>
<text x="503.30" y="387.90" font-size="17.00" text-anchor="middle" textLength="19.6" lengthAdjust="spacingAndGlyphs">10</text>
<text x="436.70" y="312.90" font-size="17.00" text-anchor="end" textLength="19.6" lengthAdjust="spacingAndGlyphs">10</text>
<text x="531.10" y="387.90" font-size="17.00" text-anchor="middle" textLength="19.6" lengthAdjust="spacingAndGlyphs">15</text>
<text x="436.70" y="283.90" font-size="17.00" text-anchor="end" textLength="19.6" lengthAdjust="spacingAndGlyphs">15</text>
<text x="558.80" y="387.90" font-size="17.00" text-anchor="middle" textLength="19.6" lengthAdjust="spacingAndGlyphs">20</text>
<text x="436.70" y="255.90" font-size="17.00" text-anchor="end" textLength="19.6" lengthAdjust="spacingAndGlyphs">20</text>
<text x="514.00" y="219.60" font-size="20.40" text-anchor="middle" textLength="60.5" lengthAdjust="spacingAndGlyphs">f140w</text>
<clipPath id="c165"><rect x="643.5" y="227.5" width="141.0" height="141.0"/></clipPath>
<g shape-rendering="crispEdges" clip-path="url(#c165)">
<path fill="#450457" d="M761.94 237.52H767.88V243.48H761.94ZM728.10 305.44H734.04V311.40H728.10ZM745.02 311.10H756.60V317.06H745.02ZM745.02 316.76H750.96V322.72H745.02ZM722.46 322.42H728.40V328.38H722.46ZM711.18 345.06H717.12V351.02H711.18ZM756.30 356.38H767.88V362.34H756.30Z"/>
<path fill="#482878" d="M739.38 316.76H745.32V322.72H739.38Z"/>
<path fill="#424086" d="M773.22 226.20H779.16V232.16H773.22ZM773.22 294.12H779.16V300.08H773.22ZM739.38 311.10H745.32V317.06H739.38ZM671.70 316.76H677.64V322.72H671.70ZM773.22 333.74H779.16V339.70H773.22ZM716.82 345.06H722.76V351.02H716.82Z"/>
<path fill="#365d8d" d="M761.94 231.86H767.88V237.82H761.94ZM750.66 254.50H756.60V260.46H750.66ZM699.90 260.16H705.84V266.12H699.90ZM750.66 260.16H756.60V266.12H750.66ZM643.50 282.80H649.44V288.76H643.50ZM756.30 288.46H762.24V294.42H756.30ZM773.22 288.46H779.16V294.42H773.22ZM677.34 294.12H683.28V300.08H677.34ZM778.86 294.12H784.80V300.08H778.86ZM733.74 305.44H739.68V311.40H733.74ZM733.74 311.10H739.68V317.06H733.74ZM750.66 316.76H756.60V322.72H750.66ZM654.78 322.42H660.72V328.38H654.78ZM750.66 322.42H756.60V328.38H750.66ZM694.26 328.08H700.20V334.04H694.26ZM750.66 328.08H756.60V334.04H750.66ZM739.38 333.74H745.32V339.70H739.38ZM682.98 345.06H688.92V351.02H682.98ZM728.10 350.72H739.68V356.68H728.10ZM756.30 350.72H762.24V356.68H756.30Z"/>
<path fill="#297a8e" d="M677.34 226.20H683.28V232.16H677.34ZM767.58 226.20H773.52V232.16H767.58ZM756.30 237.52H762.24V243.48H756.30ZM649.14 248.84H655.08V254.80H649.14ZM694.26 248.84H700.20V254.80H694.26ZM694.26 254.50H700.20V260.46H694.26ZM767.58 260.16H773.52V266.12H767.58ZM654.78 265.82H660.72V271.78H654.78ZM756.30 265.82H762.24V271.78H756.30ZM773.22 277.14H779.16V283.10H773.22ZM649.14 282.80H655.08V288.76H649.14ZM761.94 288.46H767.88V294.42H761.94ZM778.86 288.46H784.80V294.42H778.86ZM643.50 305.44H649.44V311.40H643.50ZM750.66 305.44H756.60V311.40H750.66ZM643.50 311.10H649.44V317.06H643.50ZM722.46 316.76H728.40V322.72H722.46ZM767.58 316.76H773.52V322.72H767.58ZM649.14 322.42H655.08V328.38H649.14ZM671.70 322.42H677.64V328.38H671.70ZM739.38 322.42H745.32V328.38H739.38ZM654.78 328.08H660.72V334.04H654.78ZM699.90 328.08H711.48V334.04H699.90ZM745.02 328.08H750.96V334.04H745.02ZM773.22 328.08H779.16V334.04H773.22ZM705.54 333.74H711.48V339.70H705.54ZM733.74 333.74H739.68V339.70H733.74ZM745.02 333.74H750.96V339.70H745.02ZM711.18 339.40H717.12V345.36H711.18ZM767.58 339.40H773.52V345.36H767.58ZM677.34 345.06H683.28V351.02H677.34ZM733.74 345.06H739.68V351.02H733.74ZM767.58 345.06H773.52V351.02H767.58ZM682.98 350.72H688.92V356.68H682.98ZM778.86 350.72H784.80V356.68H778.86ZM750.66 356.38H756.60V362.34H750.66ZM767.58 356.38H773.52V362.34H767.58ZM682.98 362.04H688.92V368.00H682.98ZM750.66 362.04H756.60V368.00H750.66ZM767.58 362.04H773.52V368.00H767.58Z"/>
<path fill="#1f958b" d="M671.70 226.20H677.64V232.16H671.70ZM666.06 231.86H672.00V237.82H666.06ZM756.30 231.86H762.24V237.82H756.30ZM767.58 231.86H773.52V237.82H767.58ZM666.06 237.52H672.00V243.48H666.06ZM767.58 237.52H773.52V243.48H767.58ZM761.94 243.18H767.88V249.14H761.94ZM649.14 254.50H655.08V260.46H649.14ZM699.90 254.50H705.84V260.46H699.90ZM643.50 260.16H660.72V266.12H643.50ZM694.26 260.16H700.20V266.12H694.26ZM654.78 271.48H666.36V277.44H654.78ZM716.82 277.14H722.76V283.10H716.82ZM643.50 288.46H655.08V294.42H643.50ZM671.70 294.12H677.64V300.08H671.70ZM677.34 299.78H688.92V305.74H677.34ZM773.22 299.78H779.16V305.74H773.22ZM722.46 311.10H734.04V317.06H722.46ZM767.58 311.10H773.52V317.06H767.58ZM733.74 316.76H739.68V322.72H733.74ZM660.42 322.42H666.36V328.38H660.42ZM694.26 322.42H711.48V328.38H694.26ZM745.02 322.42H750.96V328.38H745.02ZM722.46 328.08H728.40V334.04H722.46ZM739.38 328.08H745.32V334.04H739.38ZM778.86 328.08H784.80V334.04H778.86ZM699.90 333.74H705.84V339.70H699.90ZM767.58 333.74H773.52V339.70H767.58ZM649.14 339.40H655.08V345.36H649.14ZM705.54 339.40H711.48V345.36H705.54ZM739.38 339.40H745.32V345.36H739.38ZM705.54 345.06H711.48V351.02H705.54ZM728.10 345.06H734.04V351.02H728.10ZM739.38 345.06H750.96V351.02H739.38ZM705.54 350.72H728.40V356.68H705.54ZM773.22 350.72H779.16V356.68H773.22ZM688.62 362.04H694.56V368.00H688.62ZM722.46 362.04H728.40V368.00H722.46ZM756.30 362.04H762.24V368.00H756.30Z"/>
<path fill="#25ac82" d="M666.06 226.20H672.00V232.16H666.06ZM745.02 226.20H750.96V232.16H745.02ZM761.94 226.20H767.88V232.16H761.94ZM778.86 226.20H784.80V232.16H778.86ZM671.70 231.86H683.28V237.82H671.70ZM694.26 231.86H700.20V237.82H694.26ZM716.82 231.86H722.76V237.82H716.82ZM773.22 231.86H779.16V237.82H773.22ZM660.42 237.52H666.36V243.48H660.42ZM699.90 237.52H705.84V243.48H699.90ZM773.22 237.52H784.80V243.48H773.22ZM654.78 243.18H677.64V249.14H654.78ZM756.30 243.18H762.24V249.14H756.30ZM773.22 243.18H779.16V249.14H773.22ZM654.78 248.84H660.72V254.80H654.78ZM671.70 248.84H683.28V254.80H671.70ZM688.62 248.84H694.56V254.80H688.62ZM711.18 248.84H722.76V254.80H711.18ZM733.74 248.84H745.32V254.80H733.74ZM750.66 248.84H756.60V254.80H750.66ZM666.06 254.50H672.00V260.46H666.06ZM677.34 254.50H683.28V260.46H677.34ZM688.62 254.50H694.56V260.46H688.62ZM756.30 254.50H762.24V260.46H756.30ZM778.86 254.50H784.80V260.46H778.86ZM660.42 260.16H666.36V266.12H660.42ZM745.02 260.16H750.96V266.12H745.02ZM756.30 260.16H767.88V266.12H756.30ZM773.22 260.16H784.80V266.12H773.22ZM660.42 265.82H677.64V271.78H660.42ZM694.26 265.82H711.48V271.78H694.26ZM739.38 265.82H750.96V271.78H739.38ZM761.94 265.82H767.88V271.78H761.94ZM773.22 265.82H779.16V271.78H773.22ZM666.06 271.48H677.64V277.44H666.06ZM739.38 271.48H750.96V277.44H739.38ZM756.30 271.48H762.24V277.44H756.30ZM773.22 271.48H779.16V277.44H773.22ZM643.50 277.14H649.44V283.10H643.50ZM688.62 277.14H700.20V283.10H688.62ZM711.18 277.14H717.12V283.10H711.18ZM722.46 277.14H728.40V283.10H722.46ZM745.02 277.14H750.96V283.10H745.02ZM778.86 277.14H784.80V283.10H778.86ZM677.34 282.80H683.28V288.76H677.34ZM688.62 282.80H694.56V288.76H688.62ZM745.02 282.80H762.24V288.76H745.02ZM778.86 282.80H784.80V288.76H778.86ZM671.70 288.46H683.28V294.42H671.70ZM682.98 294.12H688.92V300.08H682.98ZM756.30 294.12H762.24V300.08H756.30ZM671.70 299.78H677.64V305.74H671.70ZM694.26 299.78H700.20V305.74H694.26ZM728.10 299.78H734.04V305.74H728.10ZM739.38 299.78H762.24V305.74H739.38ZM778.86 299.78H784.80V305.74H778.86ZM649.14 305.44H655.08V311.40H649.14ZM677.34 305.44H683.28V311.40H677.34ZM694.26 305.44H705.84V311.40H694.26ZM722.46 305.44H728.40V311.40H722.46ZM739.38 305.44H750.96V311.40H739.38ZM767.58 305.44H784.80V311.40H767.58ZM649.14 311.10H655.08V317.06H649.14ZM677.34 311.10H683.28V317.06H677.34ZM711.18 311.10H722.76V317.06H711.18ZM778.86 311.10H784.80V317.06H778.86ZM643.50 316.76H649.44V322.72H643.50ZM654.78 316.76H672.00V322.72H654.78ZM677.34 316.76H683.28V322.72H677.34ZM716.82 316.76H722.76V322.72H716.82ZM728.10 316.76H734.04V322.72H728.10ZM756.30 316.76H767.88V322.72H756.30ZM666.06 322.42H672.00V328.38H666.06ZM688.62 322.42H694.56V328.38H688.62ZM733.74 322.42H739.68V328.38H733.74ZM756.30 322.42H762.24V328.38H756.30ZM773.22 322.42H784.80V328.38H773.22ZM649.14 328.08H655.08V334.04H649.14ZM660.42 328.08H677.64V334.04H660.42ZM688.62 328.08H694.56V334.04H688.62ZM654.78 333.74H672.00V339.70H654.78ZM688.62 333.74H700.20V339.70H688.62ZM711.18 333.74H717.12V339.70H711.18ZM750.66 333.74H756.60V339.70H750.66ZM778.86 333.74H784.80V339.70H778.86ZM654.78 339.40H660.72V345.36H654.78ZM682.98 339.40H688.92V345.36H682.98ZM716.82 339.40H722.76V345.36H716.82ZM728.10 339.40H739.68V345.36H728.10ZM773.22 339.40H779.16V345.36H773.22ZM643.50 345.06H649.44V351.02H643.50ZM722.46 345.06H728.40V351.02H722.46ZM756.30 345.06H767.88V351.02H756.30ZM773.22 345.06H779.16V351.02H773.22ZM677.34 350.72H683.28V356.68H677.34ZM739.38 350.72H745.32V356.68H739.38ZM750.66 350.72H756.60V356.68H750.66ZM761.94 350.72H773.52V356.68H761.94ZM677.34 356.38H683.28V362.34H677.34ZM711.18 356.38H728.40V362.34H711.18ZM739.38 356.38H745.32V362.34H739.38ZM773.22 356.38H784.80V362.34H773.22ZM654.78 362.04H666.36V368.00H654.78ZM677.34 362.04H683.28V368.00H677.34ZM728.10 362.04H750.96V368.00H728.10ZM761.94 362.04H767.88V368.00H761.94ZM773.22 362.04H779.16V368.00H773.22Z"/>
<path fill="#44bf70" d="M643.50 226.20H649.44V232.16H643.50ZM660.42 226.20H666.36V232.16H660.42ZM682.98 226.20H688.92V232.16H682.98ZM716.82 226.20H722.76V232.16H716.82ZM733.74 226.20H745.32V232.16H733.74ZM750.66 226.20H756.60V232.16H750.66ZM643.50 231.86H649.44V237.82H643.50ZM654.78 231.86H666.36V237.82H654.78ZM722.46 231.86H728.40V237.82H722.46ZM733.74 231.86H739.68V237.82H733.74ZM671.70 237.52H677.64V243.48H671.70ZM694.26 237.52H700.20V243.48H694.26ZM733.74 237.52H739.68V243.48H733.74ZM677.34 243.18H683.28V249.14H677.34ZM688.62 243.18H694.56V249.14H688.62ZM733.74 243.18H739.68V249.14H733.74ZM750.66 243.18H756.60V249.14H750.66ZM778.86 243.18H784.80V249.14H778.86ZM682.98 248.84H688.92V254.80H682.98ZM778.86 248.84H784.80V254.80H778.86ZM643.50 254.50H649.44V260.46H643.50ZM671.70 254.50H677.64V260.46H671.70ZM682.98 254.50H688.92V260.46H682.98ZM773.22 254.50H779.16V260.46H773.22ZM666.06 260.16H677.64V266.12H666.06ZM688.62 260.16H694.56V266.12H688.62ZM705.54 260.16H711.48V266.12H705.54ZM739.38 260.16H745.32V266.12H739.38ZM643.50 265.82H655.08V271.78H643.50ZM688.62 265.82H694.56V271.78H688.62ZM767.58 265.82H773.52V271.78H767.58ZM778.86 265.82H784.80V271.78H778.86ZM688.62 271.48H705.84V277.44H688.62ZM761.94 271.48H767.88V277.44H761.94ZM671.70 277.14H677.64V283.10H671.70ZM739.38 277.14H745.32V283.10H739.38ZM761.94 277.14H773.52V283.10H761.94ZM739.38 282.80H745.32V288.76H739.38ZM654.78 288.46H660.72V294.42H654.78ZM666.06 288.46H672.00V294.42H666.06ZM682.98 288.46H688.92V294.42H682.98ZM739.38 288.46H750.96V294.42H739.38ZM649.14 294.12H655.08V300.08H649.14ZM739.38 294.12H745.32V300.08H739.38ZM733.74 299.78H739.68V305.74H733.74ZM682.98 305.44H688.92V311.40H682.98ZM761.94 305.44H767.88V311.40H761.94ZM671.70 311.10H677.64V317.06H671.70ZM682.98 311.10H688.92V317.06H682.98ZM694.26 311.10H700.20V317.06H694.26ZM705.54 311.10H711.48V317.06H705.54ZM677.34 322.42H683.28V328.38H677.34ZM711.18 322.42H722.76V328.38H711.18ZM728.10 322.42H734.04V328.38H728.10ZM767.58 322.42H773.52V328.38H767.58ZM643.50 328.08H649.44V334.04H643.50ZM677.34 328.08H688.92V334.04H677.34ZM711.18 328.08H722.76V334.04H711.18ZM728.10 328.08H739.68V334.04H728.10ZM761.94 328.08H773.52V334.04H761.94ZM643.50 333.74H649.44V339.70H643.50ZM728.10 333.74H734.04V339.70H728.10ZM761.94 333.74H767.88V339.70H761.94ZM660.42 339.40H666.36V345.36H660.42ZM699.90 339.40H705.84V345.36H699.90ZM761.94 339.40H767.88V345.36H761.94ZM649.14 345.06H655.08V351.02H649.14ZM699.90 345.06H705.84V351.02H699.90ZM750.66 345.06H756.60V351.02H750.66ZM745.02 350.72H750.96V356.68H745.02ZM666.06 356.38H677.64V362.34H666.06ZM682.98 356.38H688.92V362.34H682.98ZM733.74 356.38H739.68V362.34H733.74ZM745.02 356.38H750.96V362.34H745.02ZM666.06 362.04H677.64V368.00H666.06ZM716.82 362.04H722.76V368.00H716.82ZM778.86 362.04H784.80V368.00H778.86Z"/>
<path fill="#67cc5c" d="M649.14 226.20H660.72V232.16H649.14ZM688.62 226.20H700.20V232.16H688.62ZM722.46 226.20H728.40V232.16H722.46ZM756.30 226.20H762.24V232.16H756.30ZM649.14 231.86H655.08V237.82H649.14ZM682.98 231.86H694.56V237.82H682.98ZM699.90 231.86H705.84V237.82H699.90ZM728.10 231.86H734.04V237.82H728.10ZM739.38 231.86H756.60V237.82H739.38ZM778.86 231.86H784.80V237.82H778.86ZM654.78 237.52H660.72V243.48H654.78ZM705.54 237.52H711.48V243.48H705.54ZM716.82 237.52H722.76V243.48H716.82ZM750.66 237.52H756.60V243.48H750.66ZM682.98 243.18H688.92V249.14H682.98ZM694.26 243.18H700.20V249.14H694.26ZM705.54 243.18H722.76V249.14H705.54ZM739.38 243.18H750.96V249.14H739.38ZM767.58 243.18H773.52V249.14H767.58ZM643.50 248.84H649.44V254.80H643.50ZM660.42 248.84H672.00V254.80H660.42ZM699.90 248.84H711.48V254.80H699.90ZM722.46 248.84H728.40V254.80H722.46ZM745.02 248.84H750.96V254.80H745.02ZM756.30 248.84H762.24V254.80H756.30ZM773.22 248.84H779.16V254.80H773.22ZM654.78 254.50H666.36V260.46H654.78ZM705.54 254.50H722.76V260.46H705.54ZM733.74 254.50H750.96V260.46H733.74ZM761.94 254.50H773.52V260.46H761.94ZM677.34 260.16H683.28V266.12H677.34ZM711.18 260.16H739.68V266.12H711.18ZM677.34 265.82H683.28V271.78H677.34ZM711.18 265.82H739.68V271.78H711.18ZM750.66 265.82H756.60V271.78H750.66ZM649.14 271.48H655.08V277.44H649.14ZM677.34 271.48H683.28V277.44H677.34ZM705.54 271.48H739.68V277.44H705.54ZM767.58 271.48H773.52V277.44H767.58ZM778.86 271.48H784.80V277.44H778.86ZM649.14 277.14H660.72V283.10H649.14ZM666.06 277.14H672.00V283.10H666.06ZM677.34 277.14H688.92V283.10H677.34ZM699.90 277.14H711.48V283.10H699.90ZM728.10 277.14H734.04V283.10H728.10ZM750.66 277.14H762.24V283.10H750.66ZM654.78 282.80H660.72V288.76H654.78ZM671.70 282.80H677.64V288.76H671.70ZM682.98 282.80H688.92V288.76H682.98ZM694.26 282.80H700.20V288.76H694.26ZM716.82 282.80H728.40V288.76H716.82ZM773.22 282.80H779.16V288.76H773.22ZM688.62 288.46H700.20V294.42H688.62ZM722.46 288.46H739.68V294.42H722.46ZM750.66 288.46H756.60V294.42H750.66ZM767.58 288.46H773.52V294.42H767.58ZM643.50 294.12H649.44V300.08H643.50ZM654.78 294.12H672.00V300.08H654.78ZM688.62 294.12H694.56V300.08H688.62ZM722.46 294.12H739.68V300.08H722.46ZM745.02 294.12H750.96V300.08H745.02ZM761.94 294.12H773.52V300.08H761.94ZM643.50 299.78H655.08V305.74H643.50ZM660.42 299.78H672.00V305.74H660.42ZM688.62 299.78H694.56V305.74H688.62ZM722.46 299.78H728.40V305.74H722.46ZM761.94 299.78H773.52V305.74H761.94ZM671.70 305.44H677.64V311.40H671.70ZM688.62 305.44H694.56V311.40H688.62ZM705.54 305.44H722.76V311.40H705.54ZM756.30 305.44H762.24V311.40H756.30ZM654.78 311.10H672.00V317.06H654.78ZM699.90 311.10H705.84V317.06H699.90ZM756.30 311.10H767.88V317.06H756.30ZM773.22 311.10H779.16V317.06H773.22ZM649.14 316.76H655.08V322.72H649.14ZM682.98 316.76H688.92V322.72H682.98ZM694.26 316.76H717.12V322.72H694.26ZM773.22 316.76H784.80V322.72H773.22ZM643.50 322.42H649.44V328.38H643.50ZM682.98 322.42H688.92V328.38H682.98ZM761.94 322.42H767.88V328.38H761.94ZM649.14 333.74H655.08V339.70H649.14ZM671.70 333.74H677.64V339.70H671.70ZM682.98 333.74H688.92V339.70H682.98ZM716.82 333.74H728.40V339.70H716.82ZM643.50 339.40H649.44V345.36H643.50ZM666.06 339.40H672.00V345.36H666.06ZM677.34 339.40H683.28V345.36H677.34ZM688.62 339.40H700.20V345.36H688.62ZM722.46 339.40H728.40V345.36H722.46ZM745.02 339.40H750.96V345.36H745.02ZM778.86 339.40H784.80V345.36H778.86ZM688.62 345.06H694.56V351.02H688.62ZM778.86 345.06H784.80V351.02H778.86ZM643.50 350.72H655.08V356.68H643.50ZM660.42 350.72H666.36V356.68H660.42ZM688.62 350.72H694.56V356.68H688.62ZM649.14 356.38H666.36V362.34H649.14ZM688.62 356.38H694.56V362.34H688.62ZM705.54 356.38H711.48V362.34H705.54ZM728.10 356.38H734.04V362.34H728.10ZM643.50 362.04H655.08V368.00H643.50ZM694.26 362.04H700.20V368.00H694.26ZM711.18 362.04H717.12V368.00H711.18Z"/>
<path fill="#a8db34" d="M699.90 226.20H705.84V232.16H699.90ZM711.18 226.20H717.12V232.16H711.18ZM728.10 226.20H734.04V232.16H728.10ZM705.54 231.86H717.12V237.82H705.54ZM643.50 237.52H655.08V243.48H643.50ZM677.34 237.52H694.56V243.48H677.34ZM711.18 237.52H717.12V243.48H711.18ZM722.46 237.52H734.04V243.48H722.46ZM739.38 237.52H750.96V243.48H739.38ZM643.50 243.18H655.08V249.14H643.50ZM699.90 243.18H705.84V249.14H699.90ZM722.46 243.18H734.04V249.14H722.46ZM728.10 248.84H734.04V254.80H728.10ZM761.94 248.84H773.52V254.80H761.94ZM722.46 254.50H734.04V260.46H722.46ZM682.98 260.16H688.92V266.12H682.98ZM682.98 265.82H688.92V271.78H682.98ZM682.98 271.48H688.92V277.44H682.98ZM750.66 271.48H756.60V277.44H750.66ZM660.42 277.14H666.36V283.10H660.42ZM733.74 277.14H739.68V283.10H733.74ZM660.42 282.80H672.00V288.76H660.42ZM728.10 282.80H739.68V288.76H728.10ZM761.94 282.80H773.52V288.76H761.94ZM660.42 288.46H666.36V294.42H660.42ZM750.66 294.12H756.60V300.08H750.66ZM654.78 299.78H660.72V305.74H654.78ZM654.78 305.44H672.00V311.40H654.78ZM688.62 311.10H694.56V317.06H688.62ZM688.62 316.76H694.56V322.72H688.62ZM756.30 328.08H762.24V334.04H756.30ZM677.34 333.74H683.28V339.70H677.34ZM756.30 333.74H762.24V339.70H756.30ZM671.70 339.40H677.64V345.36H671.70ZM750.66 339.40H762.24V345.36H750.66ZM654.78 345.06H660.72V351.02H654.78ZM666.06 345.06H677.64V351.02H666.06ZM694.26 345.06H700.20V351.02H694.26ZM654.78 350.72H660.72V356.68H654.78ZM666.06 350.72H677.64V356.68H666.06ZM694.26 350.72H705.84V356.68H694.26ZM643.50 356.38H649.44V362.34H643.50ZM694.26 356.38H705.84V362.34H694.26ZM699.90 362.04H705.84V368.00H699.90Z"/>
<path fill="#f6e620" d="M705.54 226.20H711.48V232.16H705.54ZM643.50 271.48H649.44V277.44H643.50ZM699.90 282.80H717.12V288.76H699.90ZM699.90 288.46H722.76V294.42H699.90ZM694.26 294.12H722.76V300.08H694.26ZM699.90 299.78H722.76V305.74H699.90ZM660.42 345.06H666.36V351.02H660.42ZM705.54 362.04H711.48V368.00H705.54Z"/>
</g>
<path d="M646.50 368.50v-5.6M646.50 227.50v5.6M643.50 365.50h5.6M784.50 365.50h-5.6M674.50 368.50v-5.6M674.50 227.50v5.6M643.50 337.50h5.6M784.50 337.50h-5.6M702.50 368.50v-5.6M702.50 227.50v5.6M643.50 309.50h5.6M784.50 309.50h-5.6M731.50 368.50v-5.6M731.50 227.50v5.6M643.50 280.50h5.6M784.50 280.50h-5.6M759.50 368.50v-5.6M759.50 227.50v5.6M643.50 252.50h5.6M784.50 252.50h-5.6" stroke="#000" stroke-width="1" fill="none" shape-rendering="crispEdges"/>
<rect x="643.5" y="227.5" width="141.0" height="141.0" fill="none" stroke="#000" stroke-width="1.39"/>
<text x="646.20" y="387.90" font-size="17.00" text-anchor="middle" textLength="9.8" lengthAdjust="spacingAndGlyphs">0</text>
<text x="636.70" y="368.90" font-size="17.00" text-anchor="end" textLength="9.8" lengthAdjust="spacingAndGlyphs">0</text>
<text x="673.90" y="387.90" font-size="17.00" text-anchor="middle" textLength="9.8" lengthAdjust="spacingAndGlyphs">5</text>
<text x="636.70" y="340.90" font-size="17.00" text-anchor="end" textLength="9.8" lengthAdjust="spacingAndGlyphs">5</text>
<text x="703.30" y="387.90" font-size="17.00" text-anchor="middle" textLength="19.6" lengthAdjust="spacingAndGlyphs">10</text>
<text x="636.70" y="312.90" font-size="17.00" text-anchor="end" textLength="19.6" lengthAdjust="spacingAndGlyphs">10</text>
<text x="731.10" y="387.90" font-size="17.00" text-anchor="middle" textLength="19.6" lengthAdjust="spacingAndGlyphs">15</text>
<text x="636.70" y="283.90" font-size="17.00" text-anchor="end" textLength="19.6" lengthAdjust="spacingAndGlyphs">15</text>
<text x="758.80" y="387.90" font-size="17.00" text-anchor="middle" textLength="19.6" lengthAdjust="spacingAndGlyphs">20</text>
<text x="636.70" y="255.90" font-size="17.00" text-anchor="end" textLength="19.6" lengthAdjust="spacingAndGlyphs">20</text>
<text x="713.50" y="219.60" font-size="20.40" text-anchor="middle" textLength="60.5" lengthAdjust="spacingAndGlyphs">f160w</text>
<clipPath id="c192"><rect x="845.5" y="32.5" width="336.0" height="336.0"/></clipPath>
<g shape-rendering="crispEdges" clip-path="url(#c192)">
<path fill="#450457" d="M979.90 31.30H993.64V45.08H979.90ZM885.82 220.02H899.56V233.80H885.82ZM1114.30 273.94H1128.04V287.72H1114.30ZM1168.06 273.94H1181.80V287.72H1168.06ZM1033.66 327.86H1047.40V341.64H1033.66ZM1087.42 327.86H1101.16V341.64H1087.42ZM1168.06 354.82H1181.80V368.60H1168.06Z"/>
<path fill="#482878" d="M1060.54 44.78H1074.28V58.56H1060.54ZM899.26 314.38H913.00V328.16H899.26ZM939.58 354.82H953.32V368.60H939.58Z"/>
<path fill="#424086" d="M1100.86 44.78H1114.60V58.56H1100.86ZM1154.62 98.70H1168.36V112.48H1154.62ZM858.94 260.46H872.68V274.24H858.94ZM872.38 273.94H886.12V287.72H872.38ZM1154.62 341.34H1168.36V355.12H1154.62Z"/>
<path fill="#365d8d" d="M1087.42 112.18H1101.16V125.96H1087.42ZM1141.18 166.10H1154.92V179.88H1141.18ZM1047.10 193.06H1060.84V206.84H1047.10ZM1141.18 206.54H1154.92V220.32H1141.18ZM1087.42 220.02H1101.16V233.80H1087.42ZM1060.54 246.98H1074.28V260.76H1060.54ZM1168.06 287.42H1181.80V301.20H1168.06ZM858.94 327.86H872.68V341.64H858.94ZM899.26 327.86H913.00V341.64H899.26ZM926.14 354.82H939.88V368.60H926.14Z"/>
<path fill="#297a8e" d="M912.70 44.78H926.44V58.56H912.70ZM1073.98 44.78H1087.72V58.56H1073.98ZM1006.78 58.26H1020.52V72.04H1006.78ZM1114.30 58.26H1128.04V72.04H1114.30ZM993.34 71.74H1007.08V85.52H993.34ZM1141.18 71.74H1154.92V85.52H1141.18ZM966.46 98.70H980.20V112.48H966.46ZM1060.54 112.18H1074.28V125.96H1060.54ZM939.58 139.14H953.32V152.92H939.58ZM1127.74 152.62H1141.48V166.40H1127.74ZM858.94 179.58H872.68V193.36H858.94ZM1047.10 179.58H1060.84V193.36H1047.10ZM1154.62 179.58H1168.36V193.36H1154.62ZM899.26 193.06H913.00V206.84H899.26ZM885.82 206.54H899.56V220.32H885.82ZM1127.74 206.54H1141.48V220.32H1127.74ZM1127.74 246.98H1141.48V260.76H1127.74ZM926.14 260.46H953.32V274.24H926.14ZM1033.66 287.42H1047.40V301.20H1033.66ZM1114.30 287.42H1128.04V301.20H1114.30ZM1154.62 287.42H1168.36V301.20H1154.62ZM966.46 327.86H980.20V341.64H966.46ZM966.46 341.34H980.20V355.12H966.46Z"/>
<path fill="#1f958b" d="M858.94 31.30H872.68V45.08H858.94ZM993.34 31.30H1007.08V45.08H993.34ZM858.94 44.78H872.68V58.56H858.94ZM939.58 58.26H953.32V72.04H939.58ZM1006.78 71.74H1020.52V85.52H1006.78ZM1127.74 98.70H1141.48V112.48H1127.74ZM979.90 112.18H993.64V125.96H979.90ZM966.46 125.66H980.20V139.44H966.46ZM993.34 125.66H1020.52V139.44H993.34ZM872.38 193.06H886.12V206.84H872.38ZM1060.54 193.06H1074.28V206.84H1060.54ZM1141.18 193.06H1154.92V206.84H1141.18ZM872.38 206.54H886.12V220.32H872.38ZM953.02 206.54H966.76V220.32H953.02ZM1047.10 206.54H1060.84V220.32H1047.10ZM872.38 220.02H886.12V233.80H872.38ZM953.02 220.02H966.76V233.80H953.02ZM845.50 233.50H859.24V247.28H845.50ZM979.90 233.50H1007.08V247.28H979.90ZM1047.10 233.50H1060.84V247.28H1047.10ZM993.34 246.98H1007.08V260.76H993.34ZM1033.66 246.98H1047.40V260.76H1033.66ZM1154.62 246.98H1168.36V260.76H1154.62ZM885.82 260.46H899.56V274.24H885.82ZM1033.66 260.46H1047.40V274.24H1033.66ZM1020.22 273.94H1033.96V287.72H1020.22ZM845.50 287.42H859.24V301.20H845.50ZM885.82 287.42H899.56V301.20H885.82ZM912.70 287.42H926.44V301.20H912.70ZM1006.78 287.42H1020.52V301.20H1006.78ZM1087.42 287.42H1101.16V301.20H1087.42ZM845.50 300.90H859.24V314.68H845.50ZM1073.98 300.90H1087.72V314.68H1073.98ZM1114.30 300.90H1128.04V314.68H1114.30ZM1020.22 314.38H1033.96V328.16H1020.22ZM1020.22 327.86H1033.96V341.64H1020.22ZM1114.30 327.86H1128.04V341.64H1114.30ZM1168.06 327.86H1181.80V341.64H1168.06ZM939.58 341.34H953.32V355.12H939.58Z"/>
<path fill="#25ac82" d="M845.50 31.30H859.24V45.08H845.50ZM912.70 31.30H926.44V45.08H912.70ZM1141.18 31.30H1154.92V45.08H1141.18ZM1020.22 44.78H1033.96V58.56H1020.22ZM1141.18 44.78H1168.36V58.56H1141.18ZM1020.22 58.26H1047.40V72.04H1020.22ZM1073.98 58.26H1087.72V72.04H1073.98ZM912.70 71.74H926.44V85.52H912.70ZM1100.86 71.74H1114.60V85.52H1100.86ZM1168.06 71.74H1181.80V85.52H1168.06ZM872.38 85.22H886.12V99.00H872.38ZM912.70 85.22H926.44V99.00H912.70ZM1060.54 85.22H1074.28V99.00H1060.54ZM1033.66 112.18H1060.84V125.96H1033.66ZM1033.66 125.66H1047.40V139.44H1033.66ZM1060.54 139.14H1074.28V152.92H1060.54ZM858.94 152.62H872.68V166.40H858.94ZM912.70 152.62H926.44V166.40H912.70ZM939.58 152.62H953.32V166.40H939.58ZM979.90 152.62H993.64V166.40H979.90ZM1073.98 166.10H1087.72V179.88H1073.98ZM845.50 179.58H859.24V193.36H845.50ZM926.14 193.06H939.88V206.84H926.14ZM1033.66 193.06H1047.40V206.84H1033.66ZM1087.42 193.06H1101.16V206.84H1087.42ZM912.70 206.54H926.44V220.32H912.70ZM1087.42 206.54H1101.16V220.32H1087.42ZM926.14 220.02H939.88V233.80H926.14ZM993.34 220.02H1007.08V233.80H993.34ZM1141.18 220.02H1154.92V233.80H1141.18ZM926.14 233.50H939.88V247.28H926.14ZM1073.98 233.50H1087.72V247.28H1073.98ZM872.38 246.98H886.12V260.76H872.38ZM953.02 246.98H966.76V260.76H953.02ZM872.38 260.46H886.12V274.24H872.38ZM953.02 260.46H966.76V274.24H953.02ZM885.82 273.94H899.56V287.72H885.82ZM1127.74 273.94H1141.48V287.72H1127.74ZM1073.98 287.42H1087.72V301.20H1073.98ZM926.14 300.90H966.76V314.68H926.14ZM1033.66 300.90H1047.40V314.68H1033.66ZM1154.62 300.90H1168.36V314.68H1154.62ZM885.82 314.38H899.56V328.16H885.82ZM939.58 314.38H953.32V328.16H939.58ZM1100.86 314.38H1114.60V328.16H1100.86ZM1154.62 314.38H1168.36V328.16H1154.62ZM872.38 327.86H899.56V341.64H872.38ZM939.58 327.86H953.32V341.64H939.58ZM1047.10 327.86H1074.28V341.64H1047.10ZM1100.86 327.86H1114.60V341.64H1100.86ZM926.14 341.34H939.88V355.12H926.14ZM993.34 341.34H1007.08V355.12H993.34ZM1087.42 341.34H1101.16V355.12H1087.42ZM899.26 354.82H913.00V368.60H899.26ZM1114.30 354.82H1141.48V368.60H1114.30Z"/>
<path fill="#44bf70" d="M885.82 31.30H913.00V45.08H885.82ZM926.14 31.30H953.32V45.08H926.14ZM1047.10 31.30H1060.84V45.08H1047.10ZM1087.42 31.30H1101.16V45.08H1087.42ZM845.50 44.78H859.24V58.56H845.50ZM939.58 44.78H966.76V58.56H939.58ZM1087.42 44.78H1101.16V58.56H1087.42ZM1127.74 44.78H1141.48V58.56H1127.74ZM845.50 58.26H859.24V72.04H845.50ZM885.82 58.26H899.56V72.04H885.82ZM966.46 58.26H993.64V72.04H966.46ZM1087.42 58.26H1101.16V72.04H1087.42ZM1127.74 58.26H1154.92V72.04H1127.74ZM1168.06 58.26H1181.80V72.04H1168.06ZM872.38 71.74H886.12V85.52H872.38ZM899.26 71.74H913.00V85.52H899.26ZM926.14 71.74H939.88V85.52H926.14ZM966.46 71.74H993.64V85.52H966.46ZM926.14 85.22H939.88V99.00H926.14ZM979.90 85.22H1007.08V99.00H979.90ZM1033.66 85.22H1047.40V99.00H1033.66ZM1154.62 85.22H1181.80V99.00H1154.62ZM885.82 98.70H899.56V112.48H885.82ZM912.70 98.70H926.44V112.48H912.70ZM1033.66 98.70H1060.84V112.48H1033.66ZM1114.30 98.70H1128.04V112.48H1114.30ZM1141.18 98.70H1154.92V112.48H1141.18ZM953.02 112.18H966.76V125.96H953.02ZM993.34 112.18H1007.08V125.96H993.34ZM1127.74 112.18H1141.48V125.96H1127.74ZM1154.62 112.18H1181.80V125.96H1154.62ZM939.58 125.66H953.32V139.44H939.58ZM979.90 125.66H993.64V139.44H979.90ZM1114.30 125.66H1128.04V139.44H1114.30ZM845.50 139.14H859.24V152.92H845.50ZM872.38 139.14H886.12V152.92H872.38ZM1114.30 139.14H1141.48V152.92H1114.30ZM1168.06 139.14H1181.80V152.92H1168.06ZM845.50 152.62H859.24V166.40H845.50ZM1020.22 152.62H1033.96V166.40H1020.22ZM1141.18 152.62H1168.36V166.40H1141.18ZM845.50 166.10H872.68V179.88H845.50ZM1006.78 166.10H1047.40V179.88H1006.78ZM1168.06 166.10H1181.80V179.88H1168.06ZM885.82 179.58H899.56V193.36H885.82ZM912.70 179.58H926.44V193.36H912.70ZM966.46 179.58H980.20V193.36H966.46ZM1073.98 179.58H1087.72V193.36H1073.98ZM885.82 193.06H899.56V206.84H885.82ZM1154.62 193.06H1168.36V206.84H1154.62ZM899.26 206.54H913.00V220.32H899.26ZM1020.22 206.54H1047.40V220.32H1020.22ZM1100.86 206.54H1114.60V220.32H1100.86ZM845.50 220.02H859.24V233.80H845.50ZM939.58 220.02H953.32V233.80H939.58ZM1047.10 220.02H1060.84V233.80H1047.10ZM1127.74 220.02H1141.48V233.80H1127.74ZM899.26 233.50H926.44V247.28H899.26ZM1060.54 233.50H1074.28V247.28H1060.54ZM1127.74 233.50H1141.48V247.28H1127.74ZM845.50 246.98H872.68V260.76H845.50ZM885.82 246.98H899.56V260.76H885.82ZM926.14 246.98H953.32V260.76H926.14ZM1114.30 246.98H1128.04V260.76H1114.30ZM1168.06 246.98H1181.80V260.76H1168.06ZM912.70 260.46H926.44V274.24H912.70ZM966.46 260.46H980.20V274.24H966.46ZM1087.42 260.46H1101.16V274.24H1087.42ZM858.94 273.94H872.68V287.72H858.94ZM899.26 273.94H966.76V287.72H899.26ZM979.90 273.94H993.64V287.72H979.90ZM1006.78 273.94H1020.52V287.72H1006.78ZM1141.18 273.94H1154.92V287.72H1141.18ZM926.14 287.42H939.88V301.20H926.14ZM993.34 287.42H1007.08V301.20H993.34ZM1100.86 287.42H1114.60V301.20H1100.86ZM1127.74 287.42H1141.48V301.20H1127.74ZM858.94 300.90H899.56V314.68H858.94ZM912.70 300.90H926.44V314.68H912.70ZM966.46 300.90H980.20V314.68H966.46ZM1168.06 300.90H1181.80V314.68H1168.06ZM872.38 314.38H886.12V328.16H872.38ZM1006.78 314.38H1020.52V328.16H1006.78ZM1033.66 314.38H1047.40V328.16H1033.66ZM845.50 327.86H859.24V341.64H845.50ZM953.02 327.86H966.76V341.64H953.02ZM1073.98 327.86H1087.72V341.64H1073.98ZM858.94 341.34H886.12V355.12H858.94ZM953.02 341.34H966.76V355.12H953.02ZM1060.54 341.34H1074.28V355.12H1060.54ZM1100.86 341.34H1114.60V355.12H1100.86ZM1168.06 341.34H1181.80V355.12H1168.06ZM845.50 354.82H859.24V368.60H845.50ZM885.82 354.82H899.56V368.60H885.82ZM912.70 354.82H926.44V368.60H912.70ZM953.02 354.82H966.76V368.60H953.02Z"/>
<path fill="#75d054" d="M872.38 31.30H886.12V45.08H872.38ZM1114.30 31.30H1128.04V45.08H1114.30ZM1154.62 31.30H1181.80V45.08H1154.62ZM885.82 44.78H913.00V58.56H885.82ZM979.90 44.78H993.64V58.56H979.90ZM1006.78 44.78H1020.52V58.56H1006.78ZM1033.66 44.78H1060.84V58.56H1033.66ZM1114.30 44.78H1128.04V58.56H1114.30ZM1168.06 44.78H1181.80V58.56H1168.06ZM858.94 58.26H886.12V72.04H858.94ZM899.26 58.26H913.00V72.04H899.26ZM953.02 58.26H966.76V72.04H953.02ZM993.34 58.26H1007.08V72.04H993.34ZM1060.54 58.26H1074.28V72.04H1060.54ZM1100.86 58.26H1114.60V72.04H1100.86ZM858.94 71.74H872.68V85.52H858.94ZM885.82 71.74H899.56V85.52H885.82ZM953.02 71.74H966.76V85.52H953.02ZM1020.22 71.74H1033.96V85.52H1020.22ZM1060.54 71.74H1074.28V85.52H1060.54ZM1114.30 71.74H1141.48V85.52H1114.30ZM858.94 85.22H872.68V99.00H858.94ZM885.82 85.22H913.00V99.00H885.82ZM939.58 85.22H953.32V99.00H939.58ZM1006.78 85.22H1020.52V99.00H1006.78ZM1047.10 85.22H1060.84V99.00H1047.10ZM1073.98 85.22H1087.72V99.00H1073.98ZM1100.86 85.22H1154.92V99.00H1100.86ZM845.50 98.70H859.24V112.48H845.50ZM872.38 98.70H886.12V112.48H872.38ZM926.14 98.70H966.76V112.48H926.14ZM1006.78 98.70H1020.52V112.48H1006.78ZM1100.86 98.70H1114.60V112.48H1100.86ZM1168.06 98.70H1181.80V112.48H1168.06ZM858.94 112.18H886.12V125.96H858.94ZM899.26 112.18H926.44V125.96H899.26ZM939.58 112.18H953.32V125.96H939.58ZM966.46 112.18H980.20V125.96H966.46ZM1006.78 112.18H1020.52V125.96H1006.78ZM1100.86 112.18H1128.04V125.96H1100.86ZM872.38 125.66H886.12V139.44H872.38ZM912.70 125.66H926.44V139.44H912.70ZM1127.74 125.66H1154.92V139.44H1127.74ZM1168.06 125.66H1181.80V139.44H1168.06ZM858.94 139.14H872.68V152.92H858.94ZM885.82 139.14H913.00V152.92H885.82ZM953.02 139.14H966.76V152.92H953.02ZM979.90 139.14H1020.52V152.92H979.90ZM1073.98 139.14H1087.72V152.92H1073.98ZM1100.86 139.14H1114.60V152.92H1100.86ZM1141.18 139.14H1154.92V152.92H1141.18ZM885.82 152.62H899.56V166.40H885.82ZM953.02 152.62H980.20V166.40H953.02ZM993.34 152.62H1020.52V166.40H993.34ZM1047.10 152.62H1060.84V166.40H1047.10ZM1073.98 152.62H1087.72V166.40H1073.98ZM1100.86 152.62H1128.04V166.40H1100.86ZM1168.06 152.62H1181.80V166.40H1168.06ZM899.26 166.10H953.32V179.88H899.26ZM966.46 166.10H1007.08V179.88H966.46ZM1047.10 166.10H1060.84V179.88H1047.10ZM1087.42 166.10H1101.16V179.88H1087.42ZM1114.30 166.10H1128.04V179.88H1114.30ZM872.38 179.58H886.12V193.36H872.38ZM899.26 179.58H913.00V193.36H899.26ZM926.14 179.58H939.88V193.36H926.14ZM1033.66 179.58H1047.40V193.36H1033.66ZM1060.54 179.58H1074.28V193.36H1060.54ZM1087.42 179.58H1154.92V193.36H1087.42ZM1168.06 179.58H1181.80V193.36H1168.06ZM845.50 193.06H872.68V206.84H845.50ZM939.58 193.06H966.76V206.84H939.58ZM1020.22 193.06H1033.96V206.84H1020.22ZM1073.98 193.06H1087.72V206.84H1073.98ZM1100.86 193.06H1141.48V206.84H1100.86ZM1168.06 193.06H1181.80V206.84H1168.06ZM926.14 206.54H953.32V220.32H926.14ZM966.46 206.54H993.64V220.32H966.46ZM1073.98 206.54H1087.72V220.32H1073.98ZM1114.30 206.54H1128.04V220.32H1114.30ZM1168.06 206.54H1181.80V220.32H1168.06ZM899.26 220.02H926.44V233.80H899.26ZM1020.22 220.02H1033.96V233.80H1020.22ZM1060.54 220.02H1087.72V233.80H1060.54ZM1100.86 220.02H1114.60V233.80H1100.86ZM1168.06 220.02H1181.80V233.80H1168.06ZM858.94 233.50H899.56V247.28H858.94ZM939.58 233.50H953.32V247.28H939.58ZM1006.78 233.50H1047.40V247.28H1006.78ZM1087.42 233.50H1101.16V247.28H1087.42ZM1141.18 233.50H1154.92V247.28H1141.18ZM1168.06 233.50H1181.80V247.28H1168.06ZM912.70 246.98H926.44V260.76H912.70ZM966.46 246.98H993.64V260.76H966.46ZM1047.10 246.98H1060.84V260.76H1047.10ZM1141.18 246.98H1154.92V260.76H1141.18ZM979.90 260.46H1033.96V274.24H979.90ZM1060.54 260.46H1074.28V274.24H1060.54ZM1114.30 260.46H1141.48V274.24H1114.30ZM1168.06 260.46H1181.80V274.24H1168.06ZM1033.66 273.94H1047.40V287.72H1033.66ZM1073.98 273.94H1087.72V287.72H1073.98ZM858.94 287.42H886.12V301.20H858.94ZM899.26 287.42H913.00V301.20H899.26ZM953.02 287.42H966.76V301.20H953.02ZM979.90 287.42H993.64V301.20H979.90ZM1060.54 287.42H1074.28V301.20H1060.54ZM899.26 300.90H913.00V314.68H899.26ZM979.90 300.90H1007.08V314.68H979.90ZM1047.10 300.90H1074.28V314.68H1047.10ZM1087.42 300.90H1114.60V314.68H1087.42ZM845.50 314.38H859.24V328.16H845.50ZM912.70 314.38H926.44V328.16H912.70ZM953.02 314.38H980.20V328.16H953.02ZM993.34 314.38H1007.08V328.16H993.34ZM1060.54 314.38H1074.28V328.16H1060.54ZM1087.42 314.38H1101.16V328.16H1087.42ZM1114.30 314.38H1128.04V328.16H1114.30ZM1168.06 314.38H1181.80V328.16H1168.06ZM993.34 327.86H1020.52V341.64H993.34ZM1127.74 327.86H1141.48V341.64H1127.74ZM1154.62 327.86H1168.36V341.64H1154.62ZM912.70 341.34H926.44V355.12H912.70ZM979.90 341.34H993.64V355.12H979.90ZM1020.22 341.34H1033.96V355.12H1020.22ZM1073.98 341.34H1087.72V355.12H1073.98ZM1114.30 341.34H1141.48V355.12H1114.30ZM858.94 354.82H872.68V368.60H858.94ZM966.46 354.82H993.64V368.60H966.46ZM1006.78 354.82H1020.52V368.60H1006.78ZM1060.54 354.82H1087.72V368.60H1060.54ZM1154.62 354.82H1168.36V368.60H1154.62Z"/>
<path fill="#b0dd2f" d="M1006.78 31.30H1047.40V45.08H1006.78ZM1100.86 31.30H1114.60V45.08H1100.86ZM1127.74 31.30H1141.48V45.08H1127.74ZM872.38 44.78H886.12V58.56H872.38ZM926.14 44.78H939.88V58.56H926.14ZM966.46 44.78H980.20V58.56H966.46ZM993.34 44.78H1007.08V58.56H993.34ZM912.70 58.26H939.88V72.04H912.70ZM845.50 71.74H859.24V85.52H845.50ZM939.58 71.74H953.32V85.52H939.58ZM1033.66 71.74H1060.84V85.52H1033.66ZM1073.98 71.74H1101.16V85.52H1073.98ZM845.50 85.22H859.24V99.00H845.50ZM966.46 85.22H980.20V99.00H966.46ZM1020.22 85.22H1033.96V99.00H1020.22ZM1087.42 85.22H1101.16V99.00H1087.42ZM858.94 98.70H872.68V112.48H858.94ZM899.26 98.70H913.00V112.48H899.26ZM979.90 98.70H993.64V112.48H979.90ZM1020.22 98.70H1033.96V112.48H1020.22ZM1060.54 98.70H1087.72V112.48H1060.54ZM845.50 112.18H859.24V125.96H845.50ZM885.82 112.18H899.56V125.96H885.82ZM1020.22 112.18H1033.96V125.96H1020.22ZM1141.18 112.18H1154.92V125.96H1141.18ZM845.50 125.66H872.68V139.44H845.50ZM899.26 125.66H913.00V139.44H899.26ZM926.14 125.66H939.88V139.44H926.14ZM953.02 125.66H966.76V139.44H953.02ZM1047.10 125.66H1074.28V139.44H1047.10ZM1087.42 125.66H1114.60V139.44H1087.42ZM1154.62 125.66H1168.36V139.44H1154.62ZM912.70 139.14H939.88V152.92H912.70ZM966.46 139.14H980.20V152.92H966.46ZM1020.22 139.14H1033.96V152.92H1020.22ZM1087.42 139.14H1101.16V152.92H1087.42ZM1154.62 139.14H1168.36V152.92H1154.62ZM872.38 152.62H886.12V166.40H872.38ZM899.26 152.62H913.00V166.40H899.26ZM926.14 152.62H939.88V166.40H926.14ZM885.82 166.10H899.56V179.88H885.82ZM953.02 166.10H966.76V179.88H953.02ZM1060.54 166.10H1074.28V179.88H1060.54ZM1100.86 166.10H1114.60V179.88H1100.86ZM1127.74 166.10H1141.48V179.88H1127.74ZM1154.62 166.10H1168.36V179.88H1154.62ZM939.58 179.58H966.76V193.36H939.58ZM979.90 179.58H993.64V193.36H979.90ZM1020.22 179.58H1033.96V193.36H1020.22ZM912.70 193.06H926.44V206.84H912.70ZM966.46 193.06H1007.08V206.84H966.46ZM858.94 206.54H872.68V220.32H858.94ZM993.34 206.54H1020.52V220.32H993.34ZM1060.54 206.54H1074.28V220.32H1060.54ZM1154.62 206.54H1168.36V220.32H1154.62ZM858.94 220.02H872.68V233.80H858.94ZM966.46 220.02H993.64V233.80H966.46ZM1006.78 220.02H1020.52V233.80H1006.78ZM1033.66 220.02H1047.40V233.80H1033.66ZM953.02 233.50H980.20V247.28H953.02ZM1100.86 233.50H1128.04V247.28H1100.86ZM1154.62 233.50H1168.36V247.28H1154.62ZM1006.78 246.98H1020.52V260.76H1006.78ZM1073.98 246.98H1101.16V260.76H1073.98ZM845.50 260.46H859.24V274.24H845.50ZM1047.10 260.46H1060.84V274.24H1047.10ZM1100.86 260.46H1114.60V274.24H1100.86ZM1141.18 260.46H1168.36V274.24H1141.18ZM845.50 273.94H859.24V287.72H845.50ZM966.46 273.94H980.20V287.72H966.46ZM993.34 273.94H1007.08V287.72H993.34ZM1087.42 273.94H1114.60V287.72H1087.42ZM1154.62 273.94H1168.36V287.72H1154.62ZM939.58 287.42H953.32V301.20H939.58ZM966.46 287.42H980.20V301.20H966.46ZM1020.22 287.42H1033.96V301.20H1020.22ZM1047.10 287.42H1060.84V301.20H1047.10ZM1006.78 300.90H1033.96V314.68H1006.78ZM1127.74 300.90H1141.48V314.68H1127.74ZM858.94 314.38H872.68V328.16H858.94ZM926.14 314.38H939.88V328.16H926.14ZM979.90 314.38H993.64V328.16H979.90ZM1047.10 314.38H1060.84V328.16H1047.10ZM1073.98 314.38H1087.72V328.16H1073.98ZM1127.74 314.38H1154.92V328.16H1127.74ZM912.70 327.86H939.88V341.64H912.70ZM1141.18 327.86H1154.92V341.64H1141.18ZM845.50 341.34H859.24V355.12H845.50ZM899.26 341.34H913.00V355.12H899.26ZM1033.66 341.34H1060.84V355.12H1033.66ZM1141.18 341.34H1154.92V355.12H1141.18ZM872.38 354.82H886.12V368.60H872.38ZM993.34 354.82H1007.08V368.60H993.34ZM1047.10 354.82H1060.84V368.60H1047.10ZM1087.42 354.82H1114.60V368.60H1087.42ZM1141.18 354.82H1154.92V368.60H1141.18Z"/>
<path fill="#efe51c" d="M953.02 31.30H980.20V45.08H953.02ZM1060.54 31.30H1087.72V45.08H1060.54ZM1047.10 58.26H1060.84V72.04H1047.10ZM1154.62 58.26H1168.36V72.04H1154.62ZM1154.62 71.74H1168.36V85.52H1154.62ZM953.02 85.22H966.76V99.00H953.02ZM993.34 98.70H1007.08V112.48H993.34ZM1087.42 98.70H1101.16V112.48H1087.42ZM926.14 112.18H939.88V125.96H926.14ZM1073.98 112.18H1087.72V125.96H1073.98ZM885.82 125.66H899.56V139.44H885.82ZM1020.22 125.66H1033.96V139.44H1020.22ZM1073.98 125.66H1087.72V139.44H1073.98ZM1033.66 139.14H1060.84V152.92H1033.66ZM1033.66 152.62H1047.40V166.40H1033.66ZM1060.54 152.62H1074.28V166.40H1060.54ZM1087.42 152.62H1101.16V166.40H1087.42ZM872.38 166.10H886.12V179.88H872.38ZM993.34 179.58H1020.52V193.36H993.34ZM1006.78 193.06H1020.52V206.84H1006.78ZM845.50 206.54H859.24V220.32H845.50ZM1114.30 220.02H1128.04V233.80H1114.30ZM1154.62 220.02H1168.36V233.80H1154.62ZM899.26 246.98H913.00V260.76H899.26ZM1020.22 246.98H1033.96V260.76H1020.22ZM1100.86 246.98H1114.60V260.76H1100.86ZM899.26 260.46H913.00V274.24H899.26ZM1073.98 260.46H1087.72V274.24H1073.98ZM1047.10 273.94H1074.28V287.72H1047.10ZM1141.18 287.42H1154.92V301.20H1141.18ZM1141.18 300.90H1154.92V314.68H1141.18ZM979.90 327.86H993.64V341.64H979.90ZM885.82 341.34H899.56V355.12H885.82ZM1006.78 341.34H1020.52V355.12H1006.78ZM1020.22 354.82H1047.40V368.60H1020.22Z"/>
</g>
<path d="M851.50 368.50v-5.6M851.50 32.50v5.6M845.50 362.50h5.6M1181.50 362.50h-5.6M919.50 368.50v-5.6M919.50 32.50v5.6M845.50 295.50h5.6M1181.50 295.50h-5.6M986.50 368.50v-5.6M986.50 32.50v5.6M845.50 227.50h5.6M1181.50 227.50h-5.6M1053.50 368.50v-5.6M1053.50 32.50v5.6M845.50 160.50h5.6M1181.50 160.50h-5.6M1120.50 368.50v-5.6M1120.50 32.50v5.6M845.50 92.50h5.6M1181.50 92.50h-5.6" stroke="#000" stroke-width="1" fill="none" shape-rendering="crispEdges"/>
<rect x="845.5" y="32.5" width="336.0" height="336.0" fill="none" stroke="#000" stroke-width="1.39"/>
<text x="851.82" y="387.90" font-size="17.00" text-anchor="middle" textLength="9.8" lengthAdjust="spacingAndGlyphs">0</text>
<text x="837.90" y="365.90" font-size="17.00" text-anchor="end" textLength="9.8" lengthAdjust="spacingAndGlyphs">0</text>
<text x="919.02" y="387.90" font-size="17.00" text-anchor="middle" textLength="9.8" lengthAdjust="spacingAndGlyphs">5</text>
<text x="837.90" y="298.90" font-size="17.00" text-anchor="end" textLength="9.8" lengthAdjust="spacingAndGlyphs">5</text>
<text x="986.22" y="387.90" font-size="17.00" text-anchor="middle" textLength="19.6" lengthAdjust="spacingAndGlyphs">10</text>
<text x="837.90" y="230.90" font-size="17.00" text-anchor="end" textLength="19.6" lengthAdjust="spacingAndGlyphs">10</text>
<text x="1053.42" y="387.90" font-size="17.00" text-anchor="middle" textLength="19.6" lengthAdjust="spacingAndGlyphs">15</text>
<text x="837.90" y="163.90" font-size="17.00" text-anchor="end" textLength="19.6" lengthAdjust="spacingAndGlyphs">15</text>
<text x="1120.62" y="387.90" font-size="17.00" text-anchor="middle" textLength="19.6" lengthAdjust="spacingAndGlyphs">20</text>
<text x="837.90" y="95.90" font-size="17.00" text-anchor="end" textLength="19.6" lengthAdjust="spacingAndGlyphs">20</text>
<text x="1013.00" y="24.60" font-size="20.40" text-anchor="middle" textLength="97.0" lengthAdjust="spacingAndGlyphs">ACS Total</text>
<clipPath id="c219"><rect x="1244.5" y="32.5" width="336.0" height="336.0"/></clipPath>
<g shape-rendering="crispEdges" clip-path="url(#c219)">
<path fill="#450457" d="M1553.62 152.62H1567.36V166.40H1553.62ZM1553.62 179.58H1567.36V193.36H1553.62ZM1459.54 220.02H1473.28V233.80H1459.54ZM1472.98 233.50H1500.16V247.28H1472.98ZM1472.98 246.98H1500.16V260.76H1472.98ZM1446.10 314.38H1459.84V328.16H1446.10ZM1446.10 327.86H1459.84V341.64H1446.10Z"/>
<path fill="#482878" d="M1499.86 112.18H1513.60V125.96H1499.86ZM1472.98 220.02H1486.72V233.80H1472.98ZM1352.02 273.94H1365.76V287.72H1352.02ZM1352.02 287.42H1365.76V301.20H1352.02ZM1472.98 327.86H1486.72V341.64H1472.98Z"/>
<path fill="#424086" d="M1311.70 31.30H1325.44V45.08H1311.70ZM1567.06 179.58H1580.80V193.36H1567.06ZM1244.50 220.02H1258.24V233.80H1244.50ZM1459.54 233.50H1473.28V247.28H1459.54ZM1432.66 260.46H1446.40V274.24H1432.66ZM1271.38 273.94H1285.12V287.72H1271.38ZM1459.54 314.38H1473.28V328.16H1459.54ZM1486.42 327.86H1500.16V341.64H1486.42ZM1499.86 341.34H1513.60V355.12H1499.86Z"/>
<path fill="#365d8d" d="M1298.26 44.78H1312.00V58.56H1298.26ZM1567.06 98.70H1580.80V112.48H1567.06ZM1486.42 125.66H1513.60V139.44H1486.42ZM1540.18 152.62H1553.92V166.40H1540.18ZM1244.50 166.10H1258.24V179.88H1244.50ZM1553.62 166.10H1567.36V179.88H1553.62ZM1553.62 193.06H1580.80V206.84H1553.62ZM1499.86 233.50H1513.60V247.28H1499.86ZM1499.86 246.98H1513.60V260.76H1499.86ZM1271.38 260.46H1285.12V274.24H1271.38ZM1311.70 260.46H1325.44V274.24H1311.70ZM1472.98 260.46H1500.16V274.24H1472.98ZM1298.26 273.94H1312.00V287.72H1298.26ZM1392.34 300.90H1406.08V314.68H1392.34ZM1405.78 314.38H1419.52V328.16H1405.78ZM1472.98 314.38H1486.72V328.16H1472.98ZM1432.66 327.86H1446.40V341.64H1432.66ZM1459.54 327.86H1473.28V341.64H1459.54ZM1513.30 341.34H1527.04V355.12H1513.30ZM1472.98 354.82H1486.72V368.60H1472.98ZM1540.18 354.82H1553.92V368.60H1540.18Z"/>
<path fill="#297a8e" d="M1311.70 44.78H1325.44V58.56H1311.70ZM1284.82 58.26H1312.00V72.04H1284.82ZM1325.14 58.26H1338.88V72.04H1325.14ZM1526.74 58.26H1540.48V72.04H1526.74ZM1352.02 85.22H1379.20V99.00H1352.02ZM1567.06 85.22H1580.80V99.00H1567.06ZM1499.86 98.70H1513.60V112.48H1499.86ZM1378.90 112.18H1392.64V125.96H1378.90ZM1472.98 125.66H1486.72V139.44H1472.98ZM1513.30 125.66H1527.04V139.44H1513.30ZM1553.62 125.66H1567.36V139.44H1553.62ZM1311.70 139.14H1325.44V152.92H1311.70ZM1486.42 139.14H1500.16V152.92H1486.42ZM1553.62 139.14H1567.36V152.92H1553.62ZM1311.70 152.62H1325.44V166.40H1311.70ZM1419.22 152.62H1432.96V166.40H1419.22ZM1567.06 152.62H1580.80V166.40H1567.06ZM1540.18 166.10H1553.92V179.88H1540.18ZM1567.06 166.10H1580.80V179.88H1567.06ZM1244.50 179.58H1258.24V193.36H1244.50ZM1526.74 179.58H1553.92V193.36H1526.74ZM1338.58 206.54H1352.32V220.32H1338.58ZM1446.10 220.02H1459.84V233.80H1446.10ZM1540.18 220.02H1567.36V233.80H1540.18ZM1244.50 233.50H1258.24V247.28H1244.50ZM1540.18 233.50H1553.92V247.28H1540.18ZM1459.54 246.98H1473.28V260.76H1459.54ZM1257.94 260.46H1271.68V274.24H1257.94ZM1298.26 260.46H1312.00V274.24H1298.26ZM1325.14 260.46H1338.88V274.24H1325.14ZM1459.54 260.46H1473.28V274.24H1459.54ZM1284.82 273.94H1298.56V287.72H1284.82ZM1338.58 273.94H1352.32V287.72H1338.58ZM1365.46 273.94H1379.20V287.72H1365.46ZM1298.26 287.42H1312.00V301.20H1298.26ZM1392.34 287.42H1406.08V301.20H1392.34ZM1567.06 287.42H1580.80V301.20H1567.06ZM1405.78 300.90H1419.52V314.68H1405.78ZM1446.10 300.90H1459.84V314.68H1446.10ZM1526.74 300.90H1580.80V314.68H1526.74ZM1432.66 314.38H1446.40V328.16H1432.66ZM1419.22 327.86H1432.96V341.64H1419.22ZM1513.30 327.86H1527.04V341.64H1513.30ZM1472.98 341.34H1500.16V355.12H1472.98ZM1526.74 341.34H1553.92V355.12H1526.74ZM1298.26 354.82H1312.00V368.60H1298.26ZM1338.58 354.82H1352.32V368.60H1338.58ZM1459.54 354.82H1473.28V368.60H1459.54ZM1526.74 354.82H1540.48V368.60H1526.74Z"/>
<path fill="#1f958b" d="M1298.26 31.30H1312.00V45.08H1298.26ZM1325.14 31.30H1338.88V45.08H1325.14ZM1540.18 31.30H1553.92V45.08H1540.18ZM1284.82 44.78H1298.56V58.56H1284.82ZM1325.14 44.78H1338.88V58.56H1325.14ZM1338.58 58.26H1352.32V72.04H1338.58ZM1459.54 58.26H1473.28V72.04H1459.54ZM1271.38 71.74H1285.12V85.52H1271.38ZM1325.14 71.74H1338.88V85.52H1325.14ZM1526.74 71.74H1540.48V85.52H1526.74ZM1257.94 85.22H1285.12V99.00H1257.94ZM1405.78 85.22H1419.52V99.00H1405.78ZM1499.86 85.22H1513.60V99.00H1499.86ZM1257.94 98.70H1271.68V112.48H1257.94ZM1352.02 98.70H1379.20V112.48H1352.02ZM1405.78 98.70H1419.52V112.48H1405.78ZM1284.82 112.18H1312.00V125.96H1284.82ZM1419.22 112.18H1432.96V125.96H1419.22ZM1540.18 112.18H1553.92V125.96H1540.18ZM1567.06 112.18H1580.80V125.96H1567.06ZM1378.90 125.66H1392.64V139.44H1378.90ZM1472.98 139.14H1486.72V152.92H1472.98ZM1513.30 139.14H1527.04V152.92H1513.30ZM1513.30 152.62H1540.48V166.40H1513.30ZM1257.94 166.10H1271.68V179.88H1257.94ZM1311.70 166.10H1325.44V179.88H1311.70ZM1257.94 179.58H1325.44V193.36H1257.94ZM1472.98 179.58H1500.16V193.36H1472.98ZM1486.42 193.06H1500.16V206.84H1486.42ZM1244.50 206.54H1258.24V220.32H1244.50ZM1325.14 206.54H1338.88V220.32H1325.14ZM1446.10 206.54H1459.84V220.32H1446.10ZM1553.62 206.54H1567.36V220.32H1553.62ZM1257.94 220.02H1271.68V233.80H1257.94ZM1338.58 220.02H1352.32V233.80H1338.58ZM1486.42 220.02H1513.60V233.80H1486.42ZM1567.06 220.02H1580.80V233.80H1567.06ZM1257.94 233.50H1271.68V247.28H1257.94ZM1553.62 233.50H1580.80V247.28H1553.62ZM1311.70 246.98H1325.44V260.76H1311.70ZM1432.66 246.98H1446.40V260.76H1432.66ZM1513.30 246.98H1527.04V260.76H1513.30ZM1540.18 246.98H1553.92V260.76H1540.18ZM1284.82 260.46H1298.56V274.24H1284.82ZM1499.86 260.46H1513.60V274.24H1499.86ZM1257.94 273.94H1271.68V287.72H1257.94ZM1311.70 273.94H1338.88V287.72H1311.70ZM1378.90 273.94H1406.08V287.72H1378.90ZM1432.66 273.94H1446.40V287.72H1432.66ZM1472.98 273.94H1513.60V287.72H1472.98ZM1257.94 287.42H1298.56V301.20H1257.94ZM1311.70 287.42H1325.44V301.20H1311.70ZM1338.58 287.42H1352.32V301.20H1338.58ZM1365.46 287.42H1379.20V301.20H1365.46ZM1405.78 287.42H1419.52V301.20H1405.78ZM1432.66 287.42H1446.40V301.20H1432.66ZM1459.54 287.42H1473.28V301.20H1459.54ZM1486.42 287.42H1500.16V301.20H1486.42ZM1526.74 287.42H1567.36V301.20H1526.74ZM1257.94 300.90H1298.56V314.68H1257.94ZM1338.58 300.90H1352.32V314.68H1338.58ZM1432.66 300.90H1446.40V314.68H1432.66ZM1459.54 300.90H1473.28V314.68H1459.54ZM1325.14 314.38H1338.88V328.16H1325.14ZM1392.34 314.38H1406.08V328.16H1392.34ZM1419.22 314.38H1432.96V328.16H1419.22ZM1486.42 314.38H1500.16V328.16H1486.42ZM1540.18 314.38H1580.80V328.16H1540.18ZM1325.14 327.86H1338.88V341.64H1325.14ZM1499.86 327.86H1513.60V341.64H1499.86ZM1298.26 341.34H1312.00V355.12H1298.26ZM1405.78 341.34H1446.40V355.12H1405.78ZM1284.82 354.82H1298.56V368.60H1284.82ZM1311.70 354.82H1325.44V368.60H1311.70ZM1352.02 354.82H1365.76V368.60H1352.02ZM1405.78 354.82H1419.52V368.60H1405.78ZM1499.86 354.82H1527.04V368.60H1499.86Z"/>
<path fill="#25ac82" d="M1338.58 31.30H1352.32V45.08H1338.58ZM1486.42 31.30H1500.16V45.08H1486.42ZM1526.74 31.30H1540.48V45.08H1526.74ZM1553.62 31.30H1580.80V45.08H1553.62ZM1338.58 44.78H1379.20V58.56H1338.58ZM1419.22 44.78H1432.96V58.56H1419.22ZM1526.74 44.78H1580.80V58.56H1526.74ZM1271.38 58.26H1285.12V72.04H1271.38ZM1311.70 58.26H1325.44V72.04H1311.70ZM1378.90 58.26H1392.64V72.04H1378.90ZM1513.30 58.26H1527.04V72.04H1513.30ZM1540.18 58.26H1580.80V72.04H1540.18ZM1284.82 71.74H1298.56V85.52H1284.82ZM1338.58 71.74H1365.76V85.52H1338.58ZM1392.34 71.74H1406.08V85.52H1392.34ZM1499.86 71.74H1527.04V85.52H1499.86ZM1553.62 71.74H1580.80V85.52H1553.62ZM1244.50 85.22H1258.24V99.00H1244.50ZM1325.14 85.22H1352.32V99.00H1325.14ZM1378.90 85.22H1406.08V99.00H1378.90ZM1419.22 85.22H1446.40V99.00H1419.22ZM1271.38 98.70H1312.00V112.48H1271.38ZM1378.90 98.70H1392.64V112.48H1378.90ZM1419.22 98.70H1446.40V112.48H1419.22ZM1513.30 98.70H1540.48V112.48H1513.30ZM1553.62 98.70H1567.36V112.48H1553.62ZM1271.38 112.18H1285.12V125.96H1271.38ZM1365.46 112.18H1379.20V125.96H1365.46ZM1392.34 112.18H1419.52V125.96H1392.34ZM1432.66 112.18H1446.40V125.96H1432.66ZM1459.54 112.18H1500.16V125.96H1459.54ZM1513.30 112.18H1540.48V125.96H1513.30ZM1553.62 112.18H1567.36V125.96H1553.62ZM1271.38 125.66H1285.12V139.44H1271.38ZM1298.26 125.66H1325.44V139.44H1298.26ZM1352.02 125.66H1379.20V139.44H1352.02ZM1392.34 125.66H1406.08V139.44H1392.34ZM1419.22 125.66H1446.40V139.44H1419.22ZM1459.54 125.66H1473.28V139.44H1459.54ZM1567.06 125.66H1580.80V139.44H1567.06ZM1271.38 139.14H1285.12V152.92H1271.38ZM1298.26 139.14H1312.00V152.92H1298.26ZM1352.02 139.14H1379.20V152.92H1352.02ZM1419.22 139.14H1432.96V152.92H1419.22ZM1446.10 139.14H1459.84V152.92H1446.10ZM1499.86 139.14H1513.60V152.92H1499.86ZM1526.74 139.14H1553.92V152.92H1526.74ZM1567.06 139.14H1580.80V152.92H1567.06ZM1244.50 152.62H1258.24V166.40H1244.50ZM1405.78 152.62H1419.52V166.40H1405.78ZM1432.66 152.62H1446.40V166.40H1432.66ZM1486.42 152.62H1513.60V166.40H1486.42ZM1284.82 166.10H1312.00V179.88H1284.82ZM1325.14 166.10H1338.88V179.88H1325.14ZM1352.02 166.10H1365.76V179.88H1352.02ZM1486.42 166.10H1527.04V179.88H1486.42ZM1513.30 179.58H1527.04V193.36H1513.30ZM1244.50 193.06H1258.24V206.84H1244.50ZM1284.82 193.06H1325.44V206.84H1284.82ZM1338.58 193.06H1352.32V206.84H1338.58ZM1472.98 193.06H1486.72V206.84H1472.98ZM1526.74 193.06H1553.92V206.84H1526.74ZM1284.82 206.54H1312.00V220.32H1284.82ZM1352.02 206.54H1379.20V220.32H1352.02ZM1459.54 206.54H1553.92V220.32H1459.54ZM1567.06 206.54H1580.80V220.32H1567.06ZM1284.82 220.02H1298.56V233.80H1284.82ZM1325.14 220.02H1338.88V233.80H1325.14ZM1352.02 220.02H1365.76V233.80H1352.02ZM1432.66 220.02H1446.40V233.80H1432.66ZM1526.74 220.02H1540.48V233.80H1526.74ZM1284.82 233.50H1298.56V247.28H1284.82ZM1338.58 233.50H1352.32V247.28H1338.58ZM1446.10 233.50H1459.84V247.28H1446.10ZM1244.50 246.98H1285.12V260.76H1244.50ZM1298.26 246.98H1312.00V260.76H1298.26ZM1325.14 246.98H1338.88V260.76H1325.14ZM1419.22 246.98H1432.96V260.76H1419.22ZM1446.10 246.98H1459.84V260.76H1446.10ZM1526.74 246.98H1540.48V260.76H1526.74ZM1553.62 246.98H1580.80V260.76H1553.62ZM1244.50 260.46H1258.24V274.24H1244.50ZM1338.58 260.46H1352.32V274.24H1338.58ZM1365.46 260.46H1392.64V274.24H1365.46ZM1446.10 260.46H1459.84V274.24H1446.10ZM1513.30 260.46H1527.04V274.24H1513.30ZM1567.06 260.46H1580.80V274.24H1567.06ZM1446.10 273.94H1473.28V287.72H1446.10ZM1553.62 273.94H1580.80V287.72H1553.62ZM1244.50 287.42H1258.24V301.20H1244.50ZM1378.90 287.42H1392.64V301.20H1378.90ZM1446.10 287.42H1459.84V301.20H1446.10ZM1472.98 287.42H1486.72V301.20H1472.98ZM1499.86 287.42H1513.60V301.20H1499.86ZM1244.50 300.90H1258.24V314.68H1244.50ZM1298.26 300.90H1312.00V314.68H1298.26ZM1325.14 300.90H1338.88V314.68H1325.14ZM1352.02 300.90H1392.64V314.68H1352.02ZM1419.22 300.90H1432.96V314.68H1419.22ZM1472.98 300.90H1486.72V314.68H1472.98ZM1338.58 314.38H1392.64V328.16H1338.58ZM1513.30 314.38H1540.48V328.16H1513.30ZM1338.58 327.86H1352.32V341.64H1338.58ZM1392.34 327.86H1406.08V341.64H1392.34ZM1526.74 327.86H1580.80V341.64H1526.74ZM1284.82 341.34H1298.56V355.12H1284.82ZM1311.70 341.34H1338.88V355.12H1311.70ZM1392.34 341.34H1406.08V355.12H1392.34ZM1446.10 341.34H1473.28V355.12H1446.10ZM1553.62 341.34H1567.36V355.12H1553.62ZM1271.38 354.82H1285.12V368.60H1271.38ZM1325.14 354.82H1338.88V368.60H1325.14ZM1446.10 354.82H1459.84V368.60H1446.10Z"/>
<path fill="#44bf70" d="M1244.50 31.30H1258.24V45.08H1244.50ZM1284.82 31.30H1298.56V45.08H1284.82ZM1352.02 31.30H1365.76V45.08H1352.02ZM1472.98 31.30H1486.72V45.08H1472.98ZM1244.50 44.78H1258.24V58.56H1244.50ZM1432.66 44.78H1446.40V58.56H1432.66ZM1459.54 44.78H1486.72V58.56H1459.54ZM1244.50 58.26H1258.24V72.04H1244.50ZM1352.02 58.26H1379.20V72.04H1352.02ZM1419.22 58.26H1459.84V72.04H1419.22ZM1257.94 71.74H1271.68V85.52H1257.94ZM1298.26 71.74H1325.44V85.52H1298.26ZM1378.90 71.74H1392.64V85.52H1378.90ZM1405.78 71.74H1419.52V85.52H1405.78ZM1459.54 71.74H1500.16V85.52H1459.54ZM1540.18 71.74H1553.92V85.52H1540.18ZM1311.70 85.22H1325.44V99.00H1311.70ZM1446.10 85.22H1459.84V99.00H1446.10ZM1472.98 85.22H1500.16V99.00H1472.98ZM1513.30 85.22H1540.48V99.00H1513.30ZM1553.62 85.22H1567.36V99.00H1553.62ZM1244.50 98.70H1258.24V112.48H1244.50ZM1311.70 98.70H1352.32V112.48H1311.70ZM1392.34 98.70H1406.08V112.48H1392.34ZM1446.10 98.70H1473.28V112.48H1446.10ZM1486.42 98.70H1500.16V112.48H1486.42ZM1540.18 98.70H1553.92V112.48H1540.18ZM1244.50 112.18H1271.68V125.96H1244.50ZM1311.70 112.18H1325.44V125.96H1311.70ZM1446.10 112.18H1459.84V125.96H1446.10ZM1244.50 125.66H1258.24V139.44H1244.50ZM1325.14 125.66H1352.32V139.44H1325.14ZM1405.78 125.66H1419.52V139.44H1405.78ZM1446.10 125.66H1459.84V139.44H1446.10ZM1540.18 125.66H1553.92V139.44H1540.18ZM1378.90 139.14H1419.52V152.92H1378.90ZM1432.66 139.14H1446.40V152.92H1432.66ZM1459.54 139.14H1473.28V152.92H1459.54ZM1271.38 152.62H1285.12V166.40H1271.38ZM1298.26 152.62H1312.00V166.40H1298.26ZM1325.14 152.62H1338.88V166.40H1325.14ZM1352.02 152.62H1365.76V166.40H1352.02ZM1271.38 166.10H1285.12V179.88H1271.38ZM1338.58 166.10H1352.32V179.88H1338.58ZM1419.22 166.10H1432.96V179.88H1419.22ZM1472.98 166.10H1486.72V179.88H1472.98ZM1526.74 166.10H1540.48V179.88H1526.74ZM1338.58 179.58H1352.32V193.36H1338.58ZM1257.94 193.06H1285.12V206.84H1257.94ZM1325.14 193.06H1338.88V206.84H1325.14ZM1352.02 193.06H1365.76V206.84H1352.02ZM1446.10 193.06H1459.84V206.84H1446.10ZM1499.86 193.06H1527.04V206.84H1499.86ZM1257.94 206.54H1271.68V220.32H1257.94ZM1311.70 206.54H1325.44V220.32H1311.70ZM1432.66 206.54H1446.40V220.32H1432.66ZM1271.38 220.02H1285.12V233.80H1271.38ZM1298.26 220.02H1312.00V233.80H1298.26ZM1365.46 220.02H1379.20V233.80H1365.46ZM1513.30 220.02H1527.04V233.80H1513.30ZM1271.38 233.50H1285.12V247.28H1271.38ZM1405.78 233.50H1446.40V247.28H1405.78ZM1513.30 233.50H1540.48V247.28H1513.30ZM1284.82 246.98H1298.56V260.76H1284.82ZM1338.58 246.98H1352.32V260.76H1338.58ZM1378.90 246.98H1419.52V260.76H1378.90ZM1352.02 260.46H1365.76V274.24H1352.02ZM1392.34 260.46H1432.96V274.24H1392.34ZM1526.74 260.46H1567.36V274.24H1526.74ZM1244.50 273.94H1258.24V287.72H1244.50ZM1405.78 273.94H1419.52V287.72H1405.78ZM1526.74 273.94H1553.92V287.72H1526.74ZM1325.14 287.42H1338.88V301.20H1325.14ZM1419.22 287.42H1432.96V301.20H1419.22ZM1311.70 300.90H1325.44V314.68H1311.70ZM1244.50 314.38H1271.68V328.16H1244.50ZM1284.82 314.38H1298.56V328.16H1284.82ZM1284.82 327.86H1298.56V341.64H1284.82ZM1311.70 327.86H1325.44V341.64H1311.70ZM1352.02 327.86H1365.76V341.64H1352.02ZM1378.90 327.86H1392.64V341.64H1378.90ZM1405.78 327.86H1419.52V341.64H1405.78ZM1271.38 341.34H1285.12V355.12H1271.38ZM1338.58 341.34H1365.76V355.12H1338.58ZM1567.06 341.34H1580.80V355.12H1567.06ZM1257.94 354.82H1271.68V368.60H1257.94ZM1419.22 354.82H1446.40V368.60H1419.22ZM1486.42 354.82H1500.16V368.60H1486.42ZM1553.62 354.82H1580.80V368.60H1553.62Z"/>
<path fill="#67cc5c" d="M1257.94 31.30H1271.68V45.08H1257.94ZM1365.46 31.30H1379.20V45.08H1365.46ZM1419.22 31.30H1446.40V45.08H1419.22ZM1459.54 31.30H1473.28V45.08H1459.54ZM1499.86 31.30H1513.60V45.08H1499.86ZM1271.38 44.78H1285.12V58.56H1271.38ZM1378.90 44.78H1392.64V58.56H1378.90ZM1446.10 44.78H1459.84V58.56H1446.10ZM1486.42 44.78H1500.16V58.56H1486.42ZM1513.30 44.78H1527.04V58.56H1513.30ZM1257.94 58.26H1271.68V72.04H1257.94ZM1392.34 58.26H1419.52V72.04H1392.34ZM1472.98 58.26H1513.60V72.04H1472.98ZM1244.50 71.74H1258.24V85.52H1244.50ZM1365.46 71.74H1379.20V85.52H1365.46ZM1419.22 71.74H1459.84V85.52H1419.22ZM1284.82 85.22H1312.00V99.00H1284.82ZM1459.54 85.22H1473.28V99.00H1459.54ZM1540.18 85.22H1553.92V99.00H1540.18ZM1472.98 98.70H1486.72V112.48H1472.98ZM1325.14 112.18H1365.76V125.96H1325.14ZM1257.94 125.66H1271.68V139.44H1257.94ZM1284.82 125.66H1298.56V139.44H1284.82ZM1526.74 125.66H1540.48V139.44H1526.74ZM1244.50 139.14H1271.68V152.92H1244.50ZM1284.82 139.14H1298.56V152.92H1284.82ZM1325.14 139.14H1352.32V152.92H1325.14ZM1257.94 152.62H1271.68V166.40H1257.94ZM1284.82 152.62H1298.56V166.40H1284.82ZM1338.58 152.62H1352.32V166.40H1338.58ZM1365.46 152.62H1406.08V166.40H1365.46ZM1446.10 152.62H1486.72V166.40H1446.10ZM1365.46 166.10H1379.20V179.88H1365.46ZM1432.66 166.10H1446.40V179.88H1432.66ZM1325.14 179.58H1338.88V193.36H1325.14ZM1352.02 179.58H1379.20V193.36H1352.02ZM1459.54 179.58H1473.28V193.36H1459.54ZM1499.86 179.58H1513.60V193.36H1499.86ZM1365.46 193.06H1379.20V206.84H1365.46ZM1432.66 193.06H1446.40V206.84H1432.66ZM1459.54 193.06H1473.28V206.84H1459.54ZM1271.38 206.54H1285.12V220.32H1271.38ZM1311.70 220.02H1325.44V233.80H1311.70ZM1378.90 220.02H1392.64V233.80H1378.90ZM1419.22 220.02H1432.96V233.80H1419.22ZM1298.26 233.50H1338.88V247.28H1298.26ZM1352.02 233.50H1406.08V247.28H1352.02ZM1352.02 246.98H1379.20V260.76H1352.02ZM1419.22 273.94H1432.96V287.72H1419.22ZM1513.30 273.94H1527.04V287.72H1513.30ZM1513.30 287.42H1527.04V301.20H1513.30ZM1486.42 300.90H1527.04V314.68H1486.42ZM1271.38 314.38H1285.12V328.16H1271.38ZM1298.26 314.38H1325.44V328.16H1298.26ZM1499.86 314.38H1513.60V328.16H1499.86ZM1244.50 327.86H1285.12V341.64H1244.50ZM1298.26 327.86H1312.00V341.64H1298.26ZM1365.46 327.86H1379.20V341.64H1365.46ZM1244.50 341.34H1271.68V355.12H1244.50ZM1365.46 341.34H1392.64V355.12H1365.46ZM1244.50 354.82H1258.24V368.60H1244.50ZM1365.46 354.82H1406.08V368.60H1365.46Z"/>
<path fill="#a8db34" d="M1271.38 31.30H1285.12V45.08H1271.38ZM1378.90 31.30H1419.52V45.08H1378.90ZM1446.10 31.30H1459.84V45.08H1446.10ZM1513.30 31.30H1527.04V45.08H1513.30ZM1257.94 44.78H1271.68V58.56H1257.94ZM1392.34 44.78H1419.52V58.56H1392.34ZM1499.86 44.78H1513.60V58.56H1499.86ZM1405.78 166.10H1419.52V179.88H1405.78ZM1446.10 166.10H1473.28V179.88H1446.10ZM1378.90 179.58H1392.64V193.36H1378.90ZM1432.66 179.58H1459.84V193.36H1432.66ZM1378.90 193.06H1392.64V206.84H1378.90ZM1419.22 206.54H1432.96V220.32H1419.22ZM1392.34 220.02H1419.52V233.80H1392.34Z"/>
<path fill="#f6e620" d="M1378.90 166.10H1406.08V179.88H1378.90ZM1392.34 179.58H1432.96V193.36H1392.34ZM1392.34 193.06H1432.96V206.84H1392.34ZM1378.90 206.54H1419.52V220.32H1378.90Z"/>
</g>
<path d="M1251.50 368.50v-5.6M1251.50 32.50v5.6M1244.50 362.50h5.6M1580.50 362.50h-5.6M1318.50 368.50v-5.6M1318.50 32.50v5.6M1244.50 295.50h5.6M1580.50 295.50h-5.6M1385.50 368.50v-5.6M1385.50 32.50v5.6M1244.50 227.50h5.6M1580.50 227.50h-5.6M1453.50 368.50v-5.6M1453.50 32.50v5.6M1244.50 160.50h5.6M1580.50 160.50h-5.6M1520.50 368.50v-5.6M1520.50 32.50v5.6M1244.50 92.50h5.6M1580.50 92.50h-5.6" stroke="#000" stroke-width="1" fill="none" shape-rendering="crispEdges"/>
<rect x="1244.5" y="32.5" width="336.0" height="336.0" fill="none" stroke="#000" stroke-width="1.39"/>
<text x="1250.82" y="387.90" font-size="17.00" text-anchor="middle" textLength="9.8" lengthAdjust="spacingAndGlyphs">0</text>
<text x="1236.90" y="365.90" font-size="17.00" text-anchor="end" textLength="9.8" lengthAdjust="spacingAndGlyphs">0</text>
<text x="1318.02" y="387.90" font-size="17.00" text-anchor="middle" textLength="9.8" lengthAdjust="spacingAndGlyphs">5</text>
<text x="1236.90" y="298.90" font-size="17.00" text-anchor="end" textLength="9.8" lengthAdjust="spacingAndGlyphs">5</text>
<text x="1385.22" y="387.90" font-size="17.00" text-anchor="middle" textLength="19.6" lengthAdjust="spacingAndGlyphs">10</text>
<text x="1236.90" y="230.90" font-size="17.00" text-anchor="end" textLength="19.6" lengthAdjust="spacingAndGlyphs">10</text>
<text x="1452.42" y="387.90" font-size="17.00" text-anchor="middle" textLength="19.6" lengthAdjust="spacingAndGlyphs">15</text>
<text x="1236.90" y="163.90" font-size="17.00" text-anchor="end" textLength="19.6" lengthAdjust="spacingAndGlyphs">15</text>
<text x="1519.62" y="387.90" font-size="17.00" text-anchor="middle" textLength="19.6" lengthAdjust="spacingAndGlyphs">20</text>
<text x="1236.90" y="95.90" font-size="17.00" text-anchor="end" textLength="19.6" lengthAdjust="spacingAndGlyphs">20</text>
<text x="1412.00" y="24.60" font-size="20.40" text-anchor="middle" textLength="141.0" lengthAdjust="spacingAndGlyphs">WFC3 IR Total</text>
</svg></body></html>
